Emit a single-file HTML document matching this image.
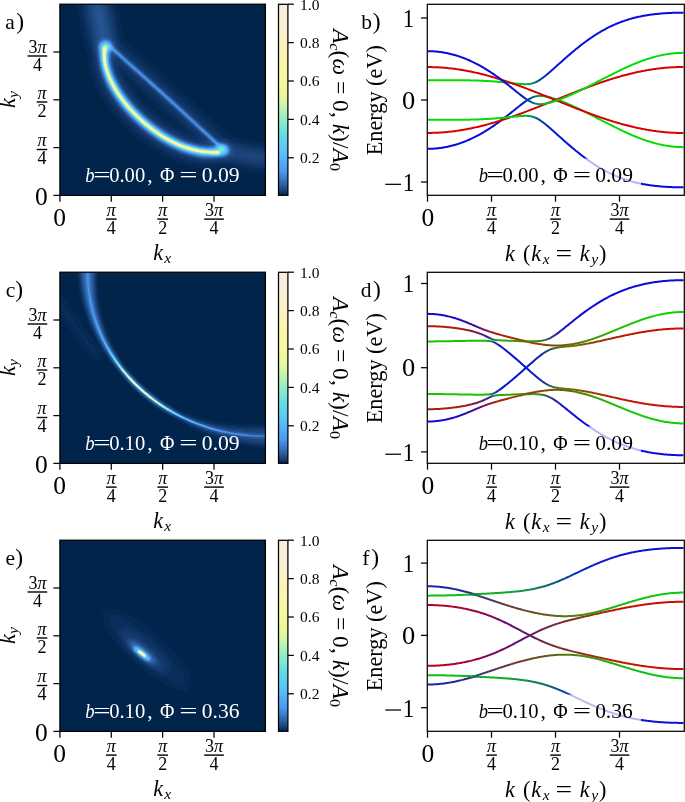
<!DOCTYPE html>
<html><head><meta charset="utf-8"><style>html,body{margin:0;padding:0;background:#fff;overflow:hidden}svg{display:block}</style></head>
<body><svg width="685" height="802" viewBox="0 0 685 802" font-family="Liberation Serif"><defs><linearGradient id="cbg" x1="0" y1="0" x2="0" y2="1"><stop offset="0.000" stop-color="#fcece0"/><stop offset="0.025" stop-color="#fcedde"/><stop offset="0.050" stop-color="#fceedc"/><stop offset="0.075" stop-color="#fcefda"/><stop offset="0.100" stop-color="#fcf0d8"/><stop offset="0.125" stop-color="#fcf0d3"/><stop offset="0.150" stop-color="#fcf0ce"/><stop offset="0.175" stop-color="#fcf0c9"/><stop offset="0.200" stop-color="#fcf0c4"/><stop offset="0.225" stop-color="#fcf1be"/><stop offset="0.250" stop-color="#fcf2b8"/><stop offset="0.275" stop-color="#fcf4b1"/><stop offset="0.300" stop-color="#fbf5ac"/><stop offset="0.325" stop-color="#faf6a7"/><stop offset="0.350" stop-color="#f8f8a2"/><stop offset="0.375" stop-color="#f7f89f"/><stop offset="0.400" stop-color="#f6f89e"/><stop offset="0.425" stop-color="#f2f89a"/><stop offset="0.450" stop-color="#eef89a"/><stop offset="0.475" stop-color="#e9f89f"/><stop offset="0.500" stop-color="#ddf6a4"/><stop offset="0.525" stop-color="#cef4a9"/><stop offset="0.550" stop-color="#baf1b3"/><stop offset="0.575" stop-color="#a7efbd"/><stop offset="0.600" stop-color="#93ecc6"/><stop offset="0.625" stop-color="#85e9cd"/><stop offset="0.650" stop-color="#79e4d6"/><stop offset="0.675" stop-color="#6cdce0"/><stop offset="0.700" stop-color="#65d7e7"/><stop offset="0.725" stop-color="#5fd2ee"/><stop offset="0.750" stop-color="#5dcaf6"/><stop offset="0.775" stop-color="#5ac2f9"/><stop offset="0.800" stop-color="#58b8fa"/><stop offset="0.825" stop-color="#54acf8"/><stop offset="0.850" stop-color="#4fa3f4"/><stop offset="0.875" stop-color="#4b9af1"/><stop offset="0.900" stop-color="#4186d9"/><stop offset="0.925" stop-color="#3670bb"/><stop offset="0.950" stop-color="#2b5c9b"/><stop offset="0.975" stop-color="#194277"/><stop offset="1.000" stop-color="#00244a"/></linearGradient><filter id="cm" x="0" y="0" width="1" height="1" color-interpolation-filters="sRGB"><feComponentTransfer><feFuncR type="table" tableValues="0.0000 0.0549 0.0838 0.1127 0.1416 0.1681 0.1851 0.2020 0.2190 0.2364 0.2543 0.2723 0.2902 0.2973 0.3045 0.3116 0.3187 0.3258 0.3325 0.3388 0.3451 0.3488 0.3526 0.3563 0.3600 0.3638 0.3677 0.3715 0.3753 0.3845 0.3960 0.4075 0.4189 0.4350 0.4541 0.4733 0.4924 0.5121 0.5323 0.5526 0.5769 0.6076 0.6382 0.6688 0.6996 0.7310 0.7624 0.7937 0.8226 0.8455 0.8685 0.8914 0.9113 0.9188 0.9262 0.9337 0.9412 0.9471 0.9529 0.9588 0.9647 0.9666 0.9684 0.9703 0.9722 0.9742 0.9762 0.9782 0.9802 0.9822 0.9842 0.9862 0.9882 0.9882 0.9882 0.9882 0.9882 0.9882 0.9882 0.9882 0.9882 0.9882 0.9882 0.9882 0.9882 0.9882 0.9882 0.9882 0.9882 0.9882 0.9882 0.9882 0.9882 0.9882 0.9882 0.9882 0.9882 0.9882 0.9882 0.9882 0.9882"/><feFuncG type="table" tableValues="0.1412 0.1961 0.2374 0.2786 0.3199 0.3593 0.3911 0.4229 0.4547 0.4885 0.5244 0.5602 0.5961 0.6103 0.6246 0.6389 0.6531 0.6674 0.6839 0.7027 0.7216 0.7365 0.7514 0.7664 0.7813 0.7935 0.8050 0.8165 0.8279 0.8367 0.8444 0.8520 0.8597 0.8696 0.8811 0.8926 0.9041 0.9123 0.9174 0.9225 0.9270 0.9308 0.9347 0.9385 0.9424 0.9463 0.9502 0.9541 0.9580 0.9618 0.9657 0.9695 0.9725 0.9725 0.9725 0.9725 0.9725 0.9725 0.9725 0.9725 0.9725 0.9725 0.9725 0.9725 0.9725 0.9709 0.9689 0.9669 0.9649 0.9629 0.9609 0.9589 0.9569 0.9549 0.9529 0.9510 0.9490 0.9471 0.9451 0.9431 0.9412 0.9412 0.9412 0.9412 0.9412 0.9412 0.9412 0.9412 0.9412 0.9412 0.9412 0.9396 0.9380 0.9365 0.9349 0.9333 0.9318 0.9302 0.9286 0.9271 0.9255"/><feFuncB type="table" tableValues="0.2902 0.3843 0.4400 0.4958 0.5515 0.6063 0.6571 0.7080 0.7589 0.8067 0.8515 0.8964 0.9412 0.9469 0.9526 0.9583 0.9640 0.9697 0.9741 0.9773 0.9804 0.9785 0.9767 0.9748 0.9729 0.9634 0.9519 0.9404 0.9289 0.9175 0.9060 0.8945 0.8830 0.8692 0.8539 0.8386 0.8233 0.8106 0.8005 0.7904 0.7782 0.7629 0.7476 0.7323 0.7169 0.7012 0.6855 0.6698 0.6565 0.6489 0.6412 0.6336 0.6260 0.6185 0.6110 0.6035 0.5961 0.6020 0.6078 0.6137 0.6196 0.6215 0.6233 0.6252 0.6271 0.6339 0.6419 0.6500 0.6580 0.6661 0.6741 0.6822 0.6902 0.7000 0.7098 0.7196 0.7294 0.7392 0.7490 0.7588 0.7686 0.7765 0.7843 0.7922 0.8000 0.8078 0.8157 0.8235 0.8314 0.8392 0.8471 0.8502 0.8533 0.8565 0.8596 0.8627 0.8659 0.8690 0.8722 0.8753 0.8784"/></feComponentTransfer></filter><clipPath id="clipL0"><rect x="59.9" y="4.2" width="205.5" height="191.2"/></clipPath><linearGradient id="gc0" gradientUnits="userSpaceOnUse" x1="87.6" y1="4.3" x2="265.3" y2="168.2"><stop offset="0" stop-color="#fff" stop-opacity="0.02"/><stop offset="0.15" stop-color="#fff" stop-opacity="0.04"/><stop offset="0.28" stop-color="#fff" stop-opacity="0.12"/><stop offset="0.36" stop-color="#fff" stop-opacity="0.35"/><stop offset="0.44" stop-color="#fff" stop-opacity="0.7"/><stop offset="0.5" stop-color="#fff" stop-opacity="0.78"/><stop offset="0.56" stop-color="#fff" stop-opacity="0.6"/><stop offset="0.64" stop-color="#fff" stop-opacity="0.3"/><stop offset="0.75" stop-color="#fff" stop-opacity="0.12"/><stop offset="0.88" stop-color="#fff" stop-opacity="0.06"/><stop offset="1" stop-color="#fff" stop-opacity="0.04"/></linearGradient><linearGradient id="gcg0" gradientUnits="userSpaceOnUse" x1="87.6" y1="4.3" x2="265.3" y2="168.2"><stop offset="0" stop-color="#fff" stop-opacity="0.03"/><stop offset="0.25" stop-color="#fff" stop-opacity="0.05"/><stop offset="0.45" stop-color="#fff" stop-opacity="0.12"/><stop offset="0.55" stop-color="#fff" stop-opacity="0.12"/><stop offset="0.7" stop-color="#fff" stop-opacity="0.05"/><stop offset="1" stop-color="#fff" stop-opacity="0.02"/></linearGradient><clipPath id="clipR0"><rect x="427.3" y="4.3" width="257" height="191"/></clipPath><clipPath id="clipL1"><rect x="59.9" y="272.2" width="205.5" height="191.2"/></clipPath><linearGradient id="gc268" gradientUnits="userSpaceOnUse" x1="87.6" y1="272.3" x2="265.3" y2="436.2"><stop offset="0" stop-color="#fff" stop-opacity="0.02"/><stop offset="0.15" stop-color="#fff" stop-opacity="0.04"/><stop offset="0.28" stop-color="#fff" stop-opacity="0.12"/><stop offset="0.36" stop-color="#fff" stop-opacity="0.35"/><stop offset="0.44" stop-color="#fff" stop-opacity="0.7"/><stop offset="0.5" stop-color="#fff" stop-opacity="0.78"/><stop offset="0.56" stop-color="#fff" stop-opacity="0.6"/><stop offset="0.64" stop-color="#fff" stop-opacity="0.3"/><stop offset="0.75" stop-color="#fff" stop-opacity="0.12"/><stop offset="0.88" stop-color="#fff" stop-opacity="0.06"/><stop offset="1" stop-color="#fff" stop-opacity="0.04"/></linearGradient><linearGradient id="gcg268" gradientUnits="userSpaceOnUse" x1="87.6" y1="272.3" x2="265.3" y2="436.2"><stop offset="0" stop-color="#fff" stop-opacity="0.03"/><stop offset="0.25" stop-color="#fff" stop-opacity="0.05"/><stop offset="0.45" stop-color="#fff" stop-opacity="0.12"/><stop offset="0.55" stop-color="#fff" stop-opacity="0.12"/><stop offset="0.7" stop-color="#fff" stop-opacity="0.05"/><stop offset="1" stop-color="#fff" stop-opacity="0.02"/></linearGradient><clipPath id="clipR1"><rect x="427.3" y="272.3" width="257" height="191"/></clipPath><clipPath id="clipL2"><rect x="59.9" y="540.2" width="205.5" height="191.2"/></clipPath><linearGradient id="gc536" gradientUnits="userSpaceOnUse" x1="87.6" y1="540.3" x2="265.3" y2="704.2"><stop offset="0" stop-color="#fff" stop-opacity="0.02"/><stop offset="0.15" stop-color="#fff" stop-opacity="0.04"/><stop offset="0.28" stop-color="#fff" stop-opacity="0.12"/><stop offset="0.36" stop-color="#fff" stop-opacity="0.35"/><stop offset="0.44" stop-color="#fff" stop-opacity="0.7"/><stop offset="0.5" stop-color="#fff" stop-opacity="0.78"/><stop offset="0.56" stop-color="#fff" stop-opacity="0.6"/><stop offset="0.64" stop-color="#fff" stop-opacity="0.3"/><stop offset="0.75" stop-color="#fff" stop-opacity="0.12"/><stop offset="0.88" stop-color="#fff" stop-opacity="0.06"/><stop offset="1" stop-color="#fff" stop-opacity="0.04"/></linearGradient><linearGradient id="gcg536" gradientUnits="userSpaceOnUse" x1="87.6" y1="540.3" x2="265.3" y2="704.2"><stop offset="0" stop-color="#fff" stop-opacity="0.03"/><stop offset="0.25" stop-color="#fff" stop-opacity="0.05"/><stop offset="0.45" stop-color="#fff" stop-opacity="0.12"/><stop offset="0.55" stop-color="#fff" stop-opacity="0.12"/><stop offset="0.7" stop-color="#fff" stop-opacity="0.05"/><stop offset="1" stop-color="#fff" stop-opacity="0.02"/></linearGradient><clipPath id="clipR2"><rect x="427.3" y="540.3" width="257" height="191"/></clipPath><linearGradient id="lg0_0" gradientUnits="userSpaceOnUse" x1="427.5" y1="0" x2="683.5" y2="0"><stop offset="0.0000" stop-color="#0809e0"/><stop offset="0.0156" stop-color="#0809e0"/><stop offset="0.0312" stop-color="#0809e0"/><stop offset="0.0469" stop-color="#0809e0"/><stop offset="0.0625" stop-color="#0809e0"/><stop offset="0.0781" stop-color="#0809e0"/><stop offset="0.0938" stop-color="#0809e0"/><stop offset="0.1094" stop-color="#0809e0"/><stop offset="0.1250" stop-color="#0809e0"/><stop offset="0.1406" stop-color="#0809e0"/><stop offset="0.1562" stop-color="#0809e0"/><stop offset="0.1719" stop-color="#0809e0"/><stop offset="0.1875" stop-color="#0809e0"/><stop offset="0.2031" stop-color="#0809e0"/><stop offset="0.2188" stop-color="#080adf"/><stop offset="0.2344" stop-color="#080adf"/><stop offset="0.2500" stop-color="#080adf"/><stop offset="0.2656" stop-color="#080bde"/><stop offset="0.2812" stop-color="#080cdd"/><stop offset="0.2969" stop-color="#080ddc"/><stop offset="0.3125" stop-color="#080eda"/><stop offset="0.3281" stop-color="#0811d8"/><stop offset="0.3437" stop-color="#0814d4"/><stop offset="0.3594" stop-color="#071ace"/><stop offset="0.3750" stop-color="#0725c3"/><stop offset="0.3906" stop-color="#0637b0"/><stop offset="0.4063" stop-color="#055591"/><stop offset="0.4219" stop-color="#047b69"/><stop offset="0.4375" stop-color="#029e45"/><stop offset="0.4531" stop-color="#02b52d"/><stop offset="0.4687" stop-color="#01c31e"/><stop offset="0.4844" stop-color="#01cb15"/><stop offset="0.5000" stop-color="#01d110"/><stop offset="0.5156" stop-color="#00d40c"/><stop offset="0.5312" stop-color="#00d60a"/><stop offset="0.5469" stop-color="#00d808"/><stop offset="0.5625" stop-color="#00d907"/><stop offset="0.5781" stop-color="#00da06"/><stop offset="0.5938" stop-color="#00db05"/><stop offset="0.6094" stop-color="#00db05"/><stop offset="0.6250" stop-color="#00dc04"/><stop offset="0.6406" stop-color="#00dc04"/><stop offset="0.6562" stop-color="#00dc04"/><stop offset="0.6719" stop-color="#00dd03"/><stop offset="0.6875" stop-color="#00dd03"/><stop offset="0.7031" stop-color="#00dd03"/><stop offset="0.7188" stop-color="#00dd03"/><stop offset="0.7344" stop-color="#00dd03"/><stop offset="0.7500" stop-color="#00dd03"/><stop offset="0.7656" stop-color="#00dd03"/><stop offset="0.7812" stop-color="#00de03"/><stop offset="0.7969" stop-color="#00de02"/><stop offset="0.8125" stop-color="#00de02"/><stop offset="0.8281" stop-color="#00de02"/><stop offset="0.8438" stop-color="#00de02"/><stop offset="0.8594" stop-color="#00de02"/><stop offset="0.8750" stop-color="#00de02"/><stop offset="0.8906" stop-color="#00de02"/><stop offset="0.9062" stop-color="#00de02"/><stop offset="0.9219" stop-color="#00de02"/><stop offset="0.9375" stop-color="#00de02"/><stop offset="0.9531" stop-color="#00de02"/><stop offset="0.9688" stop-color="#00de02"/><stop offset="0.9844" stop-color="#00de02"/><stop offset="1.0000" stop-color="#00de02"/></linearGradient><linearGradient id="lg0_1" gradientUnits="userSpaceOnUse" x1="427.5" y1="0" x2="683.5" y2="0"><stop offset="0.0000" stop-color="#d80000"/><stop offset="0.0156" stop-color="#d80000"/><stop offset="0.0312" stop-color="#d80000"/><stop offset="0.0469" stop-color="#d80000"/><stop offset="0.0625" stop-color="#d80000"/><stop offset="0.0781" stop-color="#d80000"/><stop offset="0.0938" stop-color="#d80000"/><stop offset="0.1094" stop-color="#d80000"/><stop offset="0.1250" stop-color="#d80000"/><stop offset="0.1406" stop-color="#d80000"/><stop offset="0.1562" stop-color="#d80000"/><stop offset="0.1719" stop-color="#d80000"/><stop offset="0.1875" stop-color="#d80000"/><stop offset="0.2031" stop-color="#d80000"/><stop offset="0.2188" stop-color="#d80000"/><stop offset="0.2344" stop-color="#d80000"/><stop offset="0.2500" stop-color="#d80000"/><stop offset="0.2656" stop-color="#d80000"/><stop offset="0.2812" stop-color="#d80000"/><stop offset="0.2969" stop-color="#d80000"/><stop offset="0.3125" stop-color="#d80000"/><stop offset="0.3281" stop-color="#d80000"/><stop offset="0.3437" stop-color="#d80000"/><stop offset="0.3594" stop-color="#d80000"/><stop offset="0.3750" stop-color="#d80000"/><stop offset="0.3906" stop-color="#d80000"/><stop offset="0.4063" stop-color="#d80000"/><stop offset="0.4219" stop-color="#d80000"/><stop offset="0.4375" stop-color="#d80000"/><stop offset="0.4531" stop-color="#d80000"/><stop offset="0.4687" stop-color="#d80000"/><stop offset="0.4844" stop-color="#d80000"/><stop offset="0.5000" stop-color="#d80000"/><stop offset="0.5156" stop-color="#d80000"/><stop offset="0.5312" stop-color="#d80000"/><stop offset="0.5469" stop-color="#d80000"/><stop offset="0.5625" stop-color="#d80000"/><stop offset="0.5781" stop-color="#d80000"/><stop offset="0.5938" stop-color="#d80000"/><stop offset="0.6094" stop-color="#d80000"/><stop offset="0.6250" stop-color="#d80000"/><stop offset="0.6406" stop-color="#d80000"/><stop offset="0.6562" stop-color="#d80000"/><stop offset="0.6719" stop-color="#d80000"/><stop offset="0.6875" stop-color="#d80000"/><stop offset="0.7031" stop-color="#d80000"/><stop offset="0.7188" stop-color="#d80000"/><stop offset="0.7344" stop-color="#d80000"/><stop offset="0.7500" stop-color="#d80000"/><stop offset="0.7656" stop-color="#d80000"/><stop offset="0.7812" stop-color="#d80000"/><stop offset="0.7969" stop-color="#d80000"/><stop offset="0.8125" stop-color="#d80000"/><stop offset="0.8281" stop-color="#d80000"/><stop offset="0.8438" stop-color="#d80000"/><stop offset="0.8594" stop-color="#d80000"/><stop offset="0.8750" stop-color="#d80000"/><stop offset="0.8906" stop-color="#d80000"/><stop offset="0.9062" stop-color="#d80000"/><stop offset="0.9219" stop-color="#d80000"/><stop offset="0.9375" stop-color="#d80000"/><stop offset="0.9531" stop-color="#d80000"/><stop offset="0.9688" stop-color="#d80000"/><stop offset="0.9844" stop-color="#d80000"/><stop offset="1.0000" stop-color="#d80000"/></linearGradient><linearGradient id="lg0_2" gradientUnits="userSpaceOnUse" x1="427.5" y1="0" x2="683.5" y2="0"><stop offset="0.0000" stop-color="#00df01"/><stop offset="0.0156" stop-color="#00df01"/><stop offset="0.0312" stop-color="#00df01"/><stop offset="0.0469" stop-color="#00df01"/><stop offset="0.0625" stop-color="#00df01"/><stop offset="0.0781" stop-color="#00df01"/><stop offset="0.0938" stop-color="#00df01"/><stop offset="0.1094" stop-color="#00df01"/><stop offset="0.1250" stop-color="#00df01"/><stop offset="0.1406" stop-color="#00df01"/><stop offset="0.1562" stop-color="#00df01"/><stop offset="0.1719" stop-color="#00df01"/><stop offset="0.1875" stop-color="#00df01"/><stop offset="0.2031" stop-color="#00df01"/><stop offset="0.2188" stop-color="#00de02"/><stop offset="0.2344" stop-color="#00de02"/><stop offset="0.2500" stop-color="#00de02"/><stop offset="0.2656" stop-color="#00dd03"/><stop offset="0.2812" stop-color="#00dc04"/><stop offset="0.2969" stop-color="#00db05"/><stop offset="0.3125" stop-color="#00da07"/><stop offset="0.3281" stop-color="#00d709"/><stop offset="0.3437" stop-color="#00d40d"/><stop offset="0.3594" stop-color="#01ce13"/><stop offset="0.3750" stop-color="#01c31e"/><stop offset="0.3906" stop-color="#02b131"/><stop offset="0.4063" stop-color="#039350"/><stop offset="0.4219" stop-color="#046d78"/><stop offset="0.4375" stop-color="#064a9c"/><stop offset="0.4531" stop-color="#0633b4"/><stop offset="0.4687" stop-color="#0725c3"/><stop offset="0.4844" stop-color="#071dcc"/><stop offset="0.5000" stop-color="#0717d1"/><stop offset="0.5156" stop-color="#0814d5"/><stop offset="0.5312" stop-color="#0812d7"/><stop offset="0.5469" stop-color="#0810d9"/><stop offset="0.5625" stop-color="#080fda"/><stop offset="0.5781" stop-color="#080edb"/><stop offset="0.5938" stop-color="#080ddc"/><stop offset="0.6094" stop-color="#080ddc"/><stop offset="0.6250" stop-color="#080cdd"/><stop offset="0.6406" stop-color="#080cdd"/><stop offset="0.6562" stop-color="#080cdd"/><stop offset="0.6719" stop-color="#080bde"/><stop offset="0.6875" stop-color="#080bde"/><stop offset="0.7031" stop-color="#080bde"/><stop offset="0.7188" stop-color="#080bde"/><stop offset="0.7344" stop-color="#080bde"/><stop offset="0.7500" stop-color="#080bde"/><stop offset="0.7656" stop-color="#080bde"/><stop offset="0.7812" stop-color="#080ade"/><stop offset="0.7969" stop-color="#080adf"/><stop offset="0.8125" stop-color="#080adf"/><stop offset="0.8281" stop-color="#080adf"/><stop offset="0.8438" stop-color="#080adf"/><stop offset="0.8594" stop-color="#080adf"/><stop offset="0.8750" stop-color="#080adf"/><stop offset="0.8906" stop-color="#080adf"/><stop offset="0.9062" stop-color="#080adf"/><stop offset="0.9219" stop-color="#080adf"/><stop offset="0.9375" stop-color="#080adf"/><stop offset="0.9531" stop-color="#080adf"/><stop offset="0.9688" stop-color="#080adf"/><stop offset="0.9844" stop-color="#080adf"/><stop offset="1.0000" stop-color="#080adf"/></linearGradient><linearGradient id="lg0_3" gradientUnits="userSpaceOnUse" x1="427.5" y1="0" x2="683.5" y2="0"><stop offset="0.0000" stop-color="#00df01"/><stop offset="0.0156" stop-color="#00df01"/><stop offset="0.0312" stop-color="#00df01"/><stop offset="0.0469" stop-color="#00df01"/><stop offset="0.0625" stop-color="#00df01"/><stop offset="0.0781" stop-color="#00df01"/><stop offset="0.0938" stop-color="#00df01"/><stop offset="0.1094" stop-color="#00df01"/><stop offset="0.1250" stop-color="#00df01"/><stop offset="0.1406" stop-color="#00df01"/><stop offset="0.1562" stop-color="#00df01"/><stop offset="0.1719" stop-color="#00df01"/><stop offset="0.1875" stop-color="#00df01"/><stop offset="0.2031" stop-color="#00df01"/><stop offset="0.2188" stop-color="#00de02"/><stop offset="0.2344" stop-color="#00de02"/><stop offset="0.2500" stop-color="#00de02"/><stop offset="0.2656" stop-color="#00dd03"/><stop offset="0.2812" stop-color="#00dc04"/><stop offset="0.2969" stop-color="#00db05"/><stop offset="0.3125" stop-color="#00da07"/><stop offset="0.3281" stop-color="#00d709"/><stop offset="0.3437" stop-color="#00d40d"/><stop offset="0.3594" stop-color="#01ce13"/><stop offset="0.3750" stop-color="#01c31e"/><stop offset="0.3906" stop-color="#02b131"/><stop offset="0.4063" stop-color="#039350"/><stop offset="0.4219" stop-color="#046d78"/><stop offset="0.4375" stop-color="#064a9c"/><stop offset="0.4531" stop-color="#0633b4"/><stop offset="0.4687" stop-color="#0725c3"/><stop offset="0.4844" stop-color="#071dcc"/><stop offset="0.5000" stop-color="#0717d1"/><stop offset="0.5156" stop-color="#0814d5"/><stop offset="0.5312" stop-color="#0812d7"/><stop offset="0.5469" stop-color="#0810d9"/><stop offset="0.5625" stop-color="#080fda"/><stop offset="0.5781" stop-color="#080edb"/><stop offset="0.5938" stop-color="#080ddc"/><stop offset="0.6094" stop-color="#080ddc"/><stop offset="0.6250" stop-color="#080cdd"/><stop offset="0.6406" stop-color="#080cdd"/><stop offset="0.6562" stop-color="#080cdd"/><stop offset="0.6719" stop-color="#080bde"/><stop offset="0.6875" stop-color="#080bde"/><stop offset="0.7031" stop-color="#080bde"/><stop offset="0.7188" stop-color="#080bde"/><stop offset="0.7344" stop-color="#080bde"/><stop offset="0.7500" stop-color="#080bde"/><stop offset="0.7656" stop-color="#080bde"/><stop offset="0.7812" stop-color="#080ade"/><stop offset="0.7969" stop-color="#080adf"/><stop offset="0.8125" stop-color="#080adf"/><stop offset="0.8281" stop-color="#080adf"/><stop offset="0.8438" stop-color="#080adf"/><stop offset="0.8594" stop-color="#080adf"/><stop offset="0.8750" stop-color="#080adf"/><stop offset="0.8906" stop-color="#080adf"/><stop offset="0.9062" stop-color="#080adf"/><stop offset="0.9219" stop-color="#080adf"/><stop offset="0.9375" stop-color="#080adf"/><stop offset="0.9531" stop-color="#080adf"/><stop offset="0.9688" stop-color="#080adf"/><stop offset="0.9844" stop-color="#080adf"/><stop offset="1.0000" stop-color="#080adf"/></linearGradient><linearGradient id="lg0_4" gradientUnits="userSpaceOnUse" x1="427.5" y1="0" x2="683.5" y2="0"><stop offset="0.0000" stop-color="#d80000"/><stop offset="0.0156" stop-color="#d80000"/><stop offset="0.0312" stop-color="#d80000"/><stop offset="0.0469" stop-color="#d80000"/><stop offset="0.0625" stop-color="#d80000"/><stop offset="0.0781" stop-color="#d80000"/><stop offset="0.0938" stop-color="#d80000"/><stop offset="0.1094" stop-color="#d80000"/><stop offset="0.1250" stop-color="#d80000"/><stop offset="0.1406" stop-color="#d80000"/><stop offset="0.1562" stop-color="#d80000"/><stop offset="0.1719" stop-color="#d80000"/><stop offset="0.1875" stop-color="#d80000"/><stop offset="0.2031" stop-color="#d80000"/><stop offset="0.2188" stop-color="#d80000"/><stop offset="0.2344" stop-color="#d80000"/><stop offset="0.2500" stop-color="#d80000"/><stop offset="0.2656" stop-color="#d80000"/><stop offset="0.2812" stop-color="#d80000"/><stop offset="0.2969" stop-color="#d80000"/><stop offset="0.3125" stop-color="#d80000"/><stop offset="0.3281" stop-color="#d80000"/><stop offset="0.3437" stop-color="#d80000"/><stop offset="0.3594" stop-color="#d80000"/><stop offset="0.3750" stop-color="#d80000"/><stop offset="0.3906" stop-color="#d80000"/><stop offset="0.4063" stop-color="#d80000"/><stop offset="0.4219" stop-color="#d80000"/><stop offset="0.4375" stop-color="#d80000"/><stop offset="0.4531" stop-color="#d80000"/><stop offset="0.4687" stop-color="#d80000"/><stop offset="0.4844" stop-color="#d80000"/><stop offset="0.5000" stop-color="#d80000"/><stop offset="0.5156" stop-color="#d80000"/><stop offset="0.5312" stop-color="#d80000"/><stop offset="0.5469" stop-color="#d80000"/><stop offset="0.5625" stop-color="#d80000"/><stop offset="0.5781" stop-color="#d80000"/><stop offset="0.5938" stop-color="#d80000"/><stop offset="0.6094" stop-color="#d80000"/><stop offset="0.6250" stop-color="#d80000"/><stop offset="0.6406" stop-color="#d80000"/><stop offset="0.6562" stop-color="#d80000"/><stop offset="0.6719" stop-color="#d80000"/><stop offset="0.6875" stop-color="#d80000"/><stop offset="0.7031" stop-color="#d80000"/><stop offset="0.7188" stop-color="#d80000"/><stop offset="0.7344" stop-color="#d80000"/><stop offset="0.7500" stop-color="#d80000"/><stop offset="0.7656" stop-color="#d80000"/><stop offset="0.7812" stop-color="#d80000"/><stop offset="0.7969" stop-color="#d80000"/><stop offset="0.8125" stop-color="#d80000"/><stop offset="0.8281" stop-color="#d80000"/><stop offset="0.8438" stop-color="#d80000"/><stop offset="0.8594" stop-color="#d80000"/><stop offset="0.8750" stop-color="#d80000"/><stop offset="0.8906" stop-color="#d80000"/><stop offset="0.9062" stop-color="#d80000"/><stop offset="0.9219" stop-color="#d80000"/><stop offset="0.9375" stop-color="#d80000"/><stop offset="0.9531" stop-color="#d80000"/><stop offset="0.9688" stop-color="#d80000"/><stop offset="0.9844" stop-color="#d80000"/><stop offset="1.0000" stop-color="#d80000"/></linearGradient><linearGradient id="lg0_5" gradientUnits="userSpaceOnUse" x1="427.5" y1="0" x2="683.5" y2="0"><stop offset="0.0000" stop-color="#0809e0"/><stop offset="0.0156" stop-color="#0809e0"/><stop offset="0.0312" stop-color="#0809e0"/><stop offset="0.0469" stop-color="#0809e0"/><stop offset="0.0625" stop-color="#0809e0"/><stop offset="0.0781" stop-color="#0809e0"/><stop offset="0.0938" stop-color="#0809e0"/><stop offset="0.1094" stop-color="#0809e0"/><stop offset="0.1250" stop-color="#0809e0"/><stop offset="0.1406" stop-color="#0809e0"/><stop offset="0.1562" stop-color="#0809e0"/><stop offset="0.1719" stop-color="#0809e0"/><stop offset="0.1875" stop-color="#0809e0"/><stop offset="0.2031" stop-color="#0809e0"/><stop offset="0.2188" stop-color="#080adf"/><stop offset="0.2344" stop-color="#080adf"/><stop offset="0.2500" stop-color="#080adf"/><stop offset="0.2656" stop-color="#080bde"/><stop offset="0.2812" stop-color="#080cdd"/><stop offset="0.2969" stop-color="#080ddc"/><stop offset="0.3125" stop-color="#080eda"/><stop offset="0.3281" stop-color="#0811d8"/><stop offset="0.3437" stop-color="#0814d4"/><stop offset="0.3594" stop-color="#071ace"/><stop offset="0.3750" stop-color="#0725c3"/><stop offset="0.3906" stop-color="#0637b0"/><stop offset="0.4063" stop-color="#055591"/><stop offset="0.4219" stop-color="#047b69"/><stop offset="0.4375" stop-color="#029e45"/><stop offset="0.4531" stop-color="#02b52d"/><stop offset="0.4687" stop-color="#01c31e"/><stop offset="0.4844" stop-color="#01cb15"/><stop offset="0.5000" stop-color="#01d110"/><stop offset="0.5156" stop-color="#00d40c"/><stop offset="0.5312" stop-color="#00d60a"/><stop offset="0.5469" stop-color="#00d808"/><stop offset="0.5625" stop-color="#00d907"/><stop offset="0.5781" stop-color="#00da06"/><stop offset="0.5938" stop-color="#00db05"/><stop offset="0.6094" stop-color="#00db05"/><stop offset="0.6250" stop-color="#00dc04"/><stop offset="0.6406" stop-color="#00dc04"/><stop offset="0.6562" stop-color="#00dc04"/><stop offset="0.6719" stop-color="#00dd03"/><stop offset="0.6875" stop-color="#00dd03"/><stop offset="0.7031" stop-color="#00dd03"/><stop offset="0.7188" stop-color="#00dd03"/><stop offset="0.7344" stop-color="#00dd03"/><stop offset="0.7500" stop-color="#00dd03"/><stop offset="0.7656" stop-color="#00dd03"/><stop offset="0.7812" stop-color="#00de03"/><stop offset="0.7969" stop-color="#00de02"/><stop offset="0.8125" stop-color="#00de02"/><stop offset="0.8281" stop-color="#00de02"/><stop offset="0.8438" stop-color="#00de02"/><stop offset="0.8594" stop-color="#00de02"/><stop offset="0.8750" stop-color="#00de02"/><stop offset="0.8906" stop-color="#00de02"/><stop offset="0.9062" stop-color="#00de02"/><stop offset="0.9219" stop-color="#00de02"/><stop offset="0.9375" stop-color="#00de02"/><stop offset="0.9531" stop-color="#00de02"/><stop offset="0.9688" stop-color="#00de02"/><stop offset="0.9844" stop-color="#00de02"/><stop offset="1.0000" stop-color="#00de02"/></linearGradient><linearGradient id="lg1_0" gradientUnits="userSpaceOnUse" x1="427.5" y1="0" x2="683.5" y2="0"><stop offset="0.0000" stop-color="#1508d2"/><stop offset="0.0156" stop-color="#1508d2"/><stop offset="0.0312" stop-color="#1608d2"/><stop offset="0.0469" stop-color="#1608d1"/><stop offset="0.0625" stop-color="#1708d0"/><stop offset="0.0781" stop-color="#1808cf"/><stop offset="0.0938" stop-color="#1a08cc"/><stop offset="0.1094" stop-color="#1d08ca"/><stop offset="0.1250" stop-color="#2008c5"/><stop offset="0.1406" stop-color="#2509bf"/><stop offset="0.1562" stop-color="#2d09b6"/><stop offset="0.1719" stop-color="#380aa9"/><stop offset="0.1875" stop-color="#480c95"/><stop offset="0.2031" stop-color="#5e0f79"/><stop offset="0.2188" stop-color="#771359"/><stop offset="0.2344" stop-color="#8d173c"/><stop offset="0.2500" stop-color="#9c1b27"/><stop offset="0.2656" stop-color="#a41e19"/><stop offset="0.2812" stop-color="#a82211"/><stop offset="0.2969" stop-color="#aa250c"/><stop offset="0.3125" stop-color="#a92809"/><stop offset="0.3281" stop-color="#a72c07"/><stop offset="0.3437" stop-color="#a33205"/><stop offset="0.3594" stop-color="#9b3c04"/><stop offset="0.3750" stop-color="#815703"/><stop offset="0.3906" stop-color="#4a8d07"/><stop offset="0.4063" stop-color="#3c960d"/><stop offset="0.4219" stop-color="#3c8e15"/><stop offset="0.4375" stop-color="#3c8123"/><stop offset="0.4531" stop-color="#3b6d3a"/><stop offset="0.4687" stop-color="#34545d"/><stop offset="0.4844" stop-color="#2a3a84"/><stop offset="0.5000" stop-color="#2027a5"/><stop offset="0.5156" stop-color="#191bb9"/><stop offset="0.5312" stop-color="#1514c6"/><stop offset="0.5469" stop-color="#1210cd"/><stop offset="0.5625" stop-color="#100ed2"/><stop offset="0.5781" stop-color="#0e0cd5"/><stop offset="0.5938" stop-color="#0d0bd7"/><stop offset="0.6094" stop-color="#0d0bd9"/><stop offset="0.6250" stop-color="#0c0ada"/><stop offset="0.6406" stop-color="#0c0adb"/><stop offset="0.6562" stop-color="#0b0adc"/><stop offset="0.6719" stop-color="#0b09dc"/><stop offset="0.6875" stop-color="#0b09dc"/><stop offset="0.7031" stop-color="#0b09dd"/><stop offset="0.7188" stop-color="#0a09dd"/><stop offset="0.7344" stop-color="#0a09dd"/><stop offset="0.7500" stop-color="#0a09dd"/><stop offset="0.7656" stop-color="#0a09de"/><stop offset="0.7812" stop-color="#0a09de"/><stop offset="0.7969" stop-color="#0a09de"/><stop offset="0.8125" stop-color="#0a09de"/><stop offset="0.8281" stop-color="#0a09de"/><stop offset="0.8438" stop-color="#0a09de"/><stop offset="0.8594" stop-color="#0a09de"/><stop offset="0.8750" stop-color="#0a09de"/><stop offset="0.8906" stop-color="#0a09de"/><stop offset="0.9062" stop-color="#0a09de"/><stop offset="0.9219" stop-color="#0a09de"/><stop offset="0.9375" stop-color="#0a09de"/><stop offset="0.9531" stop-color="#0a09de"/><stop offset="0.9688" stop-color="#0a09de"/><stop offset="0.9844" stop-color="#0a09de"/><stop offset="1.0000" stop-color="#0a09de"/></linearGradient><linearGradient id="lg1_1" gradientUnits="userSpaceOnUse" x1="427.5" y1="0" x2="683.5" y2="0"><stop offset="0.0000" stop-color="#b21b0d"/><stop offset="0.0156" stop-color="#b21b0e"/><stop offset="0.0312" stop-color="#b11b0e"/><stop offset="0.0469" stop-color="#b11b0f"/><stop offset="0.0625" stop-color="#b01c10"/><stop offset="0.0781" stop-color="#ae1c11"/><stop offset="0.0938" stop-color="#ac1c13"/><stop offset="0.1094" stop-color="#a91c16"/><stop offset="0.1250" stop-color="#a51d1a"/><stop offset="0.1406" stop-color="#a01d20"/><stop offset="0.1562" stop-color="#981d28"/><stop offset="0.1719" stop-color="#8c1d35"/><stop offset="0.1875" stop-color="#7c1d49"/><stop offset="0.2031" stop-color="#651c63"/><stop offset="0.2188" stop-color="#4c1c7f"/><stop offset="0.2344" stop-color="#372191"/><stop offset="0.2500" stop-color="#2c4676"/><stop offset="0.2656" stop-color="#299127"/><stop offset="0.2812" stop-color="#29a90d"/><stop offset="0.2969" stop-color="#2aad08"/><stop offset="0.3125" stop-color="#2dac06"/><stop offset="0.3281" stop-color="#30a906"/><stop offset="0.3437" stop-color="#35a406"/><stop offset="0.3594" stop-color="#3d9a07"/><stop offset="0.3750" stop-color="#577d09"/><stop offset="0.3906" stop-color="#8e4608"/><stop offset="0.4063" stop-color="#9b3906"/><stop offset="0.4219" stop-color="#993c06"/><stop offset="0.4375" stop-color="#944006"/><stop offset="0.4531" stop-color="#8f4507"/><stop offset="0.4687" stop-color="#894a09"/><stop offset="0.4844" stop-color="#834d0c"/><stop offset="0.5000" stop-color="#7c510f"/><stop offset="0.5156" stop-color="#765413"/><stop offset="0.5312" stop-color="#705914"/><stop offset="0.5469" stop-color="#6b6012"/><stop offset="0.5625" stop-color="#67680f"/><stop offset="0.5781" stop-color="#61710c"/><stop offset="0.5938" stop-color="#5a7a09"/><stop offset="0.6094" stop-color="#528407"/><stop offset="0.6250" stop-color="#4a8e06"/><stop offset="0.6406" stop-color="#429705"/><stop offset="0.6562" stop-color="#3ba004"/><stop offset="0.6719" stop-color="#34a703"/><stop offset="0.6875" stop-color="#2eae03"/><stop offset="0.7031" stop-color="#29b302"/><stop offset="0.7188" stop-color="#25b802"/><stop offset="0.7344" stop-color="#21bc02"/><stop offset="0.7500" stop-color="#1ebf02"/><stop offset="0.7656" stop-color="#1bc202"/><stop offset="0.7812" stop-color="#19c501"/><stop offset="0.7969" stop-color="#17c701"/><stop offset="0.8125" stop-color="#15c901"/><stop offset="0.8281" stop-color="#14ca01"/><stop offset="0.8438" stop-color="#13cb01"/><stop offset="0.8594" stop-color="#12cc01"/><stop offset="0.8750" stop-color="#11cd01"/><stop offset="0.8906" stop-color="#10ce01"/><stop offset="0.9062" stop-color="#10cf01"/><stop offset="0.9219" stop-color="#0fcf01"/><stop offset="0.9375" stop-color="#0fd001"/><stop offset="0.9531" stop-color="#0fd001"/><stop offset="0.9688" stop-color="#0ed001"/><stop offset="0.9844" stop-color="#0ed001"/><stop offset="1.0000" stop-color="#0ed001"/></linearGradient><linearGradient id="lg1_2" gradientUnits="userSpaceOnUse" x1="427.5" y1="0" x2="683.5" y2="0"><stop offset="0.0000" stop-color="#19c501"/><stop offset="0.0156" stop-color="#19c501"/><stop offset="0.0312" stop-color="#19c501"/><stop offset="0.0469" stop-color="#19c501"/><stop offset="0.0625" stop-color="#19c401"/><stop offset="0.0781" stop-color="#1ac401"/><stop offset="0.0938" stop-color="#1ac402"/><stop offset="0.1094" stop-color="#1ac302"/><stop offset="0.1250" stop-color="#1ac302"/><stop offset="0.1406" stop-color="#1bc202"/><stop offset="0.1562" stop-color="#1bc202"/><stop offset="0.1719" stop-color="#1cc103"/><stop offset="0.1875" stop-color="#1cbf04"/><stop offset="0.2031" stop-color="#1dbd05"/><stop offset="0.2188" stop-color="#1dba09"/><stop offset="0.2344" stop-color="#1cb014"/><stop offset="0.2500" stop-color="#188744"/><stop offset="0.2656" stop-color="#1239a1"/><stop offset="0.2812" stop-color="#0e1ec2"/><stop offset="0.2969" stop-color="#0c16ce"/><stop offset="0.3125" stop-color="#0a13d2"/><stop offset="0.3281" stop-color="#0912d5"/><stop offset="0.3437" stop-color="#0812d6"/><stop offset="0.3594" stop-color="#0812d6"/><stop offset="0.3750" stop-color="#0814d5"/><stop offset="0.3906" stop-color="#0815d2"/><stop offset="0.4063" stop-color="#0919cd"/><stop offset="0.4219" stop-color="#0b1ec5"/><stop offset="0.4375" stop-color="#0f27b7"/><stop offset="0.4531" stop-color="#17369f"/><stop offset="0.4687" stop-color="#234a7b"/><stop offset="0.4844" stop-color="#336051"/><stop offset="0.5000" stop-color="#43702d"/><stop offset="0.5156" stop-color="#517915"/><stop offset="0.5312" stop-color="#5c7a07"/><stop offset="0.5469" stop-color="#637702"/><stop offset="0.5625" stop-color="#6a7200"/><stop offset="0.5781" stop-color="#716b00"/><stop offset="0.5938" stop-color="#796200"/><stop offset="0.6094" stop-color="#815901"/><stop offset="0.6250" stop-color="#8a5001"/><stop offset="0.6406" stop-color="#924701"/><stop offset="0.6562" stop-color="#9a3f02"/><stop offset="0.6719" stop-color="#a13702"/><stop offset="0.6875" stop-color="#a73102"/><stop offset="0.7031" stop-color="#ac2c02"/><stop offset="0.7188" stop-color="#b12702"/><stop offset="0.7344" stop-color="#b42302"/><stop offset="0.7500" stop-color="#b82002"/><stop offset="0.7656" stop-color="#ba1d02"/><stop offset="0.7812" stop-color="#bd1a02"/><stop offset="0.7969" stop-color="#bf1802"/><stop offset="0.8125" stop-color="#c01702"/><stop offset="0.8281" stop-color="#c21502"/><stop offset="0.8438" stop-color="#c31402"/><stop offset="0.8594" stop-color="#c41302"/><stop offset="0.8750" stop-color="#c51202"/><stop offset="0.8906" stop-color="#c61102"/><stop offset="0.9062" stop-color="#c61102"/><stop offset="0.9219" stop-color="#c71002"/><stop offset="0.9375" stop-color="#c71002"/><stop offset="0.9531" stop-color="#c80f02"/><stop offset="0.9688" stop-color="#c80f02"/><stop offset="0.9844" stop-color="#c80f02"/><stop offset="1.0000" stop-color="#c80f02"/></linearGradient><linearGradient id="lg1_3" gradientUnits="userSpaceOnUse" x1="427.5" y1="0" x2="683.5" y2="0"><stop offset="0.0000" stop-color="#19c501"/><stop offset="0.0156" stop-color="#19c501"/><stop offset="0.0312" stop-color="#19c501"/><stop offset="0.0469" stop-color="#19c501"/><stop offset="0.0625" stop-color="#19c401"/><stop offset="0.0781" stop-color="#1ac401"/><stop offset="0.0938" stop-color="#1ac402"/><stop offset="0.1094" stop-color="#1ac302"/><stop offset="0.1250" stop-color="#1ac302"/><stop offset="0.1406" stop-color="#1bc202"/><stop offset="0.1562" stop-color="#1bc202"/><stop offset="0.1719" stop-color="#1cc103"/><stop offset="0.1875" stop-color="#1cbf04"/><stop offset="0.2031" stop-color="#1dbd05"/><stop offset="0.2188" stop-color="#1dba09"/><stop offset="0.2344" stop-color="#1cb014"/><stop offset="0.2500" stop-color="#188744"/><stop offset="0.2656" stop-color="#1239a1"/><stop offset="0.2812" stop-color="#0e1ec2"/><stop offset="0.2969" stop-color="#0c16ce"/><stop offset="0.3125" stop-color="#0a13d2"/><stop offset="0.3281" stop-color="#0912d5"/><stop offset="0.3437" stop-color="#0812d6"/><stop offset="0.3594" stop-color="#0812d6"/><stop offset="0.3750" stop-color="#0814d5"/><stop offset="0.3906" stop-color="#0815d2"/><stop offset="0.4063" stop-color="#0919cd"/><stop offset="0.4219" stop-color="#0b1ec5"/><stop offset="0.4375" stop-color="#0f27b7"/><stop offset="0.4531" stop-color="#17369f"/><stop offset="0.4687" stop-color="#234a7b"/><stop offset="0.4844" stop-color="#336051"/><stop offset="0.5000" stop-color="#43702d"/><stop offset="0.5156" stop-color="#517915"/><stop offset="0.5312" stop-color="#5c7a07"/><stop offset="0.5469" stop-color="#637702"/><stop offset="0.5625" stop-color="#6a7200"/><stop offset="0.5781" stop-color="#716b00"/><stop offset="0.5938" stop-color="#796200"/><stop offset="0.6094" stop-color="#815901"/><stop offset="0.6250" stop-color="#8a5001"/><stop offset="0.6406" stop-color="#924701"/><stop offset="0.6562" stop-color="#9a3f02"/><stop offset="0.6719" stop-color="#a13702"/><stop offset="0.6875" stop-color="#a73102"/><stop offset="0.7031" stop-color="#ac2c02"/><stop offset="0.7188" stop-color="#b12702"/><stop offset="0.7344" stop-color="#b42302"/><stop offset="0.7500" stop-color="#b82002"/><stop offset="0.7656" stop-color="#ba1d02"/><stop offset="0.7812" stop-color="#bd1a02"/><stop offset="0.7969" stop-color="#bf1802"/><stop offset="0.8125" stop-color="#c01702"/><stop offset="0.8281" stop-color="#c21502"/><stop offset="0.8438" stop-color="#c31402"/><stop offset="0.8594" stop-color="#c41302"/><stop offset="0.8750" stop-color="#c51202"/><stop offset="0.8906" stop-color="#c61102"/><stop offset="0.9062" stop-color="#c61102"/><stop offset="0.9219" stop-color="#c71002"/><stop offset="0.9375" stop-color="#c71002"/><stop offset="0.9531" stop-color="#c80f02"/><stop offset="0.9688" stop-color="#c80f02"/><stop offset="0.9844" stop-color="#c80f02"/><stop offset="1.0000" stop-color="#c80f02"/></linearGradient><linearGradient id="lg1_4" gradientUnits="userSpaceOnUse" x1="427.5" y1="0" x2="683.5" y2="0"><stop offset="0.0000" stop-color="#b21b0d"/><stop offset="0.0156" stop-color="#b21b0e"/><stop offset="0.0312" stop-color="#b11b0e"/><stop offset="0.0469" stop-color="#b11b0f"/><stop offset="0.0625" stop-color="#b01c10"/><stop offset="0.0781" stop-color="#ae1c11"/><stop offset="0.0938" stop-color="#ac1c13"/><stop offset="0.1094" stop-color="#a91c16"/><stop offset="0.1250" stop-color="#a51d1a"/><stop offset="0.1406" stop-color="#a01d20"/><stop offset="0.1562" stop-color="#981d28"/><stop offset="0.1719" stop-color="#8c1d35"/><stop offset="0.1875" stop-color="#7c1d49"/><stop offset="0.2031" stop-color="#651c63"/><stop offset="0.2188" stop-color="#4c1c7f"/><stop offset="0.2344" stop-color="#372191"/><stop offset="0.2500" stop-color="#2c4676"/><stop offset="0.2656" stop-color="#299127"/><stop offset="0.2812" stop-color="#29a90d"/><stop offset="0.2969" stop-color="#2aad08"/><stop offset="0.3125" stop-color="#2dac06"/><stop offset="0.3281" stop-color="#30a906"/><stop offset="0.3437" stop-color="#35a406"/><stop offset="0.3594" stop-color="#3d9a07"/><stop offset="0.3750" stop-color="#577d09"/><stop offset="0.3906" stop-color="#8e4608"/><stop offset="0.4063" stop-color="#9b3906"/><stop offset="0.4219" stop-color="#993c06"/><stop offset="0.4375" stop-color="#944006"/><stop offset="0.4531" stop-color="#8f4507"/><stop offset="0.4687" stop-color="#894a09"/><stop offset="0.4844" stop-color="#834d0c"/><stop offset="0.5000" stop-color="#7c510f"/><stop offset="0.5156" stop-color="#765413"/><stop offset="0.5312" stop-color="#705914"/><stop offset="0.5469" stop-color="#6b6012"/><stop offset="0.5625" stop-color="#67680f"/><stop offset="0.5781" stop-color="#61710c"/><stop offset="0.5938" stop-color="#5a7a09"/><stop offset="0.6094" stop-color="#528407"/><stop offset="0.6250" stop-color="#4a8e06"/><stop offset="0.6406" stop-color="#429705"/><stop offset="0.6562" stop-color="#3ba004"/><stop offset="0.6719" stop-color="#34a703"/><stop offset="0.6875" stop-color="#2eae03"/><stop offset="0.7031" stop-color="#29b302"/><stop offset="0.7188" stop-color="#25b802"/><stop offset="0.7344" stop-color="#21bc02"/><stop offset="0.7500" stop-color="#1ebf02"/><stop offset="0.7656" stop-color="#1bc202"/><stop offset="0.7812" stop-color="#19c501"/><stop offset="0.7969" stop-color="#17c701"/><stop offset="0.8125" stop-color="#15c901"/><stop offset="0.8281" stop-color="#14ca01"/><stop offset="0.8438" stop-color="#13cb01"/><stop offset="0.8594" stop-color="#12cc01"/><stop offset="0.8750" stop-color="#11cd01"/><stop offset="0.8906" stop-color="#10ce01"/><stop offset="0.9062" stop-color="#10cf01"/><stop offset="0.9219" stop-color="#0fcf01"/><stop offset="0.9375" stop-color="#0fd001"/><stop offset="0.9531" stop-color="#0fd001"/><stop offset="0.9688" stop-color="#0ed001"/><stop offset="0.9844" stop-color="#0ed001"/><stop offset="1.0000" stop-color="#0ed001"/></linearGradient><linearGradient id="lg1_5" gradientUnits="userSpaceOnUse" x1="427.5" y1="0" x2="683.5" y2="0"><stop offset="0.0000" stop-color="#1508d2"/><stop offset="0.0156" stop-color="#1508d2"/><stop offset="0.0312" stop-color="#1608d2"/><stop offset="0.0469" stop-color="#1608d1"/><stop offset="0.0625" stop-color="#1708d0"/><stop offset="0.0781" stop-color="#1808cf"/><stop offset="0.0938" stop-color="#1a08cc"/><stop offset="0.1094" stop-color="#1d08ca"/><stop offset="0.1250" stop-color="#2008c5"/><stop offset="0.1406" stop-color="#2509bf"/><stop offset="0.1562" stop-color="#2d09b6"/><stop offset="0.1719" stop-color="#380aa9"/><stop offset="0.1875" stop-color="#480c95"/><stop offset="0.2031" stop-color="#5e0f79"/><stop offset="0.2188" stop-color="#771359"/><stop offset="0.2344" stop-color="#8d173c"/><stop offset="0.2500" stop-color="#9c1b27"/><stop offset="0.2656" stop-color="#a41e19"/><stop offset="0.2812" stop-color="#a82211"/><stop offset="0.2969" stop-color="#aa250c"/><stop offset="0.3125" stop-color="#a92809"/><stop offset="0.3281" stop-color="#a72c07"/><stop offset="0.3437" stop-color="#a33205"/><stop offset="0.3594" stop-color="#9b3c04"/><stop offset="0.3750" stop-color="#815703"/><stop offset="0.3906" stop-color="#4a8d07"/><stop offset="0.4063" stop-color="#3c960d"/><stop offset="0.4219" stop-color="#3c8e15"/><stop offset="0.4375" stop-color="#3c8123"/><stop offset="0.4531" stop-color="#3b6d3a"/><stop offset="0.4687" stop-color="#34545d"/><stop offset="0.4844" stop-color="#2a3a84"/><stop offset="0.5000" stop-color="#2027a5"/><stop offset="0.5156" stop-color="#191bb9"/><stop offset="0.5312" stop-color="#1514c6"/><stop offset="0.5469" stop-color="#1210cd"/><stop offset="0.5625" stop-color="#100ed2"/><stop offset="0.5781" stop-color="#0e0cd5"/><stop offset="0.5938" stop-color="#0d0bd7"/><stop offset="0.6094" stop-color="#0d0bd9"/><stop offset="0.6250" stop-color="#0c0ada"/><stop offset="0.6406" stop-color="#0c0adb"/><stop offset="0.6562" stop-color="#0b0adc"/><stop offset="0.6719" stop-color="#0b09dc"/><stop offset="0.6875" stop-color="#0b09dc"/><stop offset="0.7031" stop-color="#0b09dd"/><stop offset="0.7188" stop-color="#0a09dd"/><stop offset="0.7344" stop-color="#0a09dd"/><stop offset="0.7500" stop-color="#0a09dd"/><stop offset="0.7656" stop-color="#0a09de"/><stop offset="0.7812" stop-color="#0a09de"/><stop offset="0.7969" stop-color="#0a09de"/><stop offset="0.8125" stop-color="#0a09de"/><stop offset="0.8281" stop-color="#0a09de"/><stop offset="0.8438" stop-color="#0a09de"/><stop offset="0.8594" stop-color="#0a09de"/><stop offset="0.8750" stop-color="#0a09de"/><stop offset="0.8906" stop-color="#0a09de"/><stop offset="0.9062" stop-color="#0a09de"/><stop offset="0.9219" stop-color="#0a09de"/><stop offset="0.9375" stop-color="#0a09de"/><stop offset="0.9531" stop-color="#0a09de"/><stop offset="0.9688" stop-color="#0a09de"/><stop offset="0.9844" stop-color="#0a09de"/><stop offset="1.0000" stop-color="#0a09de"/></linearGradient><linearGradient id="lg2_0" gradientUnits="userSpaceOnUse" x1="427.5" y1="0" x2="683.5" y2="0"><stop offset="0.0000" stop-color="#2124a6"/><stop offset="0.0156" stop-color="#2124a6"/><stop offset="0.0312" stop-color="#2224a6"/><stop offset="0.0469" stop-color="#2224a5"/><stop offset="0.0625" stop-color="#2325a3"/><stop offset="0.0781" stop-color="#2425a1"/><stop offset="0.0938" stop-color="#26269f"/><stop offset="0.1094" stop-color="#28269c"/><stop offset="0.1250" stop-color="#2a2799"/><stop offset="0.1406" stop-color="#2d2894"/><stop offset="0.1562" stop-color="#312b8e"/><stop offset="0.1719" stop-color="#32387e"/><stop offset="0.1875" stop-color="#1f863f"/><stop offset="0.2031" stop-color="#13a925"/><stop offset="0.2188" stop-color="#11af22"/><stop offset="0.2344" stop-color="#10b022"/><stop offset="0.2500" stop-color="#10af24"/><stop offset="0.2656" stop-color="#10ad26"/><stop offset="0.2812" stop-color="#10ab28"/><stop offset="0.2969" stop-color="#10a82b"/><stop offset="0.3125" stop-color="#10a42f"/><stop offset="0.3281" stop-color="#10a133"/><stop offset="0.3437" stop-color="#109c37"/><stop offset="0.3594" stop-color="#10973d"/><stop offset="0.3750" stop-color="#109143"/><stop offset="0.3906" stop-color="#108b4a"/><stop offset="0.4063" stop-color="#108452"/><stop offset="0.4219" stop-color="#107c5a"/><stop offset="0.4375" stop-color="#107463"/><stop offset="0.4531" stop-color="#0f6c6d"/><stop offset="0.4687" stop-color="#0f6377"/><stop offset="0.4844" stop-color="#0e5b80"/><stop offset="0.5000" stop-color="#0e538a"/><stop offset="0.5156" stop-color="#0d4b93"/><stop offset="0.5312" stop-color="#0c449b"/><stop offset="0.5469" stop-color="#0c3da3"/><stop offset="0.5625" stop-color="#0b38aa"/><stop offset="0.5781" stop-color="#0b33b0"/><stop offset="0.5938" stop-color="#0b2eb5"/><stop offset="0.6094" stop-color="#0a2ab9"/><stop offset="0.6250" stop-color="#0a27bd"/><stop offset="0.6406" stop-color="#0a24c0"/><stop offset="0.6562" stop-color="#0a22c3"/><stop offset="0.6719" stop-color="#0920c6"/><stop offset="0.6875" stop-color="#091ec8"/><stop offset="0.7031" stop-color="#091cca"/><stop offset="0.7188" stop-color="#091bcb"/><stop offset="0.7344" stop-color="#091acd"/><stop offset="0.7500" stop-color="#0919ce"/><stop offset="0.7656" stop-color="#0918cf"/><stop offset="0.7812" stop-color="#0917d0"/><stop offset="0.7969" stop-color="#0916d1"/><stop offset="0.8125" stop-color="#0916d1"/><stop offset="0.8281" stop-color="#0915d2"/><stop offset="0.8438" stop-color="#0915d2"/><stop offset="0.8594" stop-color="#0914d3"/><stop offset="0.8750" stop-color="#0914d3"/><stop offset="0.8906" stop-color="#0914d3"/><stop offset="0.9062" stop-color="#0914d4"/><stop offset="0.9219" stop-color="#0913d4"/><stop offset="0.9375" stop-color="#0913d4"/><stop offset="0.9531" stop-color="#0913d4"/><stop offset="0.9688" stop-color="#0913d4"/><stop offset="0.9844" stop-color="#0913d4"/><stop offset="1.0000" stop-color="#0913d4"/></linearGradient><linearGradient id="lg2_1" gradientUnits="userSpaceOnUse" x1="427.5" y1="0" x2="683.5" y2="0"><stop offset="0.0000" stop-color="#0cc115"/><stop offset="0.0156" stop-color="#0cc115"/><stop offset="0.0312" stop-color="#0cc115"/><stop offset="0.0469" stop-color="#0cc015"/><stop offset="0.0625" stop-color="#0cc015"/><stop offset="0.0781" stop-color="#0cc016"/><stop offset="0.0938" stop-color="#0cbf16"/><stop offset="0.1094" stop-color="#0cbf17"/><stop offset="0.1250" stop-color="#0cbe18"/><stop offset="0.1406" stop-color="#0cbd19"/><stop offset="0.1562" stop-color="#0cbb1b"/><stop offset="0.1719" stop-color="#0eae27"/><stop offset="0.1875" stop-color="#266061"/><stop offset="0.2031" stop-color="#363c75"/><stop offset="0.2188" stop-color="#3f3672"/><stop offset="0.2344" stop-color="#46356b"/><stop offset="0.2500" stop-color="#4c3564"/><stop offset="0.2656" stop-color="#53365b"/><stop offset="0.2812" stop-color="#593753"/><stop offset="0.2969" stop-color="#5f384b"/><stop offset="0.3125" stop-color="#643944"/><stop offset="0.3281" stop-color="#693b3d"/><stop offset="0.3437" stop-color="#6c3d37"/><stop offset="0.3594" stop-color="#6f3f32"/><stop offset="0.3750" stop-color="#70412e"/><stop offset="0.3906" stop-color="#71442a"/><stop offset="0.4063" stop-color="#714826"/><stop offset="0.4219" stop-color="#6f4c24"/><stop offset="0.4375" stop-color="#6d5021"/><stop offset="0.4531" stop-color="#6a551f"/><stop offset="0.4687" stop-color="#665b1d"/><stop offset="0.4844" stop-color="#62611c"/><stop offset="0.5000" stop-color="#5d671a"/><stop offset="0.5156" stop-color="#586e19"/><stop offset="0.5312" stop-color="#537418"/><stop offset="0.5469" stop-color="#4d7b17"/><stop offset="0.5625" stop-color="#488116"/><stop offset="0.5781" stop-color="#448715"/><stop offset="0.5938" stop-color="#408c13"/><stop offset="0.6094" stop-color="#3d9012"/><stop offset="0.6250" stop-color="#3a9311"/><stop offset="0.6406" stop-color="#389710"/><stop offset="0.6562" stop-color="#359b10"/><stop offset="0.6719" stop-color="#319f0f"/><stop offset="0.6875" stop-color="#2da40e"/><stop offset="0.7031" stop-color="#29a90e"/><stop offset="0.7188" stop-color="#24ae0d"/><stop offset="0.7344" stop-color="#21b20d"/><stop offset="0.7500" stop-color="#1eb60c"/><stop offset="0.7656" stop-color="#1bb90c"/><stop offset="0.7812" stop-color="#18bc0c"/><stop offset="0.7969" stop-color="#17be0b"/><stop offset="0.8125" stop-color="#15c00b"/><stop offset="0.8281" stop-color="#13c20b"/><stop offset="0.8438" stop-color="#12c30b"/><stop offset="0.8594" stop-color="#11c50a"/><stop offset="0.8750" stop-color="#10c60a"/><stop offset="0.8906" stop-color="#10c70a"/><stop offset="0.9062" stop-color="#0fc70a"/><stop offset="0.9219" stop-color="#0fc80a"/><stop offset="0.9375" stop-color="#0ec80a"/><stop offset="0.9531" stop-color="#0ec90a"/><stop offset="0.9688" stop-color="#0ec909"/><stop offset="0.9844" stop-color="#0ec909"/><stop offset="1.0000" stop-color="#0ec909"/></linearGradient><linearGradient id="lg2_2" gradientUnits="userSpaceOnUse" x1="427.5" y1="0" x2="683.5" y2="0"><stop offset="0.0000" stop-color="#b30326"/><stop offset="0.0156" stop-color="#b30326"/><stop offset="0.0312" stop-color="#b30326"/><stop offset="0.0469" stop-color="#b20327"/><stop offset="0.0625" stop-color="#b10328"/><stop offset="0.0781" stop-color="#b0032a"/><stop offset="0.0938" stop-color="#ae032c"/><stop offset="0.1094" stop-color="#ac032e"/><stop offset="0.1250" stop-color="#aa0331"/><stop offset="0.1406" stop-color="#a70334"/><stop offset="0.1562" stop-color="#a40338"/><stop offset="0.1719" stop-color="#a0023c"/><stop offset="0.1875" stop-color="#9b0341"/><stop offset="0.2031" stop-color="#960347"/><stop offset="0.2188" stop-color="#90034d"/><stop offset="0.2344" stop-color="#8a0453"/><stop offset="0.2500" stop-color="#84045a"/><stop offset="0.2656" stop-color="#7d0560"/><stop offset="0.2812" stop-color="#770766"/><stop offset="0.2969" stop-color="#71086b"/><stop offset="0.3125" stop-color="#6c0a6e"/><stop offset="0.3281" stop-color="#670d71"/><stop offset="0.3437" stop-color="#630f72"/><stop offset="0.3594" stop-color="#611272"/><stop offset="0.3750" stop-color="#5f1571"/><stop offset="0.3906" stop-color="#5f196d"/><stop offset="0.4063" stop-color="#5f1d69"/><stop offset="0.4219" stop-color="#612063"/><stop offset="0.4375" stop-color="#63245d"/><stop offset="0.4531" stop-color="#672755"/><stop offset="0.4687" stop-color="#6b2a4d"/><stop offset="0.4844" stop-color="#702d45"/><stop offset="0.5000" stop-color="#752e3d"/><stop offset="0.5156" stop-color="#7b3035"/><stop offset="0.5312" stop-color="#81302e"/><stop offset="0.5469" stop-color="#873027"/><stop offset="0.5625" stop-color="#8c2f22"/><stop offset="0.5781" stop-color="#912f1d"/><stop offset="0.5938" stop-color="#952e19"/><stop offset="0.6094" stop-color="#992e15"/><stop offset="0.6250" stop-color="#9c2e12"/><stop offset="0.6406" stop-color="#9e2d10"/><stop offset="0.6562" stop-color="#a22c0e"/><stop offset="0.6719" stop-color="#a5290c"/><stop offset="0.6875" stop-color="#aa260b"/><stop offset="0.7031" stop-color="#ae2309"/><stop offset="0.7188" stop-color="#b21f08"/><stop offset="0.7344" stop-color="#b61c07"/><stop offset="0.7500" stop-color="#b91a07"/><stop offset="0.7656" stop-color="#bc1706"/><stop offset="0.7812" stop-color="#bf1505"/><stop offset="0.7969" stop-color="#c11405"/><stop offset="0.8125" stop-color="#c21205"/><stop offset="0.8281" stop-color="#c41104"/><stop offset="0.8438" stop-color="#c51004"/><stop offset="0.8594" stop-color="#c60f04"/><stop offset="0.8750" stop-color="#c70e04"/><stop offset="0.8906" stop-color="#c80e04"/><stop offset="0.9062" stop-color="#c80d04"/><stop offset="0.9219" stop-color="#c90d03"/><stop offset="0.9375" stop-color="#c90c03"/><stop offset="0.9531" stop-color="#c90c03"/><stop offset="0.9688" stop-color="#ca0c03"/><stop offset="0.9844" stop-color="#ca0c03"/><stop offset="1.0000" stop-color="#ca0c03"/></linearGradient><linearGradient id="lg2_3" gradientUnits="userSpaceOnUse" x1="427.5" y1="0" x2="683.5" y2="0"><stop offset="0.0000" stop-color="#b30326"/><stop offset="0.0156" stop-color="#b30326"/><stop offset="0.0312" stop-color="#b30326"/><stop offset="0.0469" stop-color="#b20327"/><stop offset="0.0625" stop-color="#b10328"/><stop offset="0.0781" stop-color="#b0032a"/><stop offset="0.0938" stop-color="#ae032c"/><stop offset="0.1094" stop-color="#ac032e"/><stop offset="0.1250" stop-color="#aa0331"/><stop offset="0.1406" stop-color="#a70334"/><stop offset="0.1562" stop-color="#a40338"/><stop offset="0.1719" stop-color="#a0023c"/><stop offset="0.1875" stop-color="#9b0341"/><stop offset="0.2031" stop-color="#960347"/><stop offset="0.2188" stop-color="#90034d"/><stop offset="0.2344" stop-color="#8a0453"/><stop offset="0.2500" stop-color="#84045a"/><stop offset="0.2656" stop-color="#7d0560"/><stop offset="0.2812" stop-color="#770766"/><stop offset="0.2969" stop-color="#71086b"/><stop offset="0.3125" stop-color="#6c0a6e"/><stop offset="0.3281" stop-color="#670d71"/><stop offset="0.3437" stop-color="#630f72"/><stop offset="0.3594" stop-color="#611272"/><stop offset="0.3750" stop-color="#5f1571"/><stop offset="0.3906" stop-color="#5f196d"/><stop offset="0.4063" stop-color="#5f1d69"/><stop offset="0.4219" stop-color="#612063"/><stop offset="0.4375" stop-color="#63245d"/><stop offset="0.4531" stop-color="#672755"/><stop offset="0.4687" stop-color="#6b2a4d"/><stop offset="0.4844" stop-color="#702d45"/><stop offset="0.5000" stop-color="#752e3d"/><stop offset="0.5156" stop-color="#7b3035"/><stop offset="0.5312" stop-color="#81302e"/><stop offset="0.5469" stop-color="#873027"/><stop offset="0.5625" stop-color="#8c2f22"/><stop offset="0.5781" stop-color="#912f1d"/><stop offset="0.5938" stop-color="#952e19"/><stop offset="0.6094" stop-color="#992e15"/><stop offset="0.6250" stop-color="#9c2e12"/><stop offset="0.6406" stop-color="#9e2d10"/><stop offset="0.6562" stop-color="#a22c0e"/><stop offset="0.6719" stop-color="#a5290c"/><stop offset="0.6875" stop-color="#aa260b"/><stop offset="0.7031" stop-color="#ae2309"/><stop offset="0.7188" stop-color="#b21f08"/><stop offset="0.7344" stop-color="#b61c07"/><stop offset="0.7500" stop-color="#b91a07"/><stop offset="0.7656" stop-color="#bc1706"/><stop offset="0.7812" stop-color="#bf1505"/><stop offset="0.7969" stop-color="#c11405"/><stop offset="0.8125" stop-color="#c21205"/><stop offset="0.8281" stop-color="#c41104"/><stop offset="0.8438" stop-color="#c51004"/><stop offset="0.8594" stop-color="#c60f04"/><stop offset="0.8750" stop-color="#c70e04"/><stop offset="0.8906" stop-color="#c80e04"/><stop offset="0.9062" stop-color="#c80d04"/><stop offset="0.9219" stop-color="#c90d03"/><stop offset="0.9375" stop-color="#c90c03"/><stop offset="0.9531" stop-color="#c90c03"/><stop offset="0.9688" stop-color="#ca0c03"/><stop offset="0.9844" stop-color="#ca0c03"/><stop offset="1.0000" stop-color="#ca0c03"/></linearGradient><linearGradient id="lg2_4" gradientUnits="userSpaceOnUse" x1="427.5" y1="0" x2="683.5" y2="0"><stop offset="0.0000" stop-color="#0cc115"/><stop offset="0.0156" stop-color="#0cc115"/><stop offset="0.0312" stop-color="#0cc115"/><stop offset="0.0469" stop-color="#0cc015"/><stop offset="0.0625" stop-color="#0cc015"/><stop offset="0.0781" stop-color="#0cc016"/><stop offset="0.0938" stop-color="#0cbf16"/><stop offset="0.1094" stop-color="#0cbf17"/><stop offset="0.1250" stop-color="#0cbe18"/><stop offset="0.1406" stop-color="#0cbd19"/><stop offset="0.1562" stop-color="#0cbb1b"/><stop offset="0.1719" stop-color="#0eae27"/><stop offset="0.1875" stop-color="#266061"/><stop offset="0.2031" stop-color="#363c75"/><stop offset="0.2188" stop-color="#3f3672"/><stop offset="0.2344" stop-color="#46356b"/><stop offset="0.2500" stop-color="#4c3564"/><stop offset="0.2656" stop-color="#53365b"/><stop offset="0.2812" stop-color="#593753"/><stop offset="0.2969" stop-color="#5f384b"/><stop offset="0.3125" stop-color="#643944"/><stop offset="0.3281" stop-color="#693b3d"/><stop offset="0.3437" stop-color="#6c3d37"/><stop offset="0.3594" stop-color="#6f3f32"/><stop offset="0.3750" stop-color="#70412e"/><stop offset="0.3906" stop-color="#71442a"/><stop offset="0.4063" stop-color="#714826"/><stop offset="0.4219" stop-color="#6f4c24"/><stop offset="0.4375" stop-color="#6d5021"/><stop offset="0.4531" stop-color="#6a551f"/><stop offset="0.4687" stop-color="#665b1d"/><stop offset="0.4844" stop-color="#62611c"/><stop offset="0.5000" stop-color="#5d671a"/><stop offset="0.5156" stop-color="#586e19"/><stop offset="0.5312" stop-color="#537418"/><stop offset="0.5469" stop-color="#4d7b17"/><stop offset="0.5625" stop-color="#488116"/><stop offset="0.5781" stop-color="#448715"/><stop offset="0.5938" stop-color="#408c13"/><stop offset="0.6094" stop-color="#3d9012"/><stop offset="0.6250" stop-color="#3a9311"/><stop offset="0.6406" stop-color="#389710"/><stop offset="0.6562" stop-color="#359b10"/><stop offset="0.6719" stop-color="#319f0f"/><stop offset="0.6875" stop-color="#2da40e"/><stop offset="0.7031" stop-color="#29a90e"/><stop offset="0.7188" stop-color="#24ae0d"/><stop offset="0.7344" stop-color="#21b20d"/><stop offset="0.7500" stop-color="#1eb60c"/><stop offset="0.7656" stop-color="#1bb90c"/><stop offset="0.7812" stop-color="#18bc0c"/><stop offset="0.7969" stop-color="#17be0b"/><stop offset="0.8125" stop-color="#15c00b"/><stop offset="0.8281" stop-color="#13c20b"/><stop offset="0.8438" stop-color="#12c30b"/><stop offset="0.8594" stop-color="#11c50a"/><stop offset="0.8750" stop-color="#10c60a"/><stop offset="0.8906" stop-color="#10c70a"/><stop offset="0.9062" stop-color="#0fc70a"/><stop offset="0.9219" stop-color="#0fc80a"/><stop offset="0.9375" stop-color="#0ec80a"/><stop offset="0.9531" stop-color="#0ec90a"/><stop offset="0.9688" stop-color="#0ec909"/><stop offset="0.9844" stop-color="#0ec909"/><stop offset="1.0000" stop-color="#0ec909"/></linearGradient><linearGradient id="lg2_5" gradientUnits="userSpaceOnUse" x1="427.5" y1="0" x2="683.5" y2="0"><stop offset="0.0000" stop-color="#2124a6"/><stop offset="0.0156" stop-color="#2124a6"/><stop offset="0.0312" stop-color="#2224a6"/><stop offset="0.0469" stop-color="#2224a5"/><stop offset="0.0625" stop-color="#2325a3"/><stop offset="0.0781" stop-color="#2425a1"/><stop offset="0.0938" stop-color="#26269f"/><stop offset="0.1094" stop-color="#28269c"/><stop offset="0.1250" stop-color="#2a2799"/><stop offset="0.1406" stop-color="#2d2894"/><stop offset="0.1562" stop-color="#312b8e"/><stop offset="0.1719" stop-color="#32387e"/><stop offset="0.1875" stop-color="#1f863f"/><stop offset="0.2031" stop-color="#13a925"/><stop offset="0.2188" stop-color="#11af22"/><stop offset="0.2344" stop-color="#10b022"/><stop offset="0.2500" stop-color="#10af24"/><stop offset="0.2656" stop-color="#10ad26"/><stop offset="0.2812" stop-color="#10ab28"/><stop offset="0.2969" stop-color="#10a82b"/><stop offset="0.3125" stop-color="#10a42f"/><stop offset="0.3281" stop-color="#10a133"/><stop offset="0.3437" stop-color="#109c37"/><stop offset="0.3594" stop-color="#10973d"/><stop offset="0.3750" stop-color="#109143"/><stop offset="0.3906" stop-color="#108b4a"/><stop offset="0.4063" stop-color="#108452"/><stop offset="0.4219" stop-color="#107c5a"/><stop offset="0.4375" stop-color="#107463"/><stop offset="0.4531" stop-color="#0f6c6d"/><stop offset="0.4687" stop-color="#0f6377"/><stop offset="0.4844" stop-color="#0e5b80"/><stop offset="0.5000" stop-color="#0e538a"/><stop offset="0.5156" stop-color="#0d4b93"/><stop offset="0.5312" stop-color="#0c449b"/><stop offset="0.5469" stop-color="#0c3da3"/><stop offset="0.5625" stop-color="#0b38aa"/><stop offset="0.5781" stop-color="#0b33b0"/><stop offset="0.5938" stop-color="#0b2eb5"/><stop offset="0.6094" stop-color="#0a2ab9"/><stop offset="0.6250" stop-color="#0a27bd"/><stop offset="0.6406" stop-color="#0a24c0"/><stop offset="0.6562" stop-color="#0a22c3"/><stop offset="0.6719" stop-color="#0920c6"/><stop offset="0.6875" stop-color="#091ec8"/><stop offset="0.7031" stop-color="#091cca"/><stop offset="0.7188" stop-color="#091bcb"/><stop offset="0.7344" stop-color="#091acd"/><stop offset="0.7500" stop-color="#0919ce"/><stop offset="0.7656" stop-color="#0918cf"/><stop offset="0.7812" stop-color="#0917d0"/><stop offset="0.7969" stop-color="#0916d1"/><stop offset="0.8125" stop-color="#0916d1"/><stop offset="0.8281" stop-color="#0915d2"/><stop offset="0.8438" stop-color="#0915d2"/><stop offset="0.8594" stop-color="#0914d3"/><stop offset="0.8750" stop-color="#0914d3"/><stop offset="0.8906" stop-color="#0914d3"/><stop offset="0.9062" stop-color="#0914d4"/><stop offset="0.9219" stop-color="#0913d4"/><stop offset="0.9375" stop-color="#0913d4"/><stop offset="0.9531" stop-color="#0913d4"/><stop offset="0.9688" stop-color="#0913d4"/><stop offset="0.9844" stop-color="#0913d4"/><stop offset="1.0000" stop-color="#0913d4"/></linearGradient><filter id="b0.6" filterUnits="userSpaceOnUse" x="0" y="0" width="685" height="802" color-interpolation-filters="sRGB"><feGaussianBlur stdDeviation="0.6"/></filter><filter id="b0.7" filterUnits="userSpaceOnUse" x="0" y="0" width="685" height="802" color-interpolation-filters="sRGB"><feGaussianBlur stdDeviation="0.7"/></filter><filter id="b0.8" filterUnits="userSpaceOnUse" x="0" y="0" width="685" height="802" color-interpolation-filters="sRGB"><feGaussianBlur stdDeviation="0.8"/></filter><filter id="b1" filterUnits="userSpaceOnUse" x="0" y="0" width="685" height="802" color-interpolation-filters="sRGB"><feGaussianBlur stdDeviation="1"/></filter><filter id="b1.4" filterUnits="userSpaceOnUse" x="0" y="0" width="685" height="802" color-interpolation-filters="sRGB"><feGaussianBlur stdDeviation="1.4"/></filter><filter id="b1.5" filterUnits="userSpaceOnUse" x="0" y="0" width="685" height="802" color-interpolation-filters="sRGB"><feGaussianBlur stdDeviation="1.5"/></filter><filter id="b2" filterUnits="userSpaceOnUse" x="0" y="0" width="685" height="802" color-interpolation-filters="sRGB"><feGaussianBlur stdDeviation="2"/></filter><filter id="b2.5" filterUnits="userSpaceOnUse" x="0" y="0" width="685" height="802" color-interpolation-filters="sRGB"><feGaussianBlur stdDeviation="2.5"/></filter><filter id="b3" filterUnits="userSpaceOnUse" x="0" y="0" width="685" height="802" color-interpolation-filters="sRGB"><feGaussianBlur stdDeviation="3"/></filter><filter id="b4" filterUnits="userSpaceOnUse" x="0" y="0" width="685" height="802" color-interpolation-filters="sRGB"><feGaussianBlur stdDeviation="4"/></filter><filter id="b5" filterUnits="userSpaceOnUse" x="0" y="0" width="685" height="802" color-interpolation-filters="sRGB"><feGaussianBlur stdDeviation="5"/></filter><filter id="b6" filterUnits="userSpaceOnUse" x="0" y="0" width="685" height="802" color-interpolation-filters="sRGB"><feGaussianBlur stdDeviation="6"/></filter><filter id="b7" filterUnits="userSpaceOnUse" x="0" y="0" width="685" height="802" color-interpolation-filters="sRGB"><feGaussianBlur stdDeviation="7"/></filter></defs><rect width="685" height="802" fill="#fff"/><g opacity="0.999"><g filter="url(#cm)"><rect x="59.9" y="4.2" width="205.49999999999997" height="191.20000000000002" fill="#000"/>
<g clip-path="url(#clipL0)">
<path d="M97.00,4.00 C97.33,5.83 98.25,11.00 99.00,15.00 C99.75,19.00 100.58,23.00 101.50,28.00 C102.42,33.00 104.00,42.17 104.50,45.00" fill="none" stroke="#fff" stroke-width="18" stroke-opacity="0.05" stroke-linecap="round" filter="url(#b7)" />
<path d="M223.00,150.50 C225.00,150.95 230.50,152.28 235.00,153.20 C239.50,154.12 244.83,155.12 250.00,156.00 C255.17,156.88 263.33,158.08 266.00,158.50" fill="none" stroke="#fff" stroke-width="14" stroke-opacity="0.035" stroke-linecap="round" filter="url(#b6)" />
<path d="M104.44,48.05 C104.72,47.71 105.48,46.37 106.13,46.03 C106.78,45.69 107.57,45.80 108.34,46.01 C109.12,46.21 109.95,46.72 110.78,47.27 C111.62,47.83 112.49,48.60 113.36,49.34 C114.22,50.08 115.10,50.93 115.97,51.72 C116.84,52.51 117.70,53.31 118.56,54.09 C119.42,54.88 120.28,55.66 121.14,56.43 C121.99,57.20 122.84,57.97 123.68,58.74 C124.53,59.50 125.37,60.26 126.21,61.02 C127.05,61.77 127.89,62.52 128.73,63.27 C129.56,64.02 130.39,64.76 131.22,65.50 C132.05,66.24 132.88,66.98 133.70,67.72 C134.52,68.45 135.35,69.18 136.17,69.91 C136.99,70.64 137.80,71.37 138.62,72.09 C139.44,72.82 140.25,73.54 141.07,74.26 C141.88,74.99 142.69,75.71 143.50,76.43 C144.31,77.15 145.12,77.86 145.93,78.58 C146.74,79.30 147.55,80.02 148.35,80.74 C149.16,81.46 149.97,82.17 150.77,82.89 C151.58,83.61 152.39,84.33 153.19,85.05 C154.00,85.77 154.80,86.49 155.61,87.22 C156.41,87.94 157.22,88.66 158.03,89.39 C158.83,90.12 159.64,90.84 160.45,91.57 C161.25,92.30 162.06,93.04 162.87,93.77 C163.68,94.50 164.49,95.24 165.30,95.98 C166.11,96.71 166.91,97.45 167.72,98.19 C168.53,98.93 169.34,99.67 170.15,100.41 C170.96,101.15 171.77,101.90 172.58,102.64 C173.39,103.39 174.21,104.13 175.02,104.88 C175.83,105.62 176.64,106.37 177.45,107.12 C178.26,107.87 179.07,108.61 179.88,109.36 C180.69,110.11 181.51,110.86 182.32,111.61 C183.13,112.36 183.94,113.11 184.75,113.86 C185.56,114.61 186.37,115.36 187.18,116.12 C188.00,116.87 188.81,117.62 189.62,118.37 C190.43,119.12 191.24,119.87 192.05,120.62 C192.86,121.37 193.67,122.12 194.48,122.87 C195.29,123.62 196.10,124.38 196.91,125.12 C197.72,125.87 198.53,126.62 199.34,127.37 C200.15,128.12 200.96,128.87 201.77,129.61 C202.58,130.36 203.39,131.11 204.19,131.85 C205.00,132.60 205.81,133.34 206.62,134.09 C207.43,134.83 208.23,135.57 209.04,136.31 C209.84,137.05 210.65,137.79 211.46,138.53 C212.26,139.27 213.07,140.00 213.87,140.74 C214.68,141.47 215.48,142.21 216.28,142.94 C217.09,143.67 217.89,144.40 218.69,145.13 C219.49,145.86 220.29,146.58 221.09,147.31 C221.89,148.03 223.09,149.11 223.49,149.47" fill="none" stroke="#fff" stroke-width="16" stroke-opacity="0.02" stroke-linecap="round" filter="url(#b6)" />
<path d="M104.67,48.42 C104.63,48.85 104.48,50.15 104.41,51.01 C104.35,51.87 104.32,52.73 104.30,53.59 C104.29,54.44 104.29,55.30 104.32,56.15 C104.35,56.99 104.41,57.84 104.48,58.68 C104.55,59.53 104.64,60.37 104.76,61.20 C104.87,62.04 105.00,62.87 105.15,63.70 C105.30,64.53 105.47,65.35 105.66,66.17 C105.84,66.99 106.05,67.81 106.27,68.62 C106.49,69.43 106.73,70.24 106.98,71.05 C107.23,71.85 107.50,72.65 107.78,73.45 C108.07,74.24 108.37,75.03 108.68,75.82 C108.99,76.61 109.31,77.39 109.65,78.17 C109.98,78.94 110.33,79.72 110.69,80.48 C111.05,81.25 111.42,82.01 111.80,82.77 C112.18,83.53 112.58,84.28 112.98,85.03 C113.38,85.77 113.79,86.51 114.21,87.25 C114.62,87.99 115.05,88.72 115.49,89.44 C115.92,90.17 116.36,90.88 116.81,91.60 C117.26,92.31 117.72,93.02 118.18,93.72 C118.65,94.43 119.12,95.12 119.60,95.82 C120.07,96.51 120.56,97.20 121.05,97.88 C121.55,98.56 122.05,99.24 122.55,99.91 C123.06,100.58 123.57,101.25 124.09,101.91 C124.61,102.57 125.14,103.23 125.67,103.88 C126.21,104.53 126.75,105.18 127.29,105.82 C127.84,106.46 128.39,107.10 128.95,107.73 C129.51,108.36 130.07,108.99 130.64,109.61 C131.21,110.23 131.79,110.85 132.37,111.46 C132.95,112.08 133.54,112.69 134.13,113.29 C134.72,113.89 135.32,114.49 135.93,115.09 C136.53,115.68 137.14,116.27 137.75,116.86 C138.36,117.45 138.98,118.03 139.61,118.60 C140.23,119.18 140.86,119.75 141.49,120.32 C142.13,120.89 142.76,121.46 143.41,122.02 C144.05,122.58 144.70,123.13 145.35,123.68 C146.00,124.23 146.66,124.78 147.32,125.32 C147.98,125.86 148.64,126.40 149.31,126.93 C149.98,127.46 150.66,127.98 151.33,128.50 C152.01,129.02 152.70,129.53 153.38,130.04 C154.07,130.55 154.76,131.05 155.46,131.55 C156.15,132.04 156.85,132.54 157.56,133.02 C158.26,133.50 158.97,133.98 159.68,134.45 C160.39,134.92 161.11,135.38 161.83,135.84 C162.55,136.30 163.27,136.75 164.00,137.19 C164.73,137.63 165.46,138.07 166.19,138.50 C166.93,138.92 167.67,139.34 168.41,139.76 C169.15,140.17 169.90,140.58 170.65,140.97 C171.40,141.37 172.16,141.76 172.92,142.14 C173.67,142.52 174.43,142.89 175.20,143.25 C175.97,143.62 176.73,143.97 177.51,144.32 C178.28,144.67 179.05,145.00 179.83,145.33 C180.61,145.66 181.40,145.98 182.18,146.29 C182.97,146.60 183.76,146.90 184.55,147.19 C185.34,147.48 186.14,147.76 186.94,148.03 C187.74,148.30 188.54,148.56 189.34,148.81 C190.15,149.06 190.96,149.30 191.77,149.53 C192.58,149.76 193.40,149.98 194.21,150.19 C195.03,150.39 195.85,150.59 196.67,150.77 C197.49,150.95 198.32,151.11 199.14,151.27 C199.97,151.42 200.80,151.55 201.62,151.67 C202.45,151.79 203.28,151.89 204.12,151.98 C204.95,152.06 205.78,152.13 206.61,152.18 C207.45,152.22 208.28,152.25 209.11,152.26 C209.95,152.26 210.78,152.25 211.62,152.21 C212.45,152.18 213.29,152.12 214.12,152.04 C214.95,151.95 215.79,151.85 216.62,151.72 C217.45,151.59 218.28,151.43 219.11,151.25 C219.94,151.06 220.77,150.86 221.60,150.62 C222.43,150.38 223.66,149.95 224.08,149.82" fill="none" stroke="#fff" stroke-width="16" stroke-opacity="0.035" stroke-linecap="round" filter="url(#b6)" />
<path d="M104.44,48.05 C104.72,47.71 105.48,46.37 106.13,46.03 C106.78,45.69 107.57,45.80 108.34,46.01 C109.12,46.21 109.95,46.72 110.78,47.27 C111.62,47.83 112.49,48.60 113.36,49.34 C114.22,50.08 115.10,50.93 115.97,51.72 C116.84,52.51 117.70,53.31 118.56,54.09 C119.42,54.88 120.28,55.66 121.14,56.43 C121.99,57.20 122.84,57.97 123.68,58.74 C124.53,59.50 125.37,60.26 126.21,61.02 C127.05,61.77 127.89,62.52 128.73,63.27 C129.56,64.02 130.39,64.76 131.22,65.50 C132.05,66.24 132.88,66.98 133.70,67.72 C134.52,68.45 135.35,69.18 136.17,69.91 C136.99,70.64 137.80,71.37 138.62,72.09 C139.44,72.82 140.25,73.54 141.07,74.26 C141.88,74.99 142.69,75.71 143.50,76.43 C144.31,77.15 145.12,77.86 145.93,78.58 C146.74,79.30 147.55,80.02 148.35,80.74 C149.16,81.46 149.97,82.17 150.77,82.89 C151.58,83.61 152.39,84.33 153.19,85.05 C154.00,85.77 154.80,86.49 155.61,87.22 C156.41,87.94 157.22,88.66 158.03,89.39 C158.83,90.12 159.64,90.84 160.45,91.57 C161.25,92.30 162.06,93.04 162.87,93.77 C163.68,94.50 164.49,95.24 165.30,95.98 C166.11,96.71 166.91,97.45 167.72,98.19 C168.53,98.93 169.34,99.67 170.15,100.41 C170.96,101.15 171.77,101.90 172.58,102.64 C173.39,103.39 174.21,104.13 175.02,104.88 C175.83,105.62 176.64,106.37 177.45,107.12 C178.26,107.87 179.07,108.61 179.88,109.36 C180.69,110.11 181.51,110.86 182.32,111.61 C183.13,112.36 183.94,113.11 184.75,113.86 C185.56,114.61 186.37,115.36 187.18,116.12 C188.00,116.87 188.81,117.62 189.62,118.37 C190.43,119.12 191.24,119.87 192.05,120.62 C192.86,121.37 193.67,122.12 194.48,122.87 C195.29,123.62 196.10,124.38 196.91,125.12 C197.72,125.87 198.53,126.62 199.34,127.37 C200.15,128.12 200.96,128.87 201.77,129.61 C202.58,130.36 203.39,131.11 204.19,131.85 C205.00,132.60 205.81,133.34 206.62,134.09 C207.43,134.83 208.23,135.57 209.04,136.31 C209.84,137.05 210.65,137.79 211.46,138.53 C212.26,139.27 213.07,140.00 213.87,140.74 C214.68,141.47 215.48,142.21 216.28,142.94 C217.09,143.67 217.89,144.40 218.69,145.13 C219.49,145.86 220.29,146.58 221.09,147.31 C221.89,148.03 223.09,149.11 223.49,149.47" fill="none" stroke="#fff" stroke-width="5" stroke-opacity="0.035" stroke-linecap="round" filter="url(#b2)" />
<path d="M104.44,48.05 C104.72,47.71 105.48,46.37 106.13,46.03 C106.78,45.69 107.57,45.80 108.34,46.01 C109.12,46.21 109.95,46.72 110.78,47.27 C111.62,47.83 112.49,48.60 113.36,49.34 C114.22,50.08 115.10,50.93 115.97,51.72 C116.84,52.51 117.70,53.31 118.56,54.09 C119.42,54.88 120.28,55.66 121.14,56.43 C121.99,57.20 122.84,57.97 123.68,58.74 C124.53,59.50 125.37,60.26 126.21,61.02 C127.05,61.77 127.89,62.52 128.73,63.27 C129.56,64.02 130.39,64.76 131.22,65.50 C132.05,66.24 132.88,66.98 133.70,67.72 C134.52,68.45 135.35,69.18 136.17,69.91 C136.99,70.64 137.80,71.37 138.62,72.09 C139.44,72.82 140.25,73.54 141.07,74.26 C141.88,74.99 142.69,75.71 143.50,76.43 C144.31,77.15 145.12,77.86 145.93,78.58 C146.74,79.30 147.55,80.02 148.35,80.74 C149.16,81.46 149.97,82.17 150.77,82.89 C151.58,83.61 152.39,84.33 153.19,85.05 C154.00,85.77 154.80,86.49 155.61,87.22 C156.41,87.94 157.22,88.66 158.03,89.39 C158.83,90.12 159.64,90.84 160.45,91.57 C161.25,92.30 162.06,93.04 162.87,93.77 C163.68,94.50 164.49,95.24 165.30,95.98 C166.11,96.71 166.91,97.45 167.72,98.19 C168.53,98.93 169.34,99.67 170.15,100.41 C170.96,101.15 171.77,101.90 172.58,102.64 C173.39,103.39 174.21,104.13 175.02,104.88 C175.83,105.62 176.64,106.37 177.45,107.12 C178.26,107.87 179.07,108.61 179.88,109.36 C180.69,110.11 181.51,110.86 182.32,111.61 C183.13,112.36 183.94,113.11 184.75,113.86 C185.56,114.61 186.37,115.36 187.18,116.12 C188.00,116.87 188.81,117.62 189.62,118.37 C190.43,119.12 191.24,119.87 192.05,120.62 C192.86,121.37 193.67,122.12 194.48,122.87 C195.29,123.62 196.10,124.38 196.91,125.12 C197.72,125.87 198.53,126.62 199.34,127.37 C200.15,128.12 200.96,128.87 201.77,129.61 C202.58,130.36 203.39,131.11 204.19,131.85 C205.00,132.60 205.81,133.34 206.62,134.09 C207.43,134.83 208.23,135.57 209.04,136.31 C209.84,137.05 210.65,137.79 211.46,138.53 C212.26,139.27 213.07,140.00 213.87,140.74 C214.68,141.47 215.48,142.21 216.28,142.94 C217.09,143.67 217.89,144.40 218.69,145.13 C219.49,145.86 220.29,146.58 221.09,147.31 C221.89,148.03 223.09,149.11 223.49,149.47" fill="none" stroke="#fff" stroke-width="2.0" stroke-opacity="0.13" stroke-linecap="round" filter="url(#b0.8)" />
<path d="M104.67,48.42 C104.63,48.85 104.48,50.15 104.41,51.01 C104.35,51.87 104.32,52.73 104.30,53.59 C104.29,54.44 104.29,55.30 104.32,56.15 C104.35,56.99 104.41,57.84 104.48,58.68 C104.55,59.53 104.64,60.37 104.76,61.20 C104.87,62.04 105.00,62.87 105.15,63.70 C105.30,64.53 105.47,65.35 105.66,66.17 C105.84,66.99 106.05,67.81 106.27,68.62 C106.49,69.43 106.73,70.24 106.98,71.05 C107.23,71.85 107.50,72.65 107.78,73.45 C108.07,74.24 108.37,75.03 108.68,75.82 C108.99,76.61 109.31,77.39 109.65,78.17 C109.98,78.94 110.33,79.72 110.69,80.48 C111.05,81.25 111.42,82.01 111.80,82.77 C112.18,83.53 112.58,84.28 112.98,85.03 C113.38,85.77 113.79,86.51 114.21,87.25 C114.62,87.99 115.05,88.72 115.49,89.44 C115.92,90.17 116.36,90.88 116.81,91.60 C117.26,92.31 117.72,93.02 118.18,93.72 C118.65,94.43 119.12,95.12 119.60,95.82 C120.07,96.51 120.56,97.20 121.05,97.88 C121.55,98.56 122.05,99.24 122.55,99.91 C123.06,100.58 123.57,101.25 124.09,101.91 C124.61,102.57 125.14,103.23 125.67,103.88 C126.21,104.53 126.75,105.18 127.29,105.82 C127.84,106.46 128.39,107.10 128.95,107.73 C129.51,108.36 130.07,108.99 130.64,109.61 C131.21,110.23 131.79,110.85 132.37,111.46 C132.95,112.08 133.54,112.69 134.13,113.29 C134.72,113.89 135.32,114.49 135.93,115.09 C136.53,115.68 137.14,116.27 137.75,116.86 C138.36,117.45 138.98,118.03 139.61,118.60 C140.23,119.18 140.86,119.75 141.49,120.32 C142.13,120.89 142.76,121.46 143.41,122.02 C144.05,122.58 144.70,123.13 145.35,123.68 C146.00,124.23 146.66,124.78 147.32,125.32 C147.98,125.86 148.64,126.40 149.31,126.93 C149.98,127.46 150.66,127.98 151.33,128.50 C152.01,129.02 152.70,129.53 153.38,130.04 C154.07,130.55 154.76,131.05 155.46,131.55 C156.15,132.04 156.85,132.54 157.56,133.02 C158.26,133.50 158.97,133.98 159.68,134.45 C160.39,134.92 161.11,135.38 161.83,135.84 C162.55,136.30 163.27,136.75 164.00,137.19 C164.73,137.63 165.46,138.07 166.19,138.50 C166.93,138.92 167.67,139.34 168.41,139.76 C169.15,140.17 169.90,140.58 170.65,140.97 C171.40,141.37 172.16,141.76 172.92,142.14 C173.67,142.52 174.43,142.89 175.20,143.25 C175.97,143.62 176.73,143.97 177.51,144.32 C178.28,144.67 179.05,145.00 179.83,145.33 C180.61,145.66 181.40,145.98 182.18,146.29 C182.97,146.60 183.76,146.90 184.55,147.19 C185.34,147.48 186.14,147.76 186.94,148.03 C187.74,148.30 188.54,148.56 189.34,148.81 C190.15,149.06 190.96,149.30 191.77,149.53 C192.58,149.76 193.40,149.98 194.21,150.19 C195.03,150.39 195.85,150.59 196.67,150.77 C197.49,150.95 198.32,151.11 199.14,151.27 C199.97,151.42 200.80,151.55 201.62,151.67 C202.45,151.79 203.28,151.89 204.12,151.98 C204.95,152.06 205.78,152.13 206.61,152.18 C207.45,152.22 208.28,152.25 209.11,152.26 C209.95,152.26 210.78,152.25 211.62,152.21 C212.45,152.18 213.29,152.12 214.12,152.04 C214.95,151.95 215.79,151.85 216.62,151.72 C217.45,151.59 218.28,151.43 219.11,151.25 C219.94,151.06 220.77,150.86 221.60,150.62 C222.43,150.38 223.66,149.95 224.08,149.82" fill="none" stroke="#fff" stroke-width="8" stroke-opacity="0.17" stroke-linecap="round" filter="url(#b2)" />
<path d="M104.71,48.41 C104.66,48.85 104.49,50.18 104.42,51.06 C104.35,51.95 104.30,52.83 104.28,53.71 C104.26,54.58 104.27,55.46 104.30,56.33 C104.33,57.20 104.39,58.06 104.47,58.93 C104.54,59.79 104.64,60.65 104.76,61.51 C104.88,62.36 105.03,63.21 105.19,64.06 C105.35,64.91 105.53,65.75 105.73,66.59 C105.93,67.43 106.15,68.26 106.39,69.09 C106.63,69.92 106.88,70.75 107.15,71.57 C107.42,72.39 107.70,73.21 108.00,74.02 C108.30,74.83 108.62,75.63 108.94,76.44 C109.27,77.24 109.61,78.03 109.96,78.82 C110.31,79.61 110.67,80.40 111.04,81.17 C111.42,81.95 111.80,82.73 112.19,83.49 C112.58,84.26 112.99,85.02 113.40,85.78 C113.81,86.53 114.23,87.28 114.66,88.03 C115.09,88.77 115.53,89.51 115.97,90.25 C116.42,90.98 116.88,91.71 117.34,92.43 C117.81,93.15 118.28,93.87 118.76,94.58 C119.24,95.30 119.73,96.00 120.23,96.71 C120.73,97.41 121.23,98.11 121.74,98.80 C122.26,99.49 122.78,100.18 123.30,100.86 C123.83,101.54 124.36,102.22 124.91,102.89 C125.45,103.56 126.00,104.23 126.55,104.89 C127.11,105.55 127.67,106.21 128.24,106.87 C128.80,107.52 129.38,108.17 129.96,108.81 C130.54,109.45 131.13,110.09 131.72,110.73 C132.31,111.36 132.91,111.99 133.51,112.62 C134.12,113.24 134.73,113.87 135.34,114.48 C135.96,115.10 136.58,115.71 137.20,116.32 C137.83,116.93 138.46,117.53 139.09,118.13 C139.73,118.73 140.37,119.33 141.01,119.92 C141.65,120.51 142.30,121.09 142.96,121.67 C143.61,122.25 144.27,122.82 144.94,123.39 C145.60,123.96 146.27,124.53 146.94,125.08 C147.61,125.64 148.29,126.19 148.97,126.74 C149.66,127.28 150.34,127.82 151.04,128.36 C151.73,128.89 152.42,129.42 153.12,129.94 C153.82,130.46 154.53,130.97 155.24,131.48 C155.95,131.99 156.66,132.49 157.38,132.98 C158.10,133.47 158.82,133.96 159.55,134.44 C160.27,134.92 161.00,135.39 161.74,135.85 C162.47,136.31 163.21,136.77 163.95,137.22 C164.70,137.67 165.44,138.11 166.20,138.54 C166.95,138.97 167.70,139.39 168.46,139.81 C169.22,140.22 169.98,140.63 170.75,141.03 C171.52,141.42 172.29,141.81 173.06,142.19 C173.83,142.57 174.61,142.95 175.39,143.31 C176.18,143.67 176.96,144.02 177.75,144.36 C178.54,144.71 179.33,145.04 180.13,145.36 C180.92,145.69 181.72,146.00 182.53,146.31 C183.33,146.61 184.14,146.90 184.95,147.19 C185.76,147.47 186.57,147.74 187.39,148.00 C188.20,148.27 189.02,148.52 189.85,148.76 C190.67,149.00 191.50,149.23 192.33,149.45 C193.16,149.67 193.99,149.87 194.83,150.07 C195.66,150.27 196.50,150.45 197.34,150.62 C198.18,150.80 199.03,150.96 199.88,151.11 C200.73,151.26 201.58,151.39 202.43,151.52 C203.28,151.64 204.14,151.76 205.00,151.86 C205.86,151.96 206.72,152.04 207.59,152.12 C208.45,152.19 209.32,152.26 210.19,152.30 C211.06,152.35 211.93,152.39 212.81,152.41 C213.68,152.43 214.56,152.44 215.44,152.44 C216.32,152.43 217.65,152.39 218.09,152.38" fill="none" stroke="#fff" stroke-width="4.0" stroke-opacity="0.42" stroke-linecap="round" filter="url(#b1)" />
<path d="M104.71,48.41 C104.66,48.85 104.49,50.18 104.42,51.06 C104.35,51.95 104.30,52.83 104.28,53.71 C104.26,54.58 104.27,55.46 104.30,56.33 C104.33,57.20 104.39,58.06 104.47,58.93 C104.54,59.79 104.64,60.65 104.76,61.51 C104.88,62.36 105.03,63.21 105.19,64.06 C105.35,64.91 105.53,65.75 105.73,66.59 C105.93,67.43 106.15,68.26 106.39,69.09 C106.63,69.92 106.88,70.75 107.15,71.57 C107.42,72.39 107.70,73.21 108.00,74.02 C108.30,74.83 108.62,75.63 108.94,76.44 C109.27,77.24 109.61,78.03 109.96,78.82 C110.31,79.61 110.67,80.40 111.04,81.17 C111.42,81.95 111.80,82.73 112.19,83.49 C112.58,84.26 112.99,85.02 113.40,85.78 C113.81,86.53 114.23,87.28 114.66,88.03 C115.09,88.77 115.53,89.51 115.97,90.25 C116.42,90.98 116.88,91.71 117.34,92.43 C117.81,93.15 118.28,93.87 118.76,94.58 C119.24,95.30 119.73,96.00 120.23,96.71 C120.73,97.41 121.23,98.11 121.74,98.80 C122.26,99.49 122.78,100.18 123.30,100.86 C123.83,101.54 124.36,102.22 124.91,102.89 C125.45,103.56 126.00,104.23 126.55,104.89 C127.11,105.55 127.67,106.21 128.24,106.87 C128.80,107.52 129.38,108.17 129.96,108.81 C130.54,109.45 131.13,110.09 131.72,110.73 C132.31,111.36 132.91,111.99 133.51,112.62 C134.12,113.24 134.73,113.87 135.34,114.48 C135.96,115.10 136.58,115.71 137.20,116.32 C137.83,116.93 138.46,117.53 139.09,118.13 C139.73,118.73 140.37,119.33 141.01,119.92 C141.65,120.51 142.30,121.09 142.96,121.67 C143.61,122.25 144.27,122.82 144.94,123.39 C145.60,123.96 146.27,124.53 146.94,125.08 C147.61,125.64 148.29,126.19 148.97,126.74 C149.66,127.28 150.34,127.82 151.04,128.36 C151.73,128.89 152.42,129.42 153.12,129.94 C153.82,130.46 154.53,130.97 155.24,131.48 C155.95,131.99 156.66,132.49 157.38,132.98 C158.10,133.47 158.82,133.96 159.55,134.44 C160.27,134.92 161.00,135.39 161.74,135.85 C162.47,136.31 163.21,136.77 163.95,137.22 C164.70,137.67 165.44,138.11 166.20,138.54 C166.95,138.97 167.70,139.39 168.46,139.81 C169.22,140.22 169.98,140.63 170.75,141.03 C171.52,141.42 172.29,141.81 173.06,142.19 C173.83,142.57 174.61,142.95 175.39,143.31 C176.18,143.67 176.96,144.02 177.75,144.36 C178.54,144.71 179.33,145.04 180.13,145.36 C180.92,145.69 181.72,146.00 182.53,146.31 C183.33,146.61 184.14,146.90 184.95,147.19 C185.76,147.47 186.57,147.74 187.39,148.00 C188.20,148.27 189.02,148.52 189.85,148.76 C190.67,149.00 191.50,149.23 192.33,149.45 C193.16,149.67 193.99,149.87 194.83,150.07 C195.66,150.27 196.50,150.45 197.34,150.62 C198.18,150.80 199.03,150.96 199.88,151.11 C200.73,151.26 201.58,151.39 202.43,151.52 C203.28,151.64 204.14,151.76 205.00,151.86 C205.86,151.96 206.72,152.04 207.59,152.12 C208.45,152.19 209.32,152.26 210.19,152.30 C211.06,152.35 211.93,152.39 212.81,152.41 C213.68,152.43 214.56,152.44 215.44,152.44 C216.32,152.43 217.65,152.39 218.09,152.38" fill="none" stroke="#fff" stroke-width="2.0" stroke-opacity="0.45" stroke-linecap="round" filter="url(#b0.6)" />
<ellipse cx="105.6" cy="46.5" rx="4.5" ry="4.5" fill="#fff" fill-opacity="0.25" transform="rotate(0 105.6 46.5)" filter="url(#b2.5)"/>
<ellipse cx="221" cy="150" rx="4.5" ry="4" fill="#fff" fill-opacity="0.22" transform="rotate(0 221 150)" filter="url(#b2.5)"/>
</g>
</g>
<rect x="59.9" y="4.2" width="205.49999999999997" height="191.20000000000002" fill="none" stroke="#000" stroke-width="1.25"/>
<line x1="59.90" y1="195.4" x2="59.90" y2="201.8" stroke="#000" stroke-width="1.25"/>
<line x1="53.4" y1="195.40" x2="59.9" y2="195.40" stroke="#000" stroke-width="1.25"/>
<line x1="111.27" y1="195.4" x2="111.27" y2="201.8" stroke="#000" stroke-width="1.25"/>
<line x1="53.4" y1="147.60" x2="59.9" y2="147.60" stroke="#000" stroke-width="1.25"/>
<line x1="162.65" y1="195.4" x2="162.65" y2="201.8" stroke="#000" stroke-width="1.25"/>
<line x1="53.4" y1="99.80" x2="59.9" y2="99.80" stroke="#000" stroke-width="1.25"/>
<line x1="214.02" y1="195.4" x2="214.02" y2="201.8" stroke="#000" stroke-width="1.25"/>
<line x1="53.4" y1="52.00" x2="59.9" y2="52.00" stroke="#000" stroke-width="1.25"/>
<text x="34.88" y="204.50" font-size="25.6" fill="#000" textLength="12.74" lengthAdjust="spacingAndGlyphs" >0</text>
<text x="42.00" y="146.40" font-size="18" text-anchor="middle"><tspan font-style="italic">π</tspan></text>
<text x="42.00" y="164.10" font-size="18" text-anchor="middle">4</text>
<rect x="36.66" y="148.80" width="10.69" height="1.4" fill="#000"/>
<text x="42.00" y="98.90" font-size="18" text-anchor="middle"><tspan font-style="italic">π</tspan></text>
<text x="42.00" y="116.60" font-size="18" text-anchor="middle">2</text>
<rect x="36.66" y="101.30" width="10.69" height="1.4" fill="#000"/>
<text x="37.40" y="52.90" font-size="18" text-anchor="middle">3<tspan font-style="italic">π</tspan></text>
<text x="37.40" y="70.60" font-size="18" text-anchor="middle">4</text>
<rect x="27.56" y="55.30" width="19.69" height="1.4" fill="#000"/>
<text x="53.28" y="225.60" font-size="25.6" fill="#000" textLength="12.74" lengthAdjust="spacingAndGlyphs" >0</text>
<text x="111.27" y="216.00" font-size="18" text-anchor="middle"><tspan font-style="italic">π</tspan></text>
<text x="111.27" y="233.70" font-size="18" text-anchor="middle">4</text>
<rect x="105.93" y="218.40" width="10.69" height="1.4" fill="#000"/>
<text x="162.65" y="216.00" font-size="18" text-anchor="middle"><tspan font-style="italic">π</tspan></text>
<text x="162.65" y="233.70" font-size="18" text-anchor="middle">2</text>
<rect x="157.31" y="218.40" width="10.69" height="1.4" fill="#000"/>
<text x="214.02" y="216.00" font-size="18" text-anchor="middle">3<tspan font-style="italic">π</tspan></text>
<text x="214.02" y="233.70" font-size="18" text-anchor="middle">4</text>
<rect x="204.18" y="218.40" width="19.69" height="1.4" fill="#000"/>
<text x="153.23" y="259.90" font-size="22.2" font-style="italic" fill="#000" >k</text>
<text x="164.33" y="262.80" font-size="15.5" font-style="italic" fill="#000" >x</text>
<text transform="translate(14.5,99.5) rotate(-90)" x="0" y="0" font-size="22.2" text-anchor="middle"><tspan font-style="italic">k</tspan><tspan font-style="italic" font-size="15.5" dy="3.3">y</tspan></text>
<text x="5.15" y="28.80" font-size="21.5" fill="#000" >a</text>
<text x="16.19" y="28.80" font-size="23.6" fill="#000" >)</text>
<text x="85.35" y="182.30" font-size="21.6" font-style="italic" fill="#fff" textLength="9.31" lengthAdjust="spacingAndGlyphs" >b</text>
<text x="93.16" y="182.30" font-size="21.6" fill="#fff" textLength="17.34" lengthAdjust="spacingAndGlyphs" >=</text>
<text x="109.18" y="182.30" font-size="21.6" fill="#fff" textLength="36.05" lengthAdjust="spacingAndGlyphs" >0.00</text>
<text x="147.24" y="182.30" font-size="21.6" fill="#fff" >,</text>
<text x="160.01" y="182.30" font-size="21.6" fill="#fff" textLength="14.40" lengthAdjust="spacingAndGlyphs" >Φ</text>
<text x="179.38" y="182.30" font-size="21.6" fill="#fff" textLength="18.31" lengthAdjust="spacingAndGlyphs" >=</text>
<text x="201.84" y="182.30" font-size="21.6" fill="#fff" textLength="37.83" lengthAdjust="spacingAndGlyphs" >0.09</text>
<rect x="278.5" y="4.3" width="9.399999999999977" height="191.0" fill="url(#cbg)"/>
<rect x="278.5" y="4.3" width="9.399999999999977" height="191.0" fill="none" stroke="#000" stroke-width="1.25"/>
<line x1="287.9" y1="4.20" x2="293.9" y2="4.20" stroke="#000" stroke-width="1.25"/>
<text x="300.00" y="9.50" font-size="15.5" text-anchor="start" fill="#000" >1.0</text>
<line x1="287.9" y1="42.60" x2="293.9" y2="42.60" stroke="#000" stroke-width="1.25"/>
<text x="300.00" y="47.90" font-size="15.5" text-anchor="start" fill="#000" >0.8</text>
<line x1="287.9" y1="81.00" x2="293.9" y2="81.00" stroke="#000" stroke-width="1.25"/>
<text x="300.00" y="86.30" font-size="15.5" text-anchor="start" fill="#000" >0.6</text>
<line x1="287.9" y1="119.40" x2="293.9" y2="119.40" stroke="#000" stroke-width="1.25"/>
<text x="300.00" y="124.70" font-size="15.5" text-anchor="start" fill="#000" >0.4</text>
<line x1="287.9" y1="157.80" x2="293.9" y2="157.80" stroke="#000" stroke-width="1.25"/>
<text x="300.00" y="163.10" font-size="15.5" text-anchor="start" fill="#000" >0.2</text>
<text transform="translate(333.2,29) rotate(90)" x="0" y="0" font-size="22.5" textLength="142" lengthAdjust="spacingAndGlyphs"><tspan font-style="italic">A</tspan><tspan font-style="italic" font-size="15.5" dy="3.3">c</tspan><tspan dy="-3.3">(</tspan><tspan font-style="italic">ω</tspan> = 0, <tspan font-style="italic">k</tspan>)/<tspan font-style="italic">A</tspan><tspan font-size="15.5" dy="3.3">0</tspan></text>
<g clip-path="url(#clipR0)">
<path d="M427.50,148.82 L428.50,148.82 L429.50,148.80 L430.50,148.78 L431.50,148.74 L432.50,148.69 L433.50,148.64 L434.50,148.57 L435.50,148.49 L436.50,148.40 L437.50,148.30 L438.50,148.19 L439.50,148.07 L440.50,147.94 L441.50,147.80 L442.50,147.65 L443.50,147.49 L444.50,147.32 L445.50,147.13 L446.50,146.94 L447.50,146.73 L448.50,146.52 L449.50,146.29 L450.50,146.06 L451.50,145.81 L452.50,145.55 L453.50,145.29 L454.50,145.01 L455.50,144.72 L456.50,144.42 L457.50,144.11 L458.50,143.79 L459.50,143.45 L460.50,143.11 L461.50,142.76 L462.50,142.39 L463.50,142.02 L464.50,141.63 L465.50,141.24 L466.50,140.83 L467.50,140.41 L468.50,139.98 L469.50,139.54 L470.50,139.09 L471.50,138.63 L472.50,138.16 L473.50,137.68 L474.50,137.19 L475.50,136.68 L476.50,136.17 L477.50,135.65 L478.50,135.11 L479.50,134.57 L480.50,134.01 L481.50,133.45 L482.50,132.87 L483.50,132.29 L484.50,131.69 L485.50,131.08 L486.50,130.47 L487.50,129.84 L488.50,129.21 L489.50,128.56 L490.50,127.91 L491.50,127.25 L492.50,126.57 L493.50,125.89 L494.50,125.20 L495.50,124.50 L496.50,123.80 L497.50,123.08 L498.50,122.36 L499.50,121.63 L500.50,120.89 L501.50,120.14 L502.50,119.39 L503.50,118.63 L504.50,117.86 L505.50,117.09 L506.50,116.31 L507.50,115.52 L508.50,114.74 L509.50,113.94 L510.50,113.15 L511.50,112.35 L512.50,111.54 L513.50,110.74 L514.50,109.93 L515.50,109.13 L516.50,108.33 L517.50,107.52 L518.50,106.73 L519.50,105.93 L520.50,105.15 L521.50,104.37 L522.50,103.61 L523.50,102.86 L524.50,102.12 L525.50,101.41 L526.50,100.72 L527.50,100.06 L528.50,99.44 L529.50,98.85 L530.50,98.30 L531.50,97.81 L532.50,97.37 L533.50,96.98 L534.50,96.65 L535.50,96.38 L536.50,96.17 L537.50,96.02 L538.50,95.92 L539.50,95.87 L540.50,95.86 L541.50,95.90 L542.50,95.97 L543.50,96.08 L544.50,96.22 L545.50,96.39 L546.50,96.58 L547.50,96.79 L548.50,97.02 L549.50,97.27 L550.50,97.53 L551.50,97.82 L552.50,98.11 L553.50,98.42 L554.50,98.74 L555.50,99.07 L556.50,99.41 L557.50,99.76 L558.50,100.12 L559.50,100.49 L560.50,100.86 L561.50,101.25 L562.50,101.64 L563.50,102.04 L564.50,102.45 L565.50,102.86 L566.50,103.28 L567.50,103.70 L568.50,104.13 L569.50,104.57 L570.50,105.01 L571.50,105.46 L572.50,105.91 L573.50,106.36 L574.50,106.83 L575.50,107.29 L576.50,107.76 L577.50,108.23 L578.50,108.71 L579.50,109.19 L580.50,109.67 L581.50,110.16 L582.50,110.65 L583.50,111.14 L584.50,111.64 L585.50,112.14 L586.50,112.64 L587.50,113.14 L588.50,113.64 L589.50,114.15 L590.50,114.66 L591.50,115.17 L592.50,115.68 L593.50,116.19 L594.50,116.71 L595.50,117.22 L596.50,117.74 L597.50,118.25 L598.50,118.77 L599.50,119.28 L600.50,119.80 L601.50,120.32 L602.50,120.83 L603.50,121.35 L604.50,121.86 L605.50,122.38 L606.50,122.89 L607.50,123.40 L608.50,123.91 L609.50,124.42 L610.50,124.93 L611.50,125.43 L612.50,125.94 L613.50,126.44 L614.50,126.94 L615.50,127.43 L616.50,127.93 L617.50,128.42 L618.50,128.91 L619.50,129.39 L620.50,129.87 L621.50,130.35 L622.50,130.82 L623.50,131.29 L624.50,131.76 L625.50,132.22 L626.50,132.68 L627.50,133.13 L628.50,133.58 L629.50,134.02 L630.50,134.46 L631.50,134.90 L632.50,135.32 L633.50,135.75 L634.50,136.16 L635.50,136.57 L636.50,136.98 L637.50,137.38 L638.50,137.77 L639.50,138.16 L640.50,138.54 L641.50,138.91 L642.50,139.28 L643.50,139.64 L644.50,139.99 L645.50,140.33 L646.50,140.67 L647.50,141.00 L648.50,141.32 L649.50,141.64 L650.50,141.95 L651.50,142.25 L652.50,142.54 L653.50,142.82 L654.50,143.10 L655.50,143.36 L656.50,143.62 L657.50,143.87 L658.50,144.11 L659.50,144.35 L660.50,144.57 L661.50,144.78 L662.50,144.99 L663.50,145.19 L664.50,145.37 L665.50,145.55 L666.50,145.72 L667.50,145.88 L668.50,146.03 L669.50,146.17 L670.50,146.31 L671.50,146.43 L672.50,146.54 L673.50,146.64 L674.50,146.74 L675.50,146.82 L676.50,146.89 L677.50,146.96 L678.50,147.01 L679.50,147.06 L680.50,147.09 L681.50,147.11 L682.50,147.13 L683.50,147.13" fill="none" stroke="url(#lg0_0)" stroke-width="2.0" stroke-linejoin="round"/>
<path d="M427.50,132.93 L428.50,132.93 L429.50,132.92 L430.50,132.91 L431.50,132.89 L432.50,132.87 L433.50,132.85 L434.50,132.81 L435.50,132.78 L436.50,132.73 L437.50,132.69 L438.50,132.63 L439.50,132.58 L440.50,132.52 L441.50,132.45 L442.50,132.38 L443.50,132.30 L444.50,132.22 L445.50,132.13 L446.50,132.04 L447.50,131.95 L448.50,131.85 L449.50,131.74 L450.50,131.63 L451.50,131.51 L452.50,131.39 L453.50,131.27 L454.50,131.14 L455.50,131.01 L456.50,130.87 L457.50,130.72 L458.50,130.58 L459.50,130.42 L460.50,130.27 L461.50,130.10 L462.50,129.94 L463.50,129.77 L464.50,129.59 L465.50,129.41 L466.50,129.23 L467.50,129.04 L468.50,128.85 L469.50,128.65 L470.50,128.45 L471.50,128.24 L472.50,128.03 L473.50,127.82 L474.50,127.60 L475.50,127.38 L476.50,127.15 L477.50,126.92 L478.50,126.68 L479.50,126.44 L480.50,126.20 L481.50,125.95 L482.50,125.70 L483.50,125.45 L484.50,125.19 L485.50,124.93 L486.50,124.66 L487.50,124.39 L488.50,124.12 L489.50,123.84 L490.50,123.56 L491.50,123.27 L492.50,122.99 L493.50,122.69 L494.50,122.40 L495.50,122.10 L496.50,121.80 L497.50,121.49 L498.50,121.19 L499.50,120.88 L500.50,120.56 L501.50,120.24 L502.50,119.92 L503.50,119.60 L504.50,119.27 L505.50,118.94 L506.50,118.61 L507.50,118.28 L508.50,117.94 L509.50,117.60 L510.50,117.25 L511.50,116.91 L512.50,116.56 L513.50,116.21 L514.50,115.85 L515.50,115.50 L516.50,115.14 L517.50,114.78 L518.50,114.42 L519.50,114.05 L520.50,113.69 L521.50,113.32 L522.50,112.95 L523.50,112.57 L524.50,112.20 L525.50,111.82 L526.50,111.44 L527.50,111.06 L528.50,110.68 L529.50,110.30 L530.50,109.91 L531.50,109.53 L532.50,109.14 L533.50,108.75 L534.50,108.36 L535.50,107.97 L536.50,107.57 L537.50,107.18 L538.50,106.78 L539.50,106.39 L540.50,105.99 L541.50,105.59 L542.50,105.19 L543.50,104.79 L544.50,104.39 L545.50,103.99 L546.50,103.59 L547.50,103.18 L548.50,102.78 L549.50,102.38 L550.50,101.97 L551.50,101.57 L552.50,101.16 L553.50,100.76 L554.50,100.36 L555.50,99.95 L556.50,99.55 L557.50,99.14 L558.50,98.74 L559.50,98.33 L560.50,97.93 L561.50,97.52 L562.50,97.12 L563.50,96.72 L564.50,96.32 L565.50,95.91 L566.50,95.51 L567.50,95.11 L568.50,94.71 L569.50,94.31 L570.50,93.91 L571.50,93.52 L572.50,93.12 L573.50,92.72 L574.50,92.33 L575.50,91.94 L576.50,91.54 L577.50,91.15 L578.50,90.76 L579.50,90.38 L580.50,89.99 L581.50,89.60 L582.50,89.22 L583.50,88.84 L584.50,88.46 L585.50,88.08 L586.50,87.70 L587.50,87.33 L588.50,86.96 L589.50,86.58 L590.50,86.22 L591.50,85.85 L592.50,85.48 L593.50,85.12 L594.50,84.76 L595.50,84.40 L596.50,84.05 L597.50,83.69 L598.50,83.34 L599.50,82.99 L600.50,82.65 L601.50,82.30 L602.50,81.96 L603.50,81.63 L604.50,81.29 L605.50,80.96 L606.50,80.63 L607.50,80.30 L608.50,79.98 L609.50,79.66 L610.50,79.34 L611.50,79.03 L612.50,78.71 L613.50,78.41 L614.50,78.10 L615.50,77.80 L616.50,77.50 L617.50,77.21 L618.50,76.92 L619.50,76.63 L620.50,76.34 L621.50,76.06 L622.50,75.79 L623.50,75.51 L624.50,75.24 L625.50,74.98 L626.50,74.71 L627.50,74.45 L628.50,74.20 L629.50,73.95 L630.50,73.70 L631.50,73.46 L632.50,73.22 L633.50,72.98 L634.50,72.75 L635.50,72.53 L636.50,72.30 L637.50,72.08 L638.50,71.87 L639.50,71.66 L640.50,71.45 L641.50,71.25 L642.50,71.05 L643.50,70.86 L644.50,70.67 L645.50,70.49 L646.50,70.31 L647.50,70.13 L648.50,69.96 L649.50,69.80 L650.50,69.64 L651.50,69.48 L652.50,69.33 L653.50,69.18 L654.50,69.03 L655.50,68.90 L656.50,68.76 L657.50,68.63 L658.50,68.51 L659.50,68.39 L660.50,68.27 L661.50,68.16 L662.50,68.06 L663.50,67.96 L664.50,67.86 L665.50,67.77 L666.50,67.68 L667.50,67.60 L668.50,67.52 L669.50,67.45 L670.50,67.39 L671.50,67.32 L672.50,67.27 L673.50,67.22 L674.50,67.17 L675.50,67.13 L676.50,67.09 L677.50,67.06 L678.50,67.03 L679.50,67.01 L680.50,66.99 L681.50,66.98 L682.50,66.97 L683.50,66.97" fill="none" stroke="url(#lg0_1)" stroke-width="2.0" stroke-linejoin="round"/>
<path d="M427.50,119.81 L428.50,119.81 L429.50,119.81 L430.50,119.81 L431.50,119.81 L432.50,119.81 L433.50,119.81 L434.50,119.81 L435.50,119.81 L436.50,119.81 L437.50,119.82 L438.50,119.82 L439.50,119.82 L440.50,119.82 L441.50,119.82 L442.50,119.82 L443.50,119.82 L444.50,119.82 L445.50,119.82 L446.50,119.81 L447.50,119.81 L448.50,119.81 L449.50,119.81 L450.50,119.81 L451.50,119.81 L452.50,119.80 L453.50,119.80 L454.50,119.80 L455.50,119.79 L456.50,119.79 L457.50,119.78 L458.50,119.77 L459.50,119.76 L460.50,119.76 L461.50,119.75 L462.50,119.73 L463.50,119.72 L464.50,119.71 L465.50,119.70 L466.50,119.68 L467.50,119.66 L468.50,119.65 L469.50,119.63 L470.50,119.61 L471.50,119.58 L472.50,119.56 L473.50,119.53 L474.50,119.50 L475.50,119.48 L476.50,119.44 L477.50,119.41 L478.50,119.38 L479.50,119.34 L480.50,119.30 L481.50,119.26 L482.50,119.21 L483.50,119.17 L484.50,119.12 L485.50,119.07 L486.50,119.02 L487.50,118.96 L488.50,118.90 L489.50,118.84 L490.50,118.78 L491.50,118.71 L492.50,118.65 L493.50,118.58 L494.50,118.50 L495.50,118.43 L496.50,118.35 L497.50,118.27 L498.50,118.18 L499.50,118.10 L500.50,118.01 L501.50,117.92 L502.50,117.82 L503.50,117.73 L504.50,117.63 L505.50,117.53 L506.50,117.43 L507.50,117.33 L508.50,117.22 L509.50,117.12 L510.50,117.01 L511.50,116.90 L512.50,116.80 L513.50,116.69 L514.50,116.59 L515.50,116.48 L516.50,116.38 L517.50,116.28 L518.50,116.19 L519.50,116.11 L520.50,116.03 L521.50,115.96 L522.50,115.90 L523.50,115.86 L524.50,115.83 L525.50,115.82 L526.50,115.84 L527.50,115.88 L528.50,115.96 L529.50,116.07 L530.50,116.23 L531.50,116.43 L532.50,116.68 L533.50,116.98 L534.50,117.34 L535.50,117.75 L536.50,118.22 L537.50,118.74 L538.50,119.31 L539.50,119.93 L540.50,120.59 L541.50,121.28 L542.50,122.01 L543.50,122.76 L544.50,123.54 L545.50,124.34 L546.50,125.16 L547.50,125.99 L548.50,126.84 L549.50,127.70 L550.50,128.57 L551.50,129.44 L552.50,130.32 L553.50,131.21 L554.50,132.10 L555.50,132.99 L556.50,133.88 L557.50,134.78 L558.50,135.67 L559.50,136.57 L560.50,137.46 L561.50,138.35 L562.50,139.24 L563.50,140.13 L564.50,141.01 L565.50,141.89 L566.50,142.77 L567.50,143.64 L568.50,144.51 L569.50,145.37 L570.50,146.23 L571.50,147.08 L572.50,147.92 L573.50,148.76 L574.50,149.59 L575.50,150.42 L576.50,151.23 L577.50,152.04 L578.50,152.84 L579.50,153.64 L580.50,154.42 L581.50,155.20 L582.50,155.97 L583.50,156.73 L584.50,157.48 L585.50,158.22 L586.50,158.96 L587.50,159.68 L588.50,160.40 L589.50,161.10 L590.50,161.79 L591.50,162.48 L592.50,163.15 L593.50,163.82 L594.50,164.47 L595.50,165.12 L596.50,165.75 L597.50,166.38 L598.50,166.99 L599.50,167.59 L600.50,168.19 L601.50,168.77 L602.50,169.34 L603.50,169.90 L604.50,170.45 L605.50,170.99 L606.50,171.52 L607.50,172.04 L608.50,172.54 L609.50,173.04 L610.50,173.53 L611.50,174.00 L612.50,174.47 L613.50,174.92 L614.50,175.37 L615.50,175.80 L616.50,176.23 L617.50,176.64 L618.50,177.04 L619.50,177.44 L620.50,177.82 L621.50,178.20 L622.50,178.56 L623.50,178.91 L624.50,179.26 L625.50,179.59 L626.50,179.92 L627.50,180.24 L628.50,180.55 L629.50,180.84 L630.50,181.13 L631.50,181.42 L632.50,181.69 L633.50,181.95 L634.50,182.21 L635.50,182.46 L636.50,182.70 L637.50,182.93 L638.50,183.15 L639.50,183.37 L640.50,183.58 L641.50,183.78 L642.50,183.97 L643.50,184.16 L644.50,184.34 L645.50,184.51 L646.50,184.68 L647.50,184.84 L648.50,185.00 L649.50,185.14 L650.50,185.29 L651.50,185.42 L652.50,185.55 L653.50,185.68 L654.50,185.80 L655.50,185.91 L656.50,186.02 L657.50,186.12 L658.50,186.22 L659.50,186.31 L660.50,186.40 L661.50,186.49 L662.50,186.57 L663.50,186.64 L664.50,186.71 L665.50,186.78 L666.50,186.84 L667.50,186.90 L668.50,186.95 L669.50,187.00 L670.50,187.05 L671.50,187.09 L672.50,187.13 L673.50,187.17 L674.50,187.20 L675.50,187.23 L676.50,187.25 L677.50,187.27 L678.50,187.29 L679.50,187.31 L680.50,187.32 L681.50,187.33 L682.50,187.33 L683.50,187.33" fill="none" stroke="url(#lg0_2)" stroke-width="2.0" stroke-linejoin="round"/>
<path d="M427.50,80.19 L428.50,80.19 L429.50,80.19 L430.50,80.19 L431.50,80.19 L432.50,80.19 L433.50,80.19 L434.50,80.19 L435.50,80.19 L436.50,80.19 L437.50,80.18 L438.50,80.18 L439.50,80.18 L440.50,80.18 L441.50,80.18 L442.50,80.18 L443.50,80.18 L444.50,80.18 L445.50,80.18 L446.50,80.19 L447.50,80.19 L448.50,80.19 L449.50,80.19 L450.50,80.19 L451.50,80.19 L452.50,80.20 L453.50,80.20 L454.50,80.20 L455.50,80.21 L456.50,80.21 L457.50,80.22 L458.50,80.23 L459.50,80.24 L460.50,80.24 L461.50,80.25 L462.50,80.27 L463.50,80.28 L464.50,80.29 L465.50,80.30 L466.50,80.32 L467.50,80.34 L468.50,80.35 L469.50,80.37 L470.50,80.39 L471.50,80.42 L472.50,80.44 L473.50,80.47 L474.50,80.50 L475.50,80.52 L476.50,80.56 L477.50,80.59 L478.50,80.62 L479.50,80.66 L480.50,80.70 L481.50,80.74 L482.50,80.79 L483.50,80.83 L484.50,80.88 L485.50,80.93 L486.50,80.98 L487.50,81.04 L488.50,81.10 L489.50,81.16 L490.50,81.22 L491.50,81.29 L492.50,81.35 L493.50,81.42 L494.50,81.50 L495.50,81.57 L496.50,81.65 L497.50,81.73 L498.50,81.82 L499.50,81.90 L500.50,81.99 L501.50,82.08 L502.50,82.18 L503.50,82.27 L504.50,82.37 L505.50,82.47 L506.50,82.57 L507.50,82.67 L508.50,82.78 L509.50,82.88 L510.50,82.99 L511.50,83.10 L512.50,83.20 L513.50,83.31 L514.50,83.41 L515.50,83.52 L516.50,83.62 L517.50,83.72 L518.50,83.81 L519.50,83.89 L520.50,83.97 L521.50,84.04 L522.50,84.10 L523.50,84.14 L524.50,84.17 L525.50,84.18 L526.50,84.16 L527.50,84.12 L528.50,84.04 L529.50,83.93 L530.50,83.77 L531.50,83.57 L532.50,83.32 L533.50,83.02 L534.50,82.66 L535.50,82.25 L536.50,81.78 L537.50,81.26 L538.50,80.69 L539.50,80.07 L540.50,79.41 L541.50,78.72 L542.50,77.99 L543.50,77.24 L544.50,76.46 L545.50,75.66 L546.50,74.84 L547.50,74.01 L548.50,73.16 L549.50,72.30 L550.50,71.43 L551.50,70.56 L552.50,69.68 L553.50,68.79 L554.50,67.90 L555.50,67.01 L556.50,66.12 L557.50,65.22 L558.50,64.33 L559.50,63.43 L560.50,62.54 L561.50,61.65 L562.50,60.76 L563.50,59.87 L564.50,58.99 L565.50,58.11 L566.50,57.23 L567.50,56.36 L568.50,55.49 L569.50,54.63 L570.50,53.77 L571.50,52.92 L572.50,52.08 L573.50,51.24 L574.50,50.41 L575.50,49.58 L576.50,48.77 L577.50,47.96 L578.50,47.16 L579.50,46.36 L580.50,45.58 L581.50,44.80 L582.50,44.03 L583.50,43.27 L584.50,42.52 L585.50,41.78 L586.50,41.04 L587.50,40.32 L588.50,39.60 L589.50,38.90 L590.50,38.21 L591.50,37.52 L592.50,36.85 L593.50,36.18 L594.50,35.53 L595.50,34.88 L596.50,34.25 L597.50,33.62 L598.50,33.01 L599.50,32.41 L600.50,31.81 L601.50,31.23 L602.50,30.66 L603.50,30.10 L604.50,29.55 L605.50,29.01 L606.50,28.48 L607.50,27.96 L608.50,27.46 L609.50,26.96 L610.50,26.47 L611.50,26.00 L612.50,25.53 L613.50,25.08 L614.50,24.63 L615.50,24.20 L616.50,23.77 L617.50,23.36 L618.50,22.96 L619.50,22.56 L620.50,22.18 L621.50,21.80 L622.50,21.44 L623.50,21.09 L624.50,20.74 L625.50,20.41 L626.50,20.08 L627.50,19.76 L628.50,19.45 L629.50,19.16 L630.50,18.87 L631.50,18.58 L632.50,18.31 L633.50,18.05 L634.50,17.79 L635.50,17.54 L636.50,17.30 L637.50,17.07 L638.50,16.85 L639.50,16.63 L640.50,16.42 L641.50,16.22 L642.50,16.03 L643.50,15.84 L644.50,15.66 L645.50,15.49 L646.50,15.32 L647.50,15.16 L648.50,15.00 L649.50,14.86 L650.50,14.71 L651.50,14.58 L652.50,14.45 L653.50,14.32 L654.50,14.20 L655.50,14.09 L656.50,13.98 L657.50,13.88 L658.50,13.78 L659.50,13.69 L660.50,13.60 L661.50,13.51 L662.50,13.43 L663.50,13.36 L664.50,13.29 L665.50,13.22 L666.50,13.16 L667.50,13.10 L668.50,13.05 L669.50,13.00 L670.50,12.95 L671.50,12.91 L672.50,12.87 L673.50,12.83 L674.50,12.80 L675.50,12.77 L676.50,12.75 L677.50,12.73 L678.50,12.71 L679.50,12.69 L680.50,12.68 L681.50,12.67 L682.50,12.67 L683.50,12.67" fill="none" stroke="url(#lg0_3)" stroke-width="2.0" stroke-linejoin="round"/>
<path d="M427.50,67.07 L428.50,67.07 L429.50,67.08 L430.50,67.09 L431.50,67.11 L432.50,67.13 L433.50,67.15 L434.50,67.19 L435.50,67.22 L436.50,67.27 L437.50,67.31 L438.50,67.37 L439.50,67.42 L440.50,67.48 L441.50,67.55 L442.50,67.62 L443.50,67.70 L444.50,67.78 L445.50,67.87 L446.50,67.96 L447.50,68.05 L448.50,68.15 L449.50,68.26 L450.50,68.37 L451.50,68.49 L452.50,68.61 L453.50,68.73 L454.50,68.86 L455.50,68.99 L456.50,69.13 L457.50,69.28 L458.50,69.42 L459.50,69.58 L460.50,69.73 L461.50,69.90 L462.50,70.06 L463.50,70.23 L464.50,70.41 L465.50,70.59 L466.50,70.77 L467.50,70.96 L468.50,71.15 L469.50,71.35 L470.50,71.55 L471.50,71.76 L472.50,71.97 L473.50,72.18 L474.50,72.40 L475.50,72.62 L476.50,72.85 L477.50,73.08 L478.50,73.32 L479.50,73.56 L480.50,73.80 L481.50,74.05 L482.50,74.30 L483.50,74.55 L484.50,74.81 L485.50,75.07 L486.50,75.34 L487.50,75.61 L488.50,75.88 L489.50,76.16 L490.50,76.44 L491.50,76.73 L492.50,77.01 L493.50,77.31 L494.50,77.60 L495.50,77.90 L496.50,78.20 L497.50,78.51 L498.50,78.81 L499.50,79.12 L500.50,79.44 L501.50,79.76 L502.50,80.08 L503.50,80.40 L504.50,80.73 L505.50,81.06 L506.50,81.39 L507.50,81.72 L508.50,82.06 L509.50,82.40 L510.50,82.75 L511.50,83.09 L512.50,83.44 L513.50,83.79 L514.50,84.15 L515.50,84.50 L516.50,84.86 L517.50,85.22 L518.50,85.58 L519.50,85.95 L520.50,86.31 L521.50,86.68 L522.50,87.05 L523.50,87.43 L524.50,87.80 L525.50,88.18 L526.50,88.56 L527.50,88.94 L528.50,89.32 L529.50,89.70 L530.50,90.09 L531.50,90.47 L532.50,90.86 L533.50,91.25 L534.50,91.64 L535.50,92.03 L536.50,92.43 L537.50,92.82 L538.50,93.22 L539.50,93.61 L540.50,94.01 L541.50,94.41 L542.50,94.81 L543.50,95.21 L544.50,95.61 L545.50,96.01 L546.50,96.41 L547.50,96.82 L548.50,97.22 L549.50,97.62 L550.50,98.03 L551.50,98.43 L552.50,98.84 L553.50,99.24 L554.50,99.64 L555.50,100.05 L556.50,100.45 L557.50,100.86 L558.50,101.26 L559.50,101.67 L560.50,102.07 L561.50,102.48 L562.50,102.88 L563.50,103.28 L564.50,103.68 L565.50,104.09 L566.50,104.49 L567.50,104.89 L568.50,105.29 L569.50,105.69 L570.50,106.09 L571.50,106.48 L572.50,106.88 L573.50,107.28 L574.50,107.67 L575.50,108.06 L576.50,108.46 L577.50,108.85 L578.50,109.24 L579.50,109.62 L580.50,110.01 L581.50,110.40 L582.50,110.78 L583.50,111.16 L584.50,111.54 L585.50,111.92 L586.50,112.30 L587.50,112.67 L588.50,113.04 L589.50,113.42 L590.50,113.78 L591.50,114.15 L592.50,114.52 L593.50,114.88 L594.50,115.24 L595.50,115.60 L596.50,115.95 L597.50,116.31 L598.50,116.66 L599.50,117.01 L600.50,117.35 L601.50,117.70 L602.50,118.04 L603.50,118.37 L604.50,118.71 L605.50,119.04 L606.50,119.37 L607.50,119.70 L608.50,120.02 L609.50,120.34 L610.50,120.66 L611.50,120.97 L612.50,121.29 L613.50,121.59 L614.50,121.90 L615.50,122.20 L616.50,122.50 L617.50,122.79 L618.50,123.08 L619.50,123.37 L620.50,123.66 L621.50,123.94 L622.50,124.21 L623.50,124.49 L624.50,124.76 L625.50,125.02 L626.50,125.29 L627.50,125.55 L628.50,125.80 L629.50,126.05 L630.50,126.30 L631.50,126.54 L632.50,126.78 L633.50,127.02 L634.50,127.25 L635.50,127.47 L636.50,127.70 L637.50,127.92 L638.50,128.13 L639.50,128.34 L640.50,128.55 L641.50,128.75 L642.50,128.95 L643.50,129.14 L644.50,129.33 L645.50,129.51 L646.50,129.69 L647.50,129.87 L648.50,130.04 L649.50,130.20 L650.50,130.36 L651.50,130.52 L652.50,130.67 L653.50,130.82 L654.50,130.97 L655.50,131.10 L656.50,131.24 L657.50,131.37 L658.50,131.49 L659.50,131.61 L660.50,131.73 L661.50,131.84 L662.50,131.94 L663.50,132.04 L664.50,132.14 L665.50,132.23 L666.50,132.32 L667.50,132.40 L668.50,132.48 L669.50,132.55 L670.50,132.61 L671.50,132.68 L672.50,132.73 L673.50,132.78 L674.50,132.83 L675.50,132.87 L676.50,132.91 L677.50,132.94 L678.50,132.97 L679.50,132.99 L680.50,133.01 L681.50,133.02 L682.50,133.03 L683.50,133.03" fill="none" stroke="url(#lg0_4)" stroke-width="2.0" stroke-linejoin="round"/>
<path d="M427.50,51.18 L428.50,51.18 L429.50,51.20 L430.50,51.22 L431.50,51.26 L432.50,51.31 L433.50,51.36 L434.50,51.43 L435.50,51.51 L436.50,51.60 L437.50,51.70 L438.50,51.81 L439.50,51.93 L440.50,52.06 L441.50,52.20 L442.50,52.35 L443.50,52.51 L444.50,52.68 L445.50,52.87 L446.50,53.06 L447.50,53.27 L448.50,53.48 L449.50,53.71 L450.50,53.94 L451.50,54.19 L452.50,54.45 L453.50,54.71 L454.50,54.99 L455.50,55.28 L456.50,55.58 L457.50,55.89 L458.50,56.21 L459.50,56.55 L460.50,56.89 L461.50,57.24 L462.50,57.61 L463.50,57.98 L464.50,58.37 L465.50,58.76 L466.50,59.17 L467.50,59.59 L468.50,60.02 L469.50,60.46 L470.50,60.91 L471.50,61.37 L472.50,61.84 L473.50,62.32 L474.50,62.81 L475.50,63.32 L476.50,63.83 L477.50,64.35 L478.50,64.89 L479.50,65.43 L480.50,65.99 L481.50,66.55 L482.50,67.13 L483.50,67.71 L484.50,68.31 L485.50,68.92 L486.50,69.53 L487.50,70.16 L488.50,70.79 L489.50,71.44 L490.50,72.09 L491.50,72.75 L492.50,73.43 L493.50,74.11 L494.50,74.80 L495.50,75.50 L496.50,76.20 L497.50,76.92 L498.50,77.64 L499.50,78.37 L500.50,79.11 L501.50,79.86 L502.50,80.61 L503.50,81.37 L504.50,82.14 L505.50,82.91 L506.50,83.69 L507.50,84.48 L508.50,85.26 L509.50,86.06 L510.50,86.85 L511.50,87.65 L512.50,88.46 L513.50,89.26 L514.50,90.07 L515.50,90.87 L516.50,91.67 L517.50,92.48 L518.50,93.27 L519.50,94.07 L520.50,94.85 L521.50,95.63 L522.50,96.39 L523.50,97.14 L524.50,97.88 L525.50,98.59 L526.50,99.28 L527.50,99.94 L528.50,100.56 L529.50,101.15 L530.50,101.70 L531.50,102.19 L532.50,102.63 L533.50,103.02 L534.50,103.35 L535.50,103.62 L536.50,103.83 L537.50,103.98 L538.50,104.08 L539.50,104.13 L540.50,104.14 L541.50,104.10 L542.50,104.03 L543.50,103.92 L544.50,103.78 L545.50,103.61 L546.50,103.42 L547.50,103.21 L548.50,102.98 L549.50,102.73 L550.50,102.47 L551.50,102.18 L552.50,101.89 L553.50,101.58 L554.50,101.26 L555.50,100.93 L556.50,100.59 L557.50,100.24 L558.50,99.88 L559.50,99.51 L560.50,99.14 L561.50,98.75 L562.50,98.36 L563.50,97.96 L564.50,97.55 L565.50,97.14 L566.50,96.72 L567.50,96.30 L568.50,95.87 L569.50,95.43 L570.50,94.99 L571.50,94.54 L572.50,94.09 L573.50,93.64 L574.50,93.17 L575.50,92.71 L576.50,92.24 L577.50,91.77 L578.50,91.29 L579.50,90.81 L580.50,90.33 L581.50,89.84 L582.50,89.35 L583.50,88.86 L584.50,88.36 L585.50,87.86 L586.50,87.36 L587.50,86.86 L588.50,86.36 L589.50,85.85 L590.50,85.34 L591.50,84.83 L592.50,84.32 L593.50,83.81 L594.50,83.29 L595.50,82.78 L596.50,82.26 L597.50,81.75 L598.50,81.23 L599.50,80.72 L600.50,80.20 L601.50,79.68 L602.50,79.17 L603.50,78.65 L604.50,78.14 L605.50,77.62 L606.50,77.11 L607.50,76.60 L608.50,76.09 L609.50,75.58 L610.50,75.07 L611.50,74.57 L612.50,74.06 L613.50,73.56 L614.50,73.06 L615.50,72.57 L616.50,72.07 L617.50,71.58 L618.50,71.09 L619.50,70.61 L620.50,70.13 L621.50,69.65 L622.50,69.18 L623.50,68.71 L624.50,68.24 L625.50,67.78 L626.50,67.32 L627.50,66.87 L628.50,66.42 L629.50,65.98 L630.50,65.54 L631.50,65.10 L632.50,64.68 L633.50,64.25 L634.50,63.84 L635.50,63.43 L636.50,63.02 L637.50,62.62 L638.50,62.23 L639.50,61.84 L640.50,61.46 L641.50,61.09 L642.50,60.72 L643.50,60.36 L644.50,60.01 L645.50,59.67 L646.50,59.33 L647.50,59.00 L648.50,58.68 L649.50,58.36 L650.50,58.05 L651.50,57.75 L652.50,57.46 L653.50,57.18 L654.50,56.90 L655.50,56.64 L656.50,56.38 L657.50,56.13 L658.50,55.89 L659.50,55.65 L660.50,55.43 L661.50,55.22 L662.50,55.01 L663.50,54.81 L664.50,54.63 L665.50,54.45 L666.50,54.28 L667.50,54.12 L668.50,53.97 L669.50,53.83 L670.50,53.69 L671.50,53.57 L672.50,53.46 L673.50,53.36 L674.50,53.26 L675.50,53.18 L676.50,53.11 L677.50,53.04 L678.50,52.99 L679.50,52.94 L680.50,52.91 L681.50,52.89 L682.50,52.87 L683.50,52.87" fill="none" stroke="url(#lg0_5)" stroke-width="2.0" stroke-linejoin="round"/>
</g>
<rect x="470" y="158.5" width="171" height="34" fill="#fff" fill-opacity="0.7"/>
<text x="478.65" y="182.30" font-size="21.6" font-style="italic" fill="#000" textLength="9.31" lengthAdjust="spacingAndGlyphs" >b</text>
<text x="486.46" y="182.30" font-size="21.6" fill="#000" textLength="17.34" lengthAdjust="spacingAndGlyphs" >=</text>
<text x="502.48" y="182.30" font-size="21.6" fill="#000" textLength="36.05" lengthAdjust="spacingAndGlyphs" >0.00</text>
<text x="540.54" y="182.30" font-size="21.6" fill="#000" >,</text>
<text x="553.31" y="182.30" font-size="21.6" fill="#000" textLength="14.40" lengthAdjust="spacingAndGlyphs" >Φ</text>
<text x="572.68" y="182.30" font-size="21.6" fill="#000" textLength="18.31" lengthAdjust="spacingAndGlyphs" >=</text>
<text x="595.14" y="182.30" font-size="21.6" fill="#000" textLength="37.83" lengthAdjust="spacingAndGlyphs" >0.09</text>
<rect x="427.3" y="4.3" width="256.99999999999994" height="191.0" fill="none" stroke="#000" stroke-width="1.25"/>
<line x1="427.50" y1="195.3" x2="427.50" y2="201.70000000000002" stroke="#000" stroke-width="1.25"/>
<line x1="491.50" y1="195.3" x2="491.50" y2="201.70000000000002" stroke="#000" stroke-width="1.25"/>
<line x1="555.50" y1="195.3" x2="555.50" y2="201.70000000000002" stroke="#000" stroke-width="1.25"/>
<line x1="619.50" y1="195.3" x2="619.50" y2="201.70000000000002" stroke="#000" stroke-width="1.25"/>
<line x1="421.0" y1="18.00" x2="427.3" y2="18.00" stroke="#000" stroke-width="1.25"/>
<text x="402.86" y="26.70" font-size="25.6" fill="#000" textLength="11.41" lengthAdjust="spacingAndGlyphs" >1</text>
<line x1="421.0" y1="100.00" x2="427.3" y2="100.00" stroke="#000" stroke-width="1.25"/>
<text x="402.14" y="108.70" font-size="25.6" fill="#000" textLength="13.21" lengthAdjust="spacingAndGlyphs" >0</text>
<line x1="421.0" y1="182.00" x2="427.3" y2="182.00" stroke="#000" stroke-width="1.25"/>
<text x="402.84" y="191.00" font-size="25.6" fill="#000" textLength="11.55" lengthAdjust="spacingAndGlyphs" >1</text>
<rect x="385.3" y="183.70" width="15.7" height="1.25" fill="#000"/>
<text x="421.48" y="225.50" font-size="25.6" fill="#000" textLength="12.74" lengthAdjust="spacingAndGlyphs" >0</text>
<text x="491.50" y="216.00" font-size="18" text-anchor="middle"><tspan font-style="italic">π</tspan></text>
<text x="491.50" y="233.70" font-size="18" text-anchor="middle">4</text>
<rect x="486.16" y="218.40" width="10.69" height="1.4" fill="#000"/>
<text x="555.50" y="216.00" font-size="18" text-anchor="middle"><tspan font-style="italic">π</tspan></text>
<text x="555.50" y="233.70" font-size="18" text-anchor="middle">2</text>
<rect x="550.16" y="218.40" width="10.69" height="1.4" fill="#000"/>
<text x="619.50" y="216.00" font-size="18" text-anchor="middle">3<tspan font-style="italic">π</tspan></text>
<text x="619.50" y="233.70" font-size="18" text-anchor="middle">4</text>
<rect x="609.66" y="218.40" width="19.69" height="1.4" fill="#000"/>
<text x="504.93" y="260.90" font-size="22.2" font-style="italic" fill="#000" >k</text>
<text x="523.00" y="260.90" font-size="22.2" fill="#000" >(</text>
<text x="531.33" y="260.90" font-size="22.2" font-style="italic" fill="#000" >k</text>
<text x="542.83" y="263.80" font-size="15.5" font-style="italic" fill="#000" >x</text>
<text x="555.53" y="260.90" font-size="22.2" fill="#000" textLength="16.62" lengthAdjust="spacingAndGlyphs" >=</text>
<text x="579.63" y="260.90" font-size="22.2" font-style="italic" fill="#000" >k</text>
<text x="591.32" y="263.80" font-size="15.5" font-style="italic" fill="#000" >y</text>
<text x="598.93" y="260.90" font-size="22.2" fill="#000" >)</text>
<text transform="translate(382.4,100.2) rotate(-90)" x="0" y="0" font-size="22.5" text-anchor="middle" textLength="110" lengthAdjust="spacingAndGlyphs">Energy (eV)</text>
<text x="361.20" y="28.80" font-size="21.5" fill="#000" >b</text>
<text x="372.69" y="28.80" font-size="23.6" fill="#000" >)</text>
<g filter="url(#cm)"><rect x="59.9" y="272.2" width="205.49999999999997" height="191.2" fill="#000"/>
<g clip-path="url(#clipL1)">
<path d="M57,300 L97,356" fill="none" stroke="#fff" stroke-width="10" stroke-opacity="0.006" stroke-linecap="round" filter="url(#b4)" />
<path d="M81.19,258.71 L81.10,263.60 L81.16,268.60 L81.38,273.58 L81.76,278.55 L82.29,283.49 L82.98,288.41 L83.82,293.29 L84.82,298.15 L85.97,302.96 L87.26,307.74 L88.71,312.46 L90.30,317.14 L92.04,321.76 L93.92,326.32 L95.94,330.83 L98.10,335.26 L100.39,339.63 L102.82,343.93 L105.38,348.15 L108.06,352.30 L110.88,356.36 L113.81,360.33 L116.87,364.22 L120.03,368.01 L121.31,367.05 L118.58,362.98 L115.99,358.85 L113.53,354.66 L111.21,350.42 L109.03,346.12 L106.99,341.77 L105.10,337.38 L103.34,332.95 L101.73,328.48 L100.27,323.98 L98.95,319.45 L97.77,314.90 L96.75,310.32 L95.87,305.73 L95.14,301.13 L94.55,296.52 L94.11,291.90 L93.82,287.29 L93.68,282.68 L93.68,278.07 L93.83,273.48 L94.12,268.90 L94.56,264.34 L95.15,259.70Z" fill="#fff" fill-opacity="0.07" filter="url(#b2.5)"/>
<path d="M273.76,428.01 L269.64,428.46 L265.59,428.82 L261.53,429.10 L257.45,429.28 L253.36,429.38 L249.27,429.38 L245.18,429.30 L241.08,429.12 L236.98,428.86 L232.88,428.50 L228.79,428.05 L224.71,427.52 L220.63,426.89 L216.57,426.17 L212.52,425.36 L208.49,424.45 L204.48,423.46 L200.49,422.38 L196.52,421.21 L192.58,419.95 L188.66,418.60 L184.78,417.17 L180.93,415.64 L177.11,414.03 L176.65,414.92 L180.20,417.09 L183.82,419.20 L187.49,421.23 L191.23,423.18 L195.01,425.05 L198.85,426.84 L202.74,428.55 L206.68,430.17 L210.66,431.71 L214.69,433.17 L218.76,434.53 L222.87,435.81 L227.01,437.00 L231.19,438.10 L235.41,439.11 L239.65,440.03 L243.92,440.86 L248.22,441.59 L252.54,442.23 L256.88,442.77 L261.24,443.22 L265.61,443.57 L270.00,443.83 L274.32,444.00Z" fill="#fff" fill-opacity="0.04" filter="url(#b3)"/>
<path d="M87.82,264.11 C87.79,265.04 87.65,267.83 87.62,269.69 C87.59,271.55 87.59,273.42 87.63,275.28 C87.67,277.14 87.74,279.00 87.84,280.86 C87.95,282.72 88.09,284.58 88.26,286.43 C88.44,288.29 88.64,290.14 88.89,291.99 C89.13,293.84 89.41,295.68 89.72,297.52 C90.03,299.36 90.37,301.20 90.75,303.02 C91.13,304.85 91.54,306.68 91.99,308.49 C92.43,310.31 92.91,312.12 93.42,313.92 C93.94,315.72 94.48,317.51 95.06,319.30 C95.64,321.08 96.25,322.85 96.90,324.62 C97.54,326.38 98.22,328.14 98.93,329.88 C99.64,331.62 100.38,333.36 101.15,335.08 C101.92,336.80 102.73,338.50 103.57,340.20 C104.40,341.89 105.27,343.58 106.17,345.24 C107.07,346.91 108.00,348.56 108.96,350.20 C109.91,351.84 110.90,353.46 111.92,355.07 C112.94,356.68 113.99,358.27 115.07,359.84 C116.15,361.42 117.26,362.97 118.39,364.51 C119.53,366.05 120.69,367.57 121.88,369.08 C123.08,370.58 124.30,372.06 125.54,373.53 C126.79,374.99 128.06,376.44 129.36,377.86 C130.66,379.29 131.99,380.69 133.34,382.07 C134.69,383.46 136.07,384.82 137.48,386.16 C138.88,387.50 140.30,388.81 141.76,390.11 C143.21,391.40 144.68,392.67 146.18,393.92 C147.68,395.17 149.20,396.39 150.74,397.60 C152.29,398.80 153.85,399.97 155.44,401.12 C157.02,402.27 158.63,403.40 160.26,404.50 C161.89,405.60 163.54,406.68 165.21,407.73 C166.87,408.77 168.56,409.80 170.27,410.79 C171.97,411.79 173.70,412.76 175.44,413.70 C177.18,414.64 178.94,415.55 180.71,416.44 C182.49,417.33 184.28,418.19 186.09,419.02 C187.90,419.85 189.72,420.65 191.56,421.42 C193.39,422.19 195.24,422.94 197.11,423.65 C198.97,424.37 200.85,425.05 202.74,425.71 C204.63,426.36 206.53,426.99 208.44,427.58 C210.35,428.18 212.28,428.75 214.21,429.28 C216.14,429.82 218.09,430.32 220.04,430.79 C221.99,431.27 223.95,431.71 225.92,432.13 C227.89,432.54 229.87,432.92 231.85,433.27 C233.83,433.62 235.82,433.94 237.82,434.23 C239.81,434.52 241.81,434.77 243.81,435.00 C245.82,435.22 247.83,435.42 249.84,435.58 C251.85,435.74 253.86,435.87 255.88,435.97 C257.89,436.07 259.91,436.14 261.93,436.17 C263.95,436.21 265.97,436.21 267.99,436.18 C270.01,436.15 273.03,436.03 274.04,436.00" fill="none" stroke="url(#gcg268)" stroke-width="4.5" filter="url(#b1.5)"/>
<path d="M87.82,264.11 C87.79,265.04 87.65,267.83 87.62,269.69 C87.59,271.55 87.59,273.42 87.63,275.28 C87.67,277.14 87.74,279.00 87.84,280.86 C87.95,282.72 88.09,284.58 88.26,286.43 C88.44,288.29 88.64,290.14 88.89,291.99 C89.13,293.84 89.41,295.68 89.72,297.52 C90.03,299.36 90.37,301.20 90.75,303.02 C91.13,304.85 91.54,306.68 91.99,308.49 C92.43,310.31 92.91,312.12 93.42,313.92 C93.94,315.72 94.48,317.51 95.06,319.30 C95.64,321.08 96.25,322.85 96.90,324.62 C97.54,326.38 98.22,328.14 98.93,329.88 C99.64,331.62 100.38,333.36 101.15,335.08 C101.92,336.80 102.73,338.50 103.57,340.20 C104.40,341.89 105.27,343.58 106.17,345.24 C107.07,346.91 108.00,348.56 108.96,350.20 C109.91,351.84 110.90,353.46 111.92,355.07 C112.94,356.68 113.99,358.27 115.07,359.84 C116.15,361.42 117.26,362.97 118.39,364.51 C119.53,366.05 120.69,367.57 121.88,369.08 C123.08,370.58 124.30,372.06 125.54,373.53 C126.79,374.99 128.06,376.44 129.36,377.86 C130.66,379.29 131.99,380.69 133.34,382.07 C134.69,383.46 136.07,384.82 137.48,386.16 C138.88,387.50 140.30,388.81 141.76,390.11 C143.21,391.40 144.68,392.67 146.18,393.92 C147.68,395.17 149.20,396.39 150.74,397.60 C152.29,398.80 153.85,399.97 155.44,401.12 C157.02,402.27 158.63,403.40 160.26,404.50 C161.89,405.60 163.54,406.68 165.21,407.73 C166.87,408.77 168.56,409.80 170.27,410.79 C171.97,411.79 173.70,412.76 175.44,413.70 C177.18,414.64 178.94,415.55 180.71,416.44 C182.49,417.33 184.28,418.19 186.09,419.02 C187.90,419.85 189.72,420.65 191.56,421.42 C193.39,422.19 195.24,422.94 197.11,423.65 C198.97,424.37 200.85,425.05 202.74,425.71 C204.63,426.36 206.53,426.99 208.44,427.58 C210.35,428.18 212.28,428.75 214.21,429.28 C216.14,429.82 218.09,430.32 220.04,430.79 C221.99,431.27 223.95,431.71 225.92,432.13 C227.89,432.54 229.87,432.92 231.85,433.27 C233.83,433.62 235.82,433.94 237.82,434.23 C239.81,434.52 241.81,434.77 243.81,435.00 C245.82,435.22 247.83,435.42 249.84,435.58 C251.85,435.74 253.86,435.87 255.88,435.97 C257.89,436.07 259.91,436.14 261.93,436.17 C263.95,436.21 265.97,436.21 267.99,436.18 C270.01,436.15 273.03,436.03 274.04,436.00" fill="none" stroke="url(#gc268)" stroke-width="1.8" filter="url(#b0.6)"/>
</g>
</g>
<rect x="59.9" y="272.2" width="205.49999999999997" height="191.2" fill="none" stroke="#000" stroke-width="1.25"/>
<line x1="59.90" y1="463.4" x2="59.90" y2="469.79999999999995" stroke="#000" stroke-width="1.25"/>
<line x1="53.4" y1="463.40" x2="59.9" y2="463.40" stroke="#000" stroke-width="1.25"/>
<line x1="111.27" y1="463.4" x2="111.27" y2="469.79999999999995" stroke="#000" stroke-width="1.25"/>
<line x1="53.4" y1="415.60" x2="59.9" y2="415.60" stroke="#000" stroke-width="1.25"/>
<line x1="162.65" y1="463.4" x2="162.65" y2="469.79999999999995" stroke="#000" stroke-width="1.25"/>
<line x1="53.4" y1="367.80" x2="59.9" y2="367.80" stroke="#000" stroke-width="1.25"/>
<line x1="214.02" y1="463.4" x2="214.02" y2="469.79999999999995" stroke="#000" stroke-width="1.25"/>
<line x1="53.4" y1="320.00" x2="59.9" y2="320.00" stroke="#000" stroke-width="1.25"/>
<text x="34.88" y="472.50" font-size="25.6" fill="#000" textLength="12.74" lengthAdjust="spacingAndGlyphs" >0</text>
<text x="42.00" y="414.40" font-size="18" text-anchor="middle"><tspan font-style="italic">π</tspan></text>
<text x="42.00" y="432.10" font-size="18" text-anchor="middle">4</text>
<rect x="36.66" y="416.80" width="10.69" height="1.4" fill="#000"/>
<text x="42.00" y="366.90" font-size="18" text-anchor="middle"><tspan font-style="italic">π</tspan></text>
<text x="42.00" y="384.60" font-size="18" text-anchor="middle">2</text>
<rect x="36.66" y="369.30" width="10.69" height="1.4" fill="#000"/>
<text x="37.40" y="320.90" font-size="18" text-anchor="middle">3<tspan font-style="italic">π</tspan></text>
<text x="37.40" y="338.60" font-size="18" text-anchor="middle">4</text>
<rect x="27.56" y="323.30" width="19.69" height="1.4" fill="#000"/>
<text x="53.28" y="493.60" font-size="25.6" fill="#000" textLength="12.74" lengthAdjust="spacingAndGlyphs" >0</text>
<text x="111.27" y="484.00" font-size="18" text-anchor="middle"><tspan font-style="italic">π</tspan></text>
<text x="111.27" y="501.70" font-size="18" text-anchor="middle">4</text>
<rect x="105.93" y="486.40" width="10.69" height="1.4" fill="#000"/>
<text x="162.65" y="484.00" font-size="18" text-anchor="middle"><tspan font-style="italic">π</tspan></text>
<text x="162.65" y="501.70" font-size="18" text-anchor="middle">2</text>
<rect x="157.31" y="486.40" width="10.69" height="1.4" fill="#000"/>
<text x="214.02" y="484.00" font-size="18" text-anchor="middle">3<tspan font-style="italic">π</tspan></text>
<text x="214.02" y="501.70" font-size="18" text-anchor="middle">4</text>
<rect x="204.18" y="486.40" width="19.69" height="1.4" fill="#000"/>
<text x="153.23" y="527.90" font-size="22.2" font-style="italic" fill="#000" >k</text>
<text x="164.33" y="530.80" font-size="15.5" font-style="italic" fill="#000" >x</text>
<text transform="translate(14.5,367.5) rotate(-90)" x="0" y="0" font-size="22.2" text-anchor="middle"><tspan font-style="italic">k</tspan><tspan font-style="italic" font-size="15.5" dy="3.3">y</tspan></text>
<text x="5.74" y="296.80" font-size="21.5" fill="#000" >c</text>
<text x="15.29" y="296.80" font-size="23.6" fill="#000" >)</text>
<text x="85.35" y="450.30" font-size="21.6" font-style="italic" fill="#fff" textLength="9.31" lengthAdjust="spacingAndGlyphs" >b</text>
<text x="93.16" y="450.30" font-size="21.6" fill="#fff" textLength="17.34" lengthAdjust="spacingAndGlyphs" >=</text>
<text x="109.18" y="450.30" font-size="21.6" fill="#fff" textLength="36.05" lengthAdjust="spacingAndGlyphs" >0.10</text>
<text x="147.24" y="450.30" font-size="21.6" fill="#fff" >,</text>
<text x="160.01" y="450.30" font-size="21.6" fill="#fff" textLength="14.40" lengthAdjust="spacingAndGlyphs" >Φ</text>
<text x="179.38" y="450.30" font-size="21.6" fill="#fff" textLength="18.31" lengthAdjust="spacingAndGlyphs" >=</text>
<text x="201.84" y="450.30" font-size="21.6" fill="#fff" textLength="37.83" lengthAdjust="spacingAndGlyphs" >0.09</text>
<rect x="278.5" y="272.3" width="9.399999999999977" height="191.0" fill="url(#cbg)"/>
<rect x="278.5" y="272.3" width="9.399999999999977" height="191.0" fill="none" stroke="#000" stroke-width="1.25"/>
<line x1="287.9" y1="272.20" x2="293.9" y2="272.20" stroke="#000" stroke-width="1.25"/>
<text x="300.00" y="277.50" font-size="15.5" text-anchor="start" fill="#000" >1.0</text>
<line x1="287.9" y1="310.60" x2="293.9" y2="310.60" stroke="#000" stroke-width="1.25"/>
<text x="300.00" y="315.90" font-size="15.5" text-anchor="start" fill="#000" >0.8</text>
<line x1="287.9" y1="349.00" x2="293.9" y2="349.00" stroke="#000" stroke-width="1.25"/>
<text x="300.00" y="354.30" font-size="15.5" text-anchor="start" fill="#000" >0.6</text>
<line x1="287.9" y1="387.40" x2="293.9" y2="387.40" stroke="#000" stroke-width="1.25"/>
<text x="300.00" y="392.70" font-size="15.5" text-anchor="start" fill="#000" >0.4</text>
<line x1="287.9" y1="425.80" x2="293.9" y2="425.80" stroke="#000" stroke-width="1.25"/>
<text x="300.00" y="431.10" font-size="15.5" text-anchor="start" fill="#000" >0.2</text>
<text transform="translate(333.2,297) rotate(90)" x="0" y="0" font-size="22.5" textLength="142" lengthAdjust="spacingAndGlyphs"><tspan font-style="italic">A</tspan><tspan font-style="italic" font-size="15.5" dy="3.3">c</tspan><tspan dy="-3.3">(</tspan><tspan font-style="italic">ω</tspan> = 0, <tspan font-style="italic">k</tspan>)/<tspan font-style="italic">A</tspan><tspan font-size="15.5" dy="3.3">0</tspan></text>
<g clip-path="url(#clipR1)">
<path d="M427.50,421.53 L428.50,421.53 L429.50,421.51 L430.50,421.48 L431.50,421.44 L432.50,421.39 L433.50,421.33 L434.50,421.25 L435.50,421.17 L436.50,421.07 L437.50,420.96 L438.50,420.84 L439.50,420.71 L440.50,420.56 L441.50,420.41 L442.50,420.24 L443.50,420.07 L444.50,419.88 L445.50,419.68 L446.50,419.47 L447.50,419.25 L448.50,419.01 L449.50,418.77 L450.50,418.52 L451.50,418.25 L452.50,417.98 L453.50,417.69 L454.50,417.40 L455.50,417.09 L456.50,416.77 L457.50,416.45 L458.50,416.11 L459.50,415.76 L460.50,415.41 L461.50,415.05 L462.50,414.67 L463.50,414.29 L464.50,413.90 L465.50,413.51 L466.50,413.10 L467.50,412.69 L468.50,412.27 L469.50,411.85 L470.50,411.43 L471.50,411.00 L472.50,410.56 L473.50,410.13 L474.50,409.69 L475.50,409.26 L476.50,408.82 L477.50,408.39 L478.50,407.97 L479.50,407.55 L480.50,407.13 L481.50,406.73 L482.50,406.33 L483.50,405.94 L484.50,405.57 L485.50,405.20 L486.50,404.84 L487.50,404.49 L488.50,404.15 L489.50,403.82 L490.50,403.50 L491.50,403.18 L492.50,402.87 L493.50,402.57 L494.50,402.27 L495.50,401.97 L496.50,401.68 L497.50,401.40 L498.50,401.11 L499.50,400.83 L500.50,400.55 L501.50,400.28 L502.50,400.00 L503.50,399.73 L504.50,399.46 L505.50,399.19 L506.50,398.93 L507.50,398.66 L508.50,398.40 L509.50,398.14 L510.50,397.88 L511.50,397.62 L512.50,397.36 L513.50,397.11 L514.50,396.86 L515.50,396.61 L516.50,396.36 L517.50,396.12 L518.50,395.88 L519.50,395.65 L520.50,395.42 L521.50,395.20 L522.50,394.99 L523.50,394.80 L524.50,394.62 L525.50,394.47 L526.50,394.36 L527.50,394.27 L528.50,394.21 L529.50,394.16 L530.50,394.13 L531.50,394.11 L532.50,394.10 L533.50,394.10 L534.50,394.12 L535.50,394.15 L536.50,394.19 L537.50,394.24 L538.50,394.32 L539.50,394.41 L540.50,394.53 L541.50,394.67 L542.50,394.84 L543.50,395.04 L544.50,395.28 L545.50,395.55 L546.50,395.87 L547.50,396.23 L548.50,396.63 L549.50,397.08 L550.50,397.57 L551.50,398.11 L552.50,398.69 L553.50,399.30 L554.50,399.95 L555.50,400.63 L556.50,401.33 L557.50,402.05 L558.50,402.80 L559.50,403.56 L560.50,404.33 L561.50,405.11 L562.50,405.91 L563.50,406.71 L564.50,407.51 L565.50,408.32 L566.50,409.13 L567.50,409.94 L568.50,410.75 L569.50,411.56 L570.50,412.37 L571.50,413.17 L572.50,413.98 L573.50,414.78 L574.50,415.58 L575.50,416.37 L576.50,417.16 L577.50,417.94 L578.50,418.72 L579.50,419.49 L580.50,420.25 L581.50,421.01 L582.50,421.76 L583.50,422.51 L584.50,423.24 L585.50,423.97 L586.50,424.70 L587.50,425.41 L588.50,426.12 L589.50,426.82 L590.50,427.51 L591.50,428.19 L592.50,428.86 L593.50,429.53 L594.50,430.18 L595.50,430.83 L596.50,431.47 L597.50,432.10 L598.50,432.72 L599.50,433.33 L600.50,433.93 L601.50,434.52 L602.50,435.11 L603.50,435.68 L604.50,436.25 L605.50,436.80 L606.50,437.35 L607.50,437.88 L608.50,438.41 L609.50,438.93 L610.50,439.43 L611.50,439.93 L612.50,440.42 L613.50,440.90 L614.50,441.37 L615.50,441.83 L616.50,442.28 L617.50,442.73 L618.50,443.16 L619.50,443.58 L620.50,444.00 L621.50,444.40 L622.50,444.80 L623.50,445.19 L624.50,445.56 L625.50,445.93 L626.50,446.29 L627.50,446.65 L628.50,446.99 L629.50,447.33 L630.50,447.65 L631.50,447.97 L632.50,448.28 L633.50,448.58 L634.50,448.87 L635.50,449.16 L636.50,449.44 L637.50,449.71 L638.50,449.97 L639.50,450.22 L640.50,450.47 L641.50,450.71 L642.50,450.94 L643.50,451.17 L644.50,451.39 L645.50,451.60 L646.50,451.80 L647.50,452.00 L648.50,452.19 L649.50,452.37 L650.50,452.55 L651.50,452.72 L652.50,452.88 L653.50,453.04 L654.50,453.19 L655.50,453.34 L656.50,453.48 L657.50,453.61 L658.50,453.74 L659.50,453.86 L660.50,453.98 L661.50,454.09 L662.50,454.20 L663.50,454.30 L664.50,454.39 L665.50,454.48 L666.50,454.56 L667.50,454.64 L668.50,454.72 L669.50,454.79 L670.50,454.85 L671.50,454.91 L672.50,454.96 L673.50,455.01 L674.50,455.06 L675.50,455.10 L676.50,455.13 L677.50,455.16 L678.50,455.19 L679.50,455.21 L680.50,455.23 L681.50,455.24 L682.50,455.24 L683.50,455.25" fill="none" stroke="url(#lg1_0)" stroke-width="2.0" stroke-linejoin="round"/>
<path d="M427.50,409.22 L428.50,409.21 L429.50,409.21 L430.50,409.20 L431.50,409.18 L432.50,409.16 L433.50,409.13 L434.50,409.10 L435.50,409.07 L436.50,409.02 L437.50,408.98 L438.50,408.93 L439.50,408.88 L440.50,408.82 L441.50,408.75 L442.50,408.68 L443.50,408.61 L444.50,408.53 L445.50,408.45 L446.50,408.36 L447.50,408.27 L448.50,408.17 L449.50,408.07 L450.50,407.96 L451.50,407.84 L452.50,407.73 L453.50,407.60 L454.50,407.48 L455.50,407.34 L456.50,407.20 L457.50,407.06 L458.50,406.91 L459.50,406.75 L460.50,406.59 L461.50,406.42 L462.50,406.25 L463.50,406.07 L464.50,405.88 L465.50,405.69 L466.50,405.49 L467.50,405.28 L468.50,405.06 L469.50,404.83 L470.50,404.59 L471.50,404.35 L472.50,404.09 L473.50,403.82 L474.50,403.54 L475.50,403.25 L476.50,402.94 L477.50,402.61 L478.50,402.27 L479.50,401.91 L480.50,401.53 L481.50,401.14 L482.50,400.72 L483.50,400.29 L484.50,399.84 L485.50,399.37 L486.50,398.89 L487.50,398.40 L488.50,397.90 L489.50,397.42 L490.50,396.95 L491.50,396.52 L492.50,396.15 L493.50,395.85 L494.50,395.63 L495.50,395.46 L496.50,395.34 L497.50,395.25 L498.50,395.17 L499.50,395.11 L500.50,395.06 L501.50,395.01 L502.50,394.96 L503.50,394.92 L504.50,394.88 L505.50,394.84 L506.50,394.80 L507.50,394.76 L508.50,394.72 L509.50,394.68 L510.50,394.63 L511.50,394.59 L512.50,394.55 L513.50,394.51 L514.50,394.46 L515.50,394.42 L516.50,394.37 L517.50,394.32 L518.50,394.27 L519.50,394.22 L520.50,394.17 L521.50,394.11 L522.50,394.05 L523.50,393.97 L524.50,393.88 L525.50,393.77 L526.50,393.64 L527.50,393.48 L528.50,393.30 L529.50,393.12 L530.50,392.93 L531.50,392.74 L532.50,392.55 L533.50,392.36 L534.50,392.18 L535.50,392.00 L536.50,391.82 L537.50,391.65 L538.50,391.49 L539.50,391.33 L540.50,391.17 L541.50,391.02 L542.50,390.88 L543.50,390.75 L544.50,390.62 L545.50,390.50 L546.50,390.39 L547.50,390.29 L548.50,390.19 L549.50,390.11 L550.50,390.03 L551.50,389.97 L552.50,389.91 L553.50,389.87 L554.50,389.84 L555.50,389.81 L556.50,389.81 L557.50,389.81 L558.50,389.83 L559.50,389.86 L560.50,389.90 L561.50,389.96 L562.50,390.03 L563.50,390.11 L564.50,390.20 L565.50,390.30 L566.50,390.42 L567.50,390.54 L568.50,390.67 L569.50,390.81 L570.50,390.96 L571.50,391.11 L572.50,391.28 L573.50,391.45 L574.50,391.64 L575.50,391.83 L576.50,392.03 L577.50,392.24 L578.50,392.46 L579.50,392.69 L580.50,392.92 L581.50,393.17 L582.50,393.42 L583.50,393.68 L584.50,393.95 L585.50,394.23 L586.50,394.52 L587.50,394.81 L588.50,395.11 L589.50,395.42 L590.50,395.74 L591.50,396.06 L592.50,396.40 L593.50,396.73 L594.50,397.08 L595.50,397.43 L596.50,397.79 L597.50,398.15 L598.50,398.52 L599.50,398.89 L600.50,399.27 L601.50,399.65 L602.50,400.04 L603.50,400.43 L604.50,400.82 L605.50,401.22 L606.50,401.62 L607.50,402.03 L608.50,402.43 L609.50,402.84 L610.50,403.25 L611.50,403.67 L612.50,404.08 L613.50,404.50 L614.50,404.91 L615.50,405.33 L616.50,405.75 L617.50,406.17 L618.50,406.58 L619.50,407.00 L620.50,407.42 L621.50,407.83 L622.50,408.25 L623.50,408.66 L624.50,409.07 L625.50,409.48 L626.50,409.89 L627.50,410.29 L628.50,410.70 L629.50,411.09 L630.50,411.49 L631.50,411.88 L632.50,412.27 L633.50,412.66 L634.50,413.04 L635.50,413.42 L636.50,413.79 L637.50,414.16 L638.50,414.52 L639.50,414.88 L640.50,415.24 L641.50,415.58 L642.50,415.93 L643.50,416.26 L644.50,416.59 L645.50,416.92 L646.50,417.24 L647.50,417.55 L648.50,417.85 L649.50,418.15 L650.50,418.44 L651.50,418.73 L652.50,419.01 L653.50,419.28 L654.50,419.54 L655.50,419.79 L656.50,420.04 L657.50,420.28 L658.50,420.51 L659.50,420.73 L660.50,420.95 L661.50,421.16 L662.50,421.35 L663.50,421.54 L664.50,421.72 L665.50,421.90 L666.50,422.06 L667.50,422.21 L668.50,422.36 L669.50,422.50 L670.50,422.62 L671.50,422.74 L672.50,422.85 L673.50,422.95 L674.50,423.04 L675.50,423.12 L676.50,423.19 L677.50,423.25 L678.50,423.31 L679.50,423.35 L680.50,423.38 L681.50,423.41 L682.50,423.42 L683.50,423.43" fill="none" stroke="url(#lg1_1)" stroke-width="2.0" stroke-linejoin="round"/>
<path d="M427.50,394.00 L428.50,394.00 L429.50,394.00 L430.50,394.00 L431.50,394.00 L432.50,394.01 L433.50,394.01 L434.50,394.02 L435.50,394.03 L436.50,394.03 L437.50,394.04 L438.50,394.05 L439.50,394.06 L440.50,394.07 L441.50,394.09 L442.50,394.10 L443.50,394.11 L444.50,394.13 L445.50,394.14 L446.50,394.16 L447.50,394.17 L448.50,394.19 L449.50,394.21 L450.50,394.23 L451.50,394.24 L452.50,394.26 L453.50,394.28 L454.50,394.30 L455.50,394.32 L456.50,394.34 L457.50,394.36 L458.50,394.38 L459.50,394.40 L460.50,394.42 L461.50,394.44 L462.50,394.46 L463.50,394.48 L464.50,394.50 L465.50,394.51 L466.50,394.53 L467.50,394.55 L468.50,394.56 L469.50,394.58 L470.50,394.60 L471.50,394.61 L472.50,394.62 L473.50,394.63 L474.50,394.64 L475.50,394.65 L476.50,394.66 L477.50,394.67 L478.50,394.67 L479.50,394.67 L480.50,394.67 L481.50,394.66 L482.50,394.65 L483.50,394.64 L484.50,394.62 L485.50,394.59 L486.50,394.55 L487.50,394.50 L488.50,394.43 L489.50,394.34 L490.50,394.20 L491.50,394.01 L492.50,393.73 L493.50,393.37 L494.50,392.92 L495.50,392.38 L496.50,391.80 L497.50,391.17 L498.50,390.50 L499.50,389.81 L500.50,389.10 L501.50,388.37 L502.50,387.63 L503.50,386.87 L504.50,386.10 L505.50,385.32 L506.50,384.52 L507.50,383.72 L508.50,382.91 L509.50,382.09 L510.50,381.26 L511.50,380.43 L512.50,379.59 L513.50,378.74 L514.50,377.88 L515.50,377.02 L516.50,376.16 L517.50,375.29 L518.50,374.41 L519.50,373.54 L520.50,372.65 L521.50,371.77 L522.50,370.88 L523.50,370.00 L524.50,369.11 L525.50,368.21 L526.50,367.32 L527.50,366.43 L528.50,365.54 L529.50,364.66 L530.50,363.77 L531.50,362.89 L532.50,362.02 L533.50,361.15 L534.50,360.29 L535.50,359.44 L536.50,358.60 L537.50,357.77 L538.50,356.95 L539.50,356.16 L540.50,355.38 L541.50,354.63 L542.50,353.90 L543.50,353.21 L544.50,352.54 L545.50,351.92 L546.50,351.33 L547.50,350.78 L548.50,350.28 L549.50,349.83 L550.50,349.41 L551.50,349.04 L552.50,348.71 L553.50,348.42 L554.50,348.16 L555.50,347.93 L556.50,347.73 L557.50,347.55 L558.50,347.39 L559.50,347.25 L560.50,347.12 L561.50,347.01 L562.50,346.90 L563.50,346.80 L564.50,346.70 L565.50,346.61 L566.50,346.52 L567.50,346.42 L568.50,346.33 L569.50,346.23 L570.50,346.13 L571.50,346.02 L572.50,345.91 L573.50,345.79 L574.50,345.67 L575.50,345.55 L576.50,345.41 L577.50,345.28 L578.50,345.13 L579.50,344.99 L580.50,344.83 L581.50,344.67 L582.50,344.51 L583.50,344.34 L584.50,344.17 L585.50,344.00 L586.50,343.81 L587.50,343.63 L588.50,343.44 L589.50,343.25 L590.50,343.05 L591.50,342.85 L592.50,342.65 L593.50,342.45 L594.50,342.24 L595.50,342.03 L596.50,341.81 L597.50,341.60 L598.50,341.38 L599.50,341.16 L600.50,340.94 L601.50,340.72 L602.50,340.50 L603.50,340.27 L604.50,340.05 L605.50,339.82 L606.50,339.59 L607.50,339.37 L608.50,339.14 L609.50,338.91 L610.50,338.68 L611.50,338.45 L612.50,338.23 L613.50,338.00 L614.50,337.77 L615.50,337.55 L616.50,337.32 L617.50,337.10 L618.50,336.87 L619.50,336.65 L620.50,336.43 L621.50,336.21 L622.50,335.99 L623.50,335.77 L624.50,335.56 L625.50,335.34 L626.50,335.13 L627.50,334.92 L628.50,334.71 L629.50,334.51 L630.50,334.31 L631.50,334.11 L632.50,333.91 L633.50,333.71 L634.50,333.52 L635.50,333.33 L636.50,333.14 L637.50,332.95 L638.50,332.77 L639.50,332.59 L640.50,332.42 L641.50,332.24 L642.50,332.08 L643.50,331.91 L644.50,331.75 L645.50,331.59 L646.50,331.43 L647.50,331.28 L648.50,331.13 L649.50,330.98 L650.50,330.84 L651.50,330.70 L652.50,330.57 L653.50,330.44 L654.50,330.31 L655.50,330.19 L656.50,330.07 L657.50,329.95 L658.50,329.84 L659.50,329.74 L660.50,329.63 L661.50,329.53 L662.50,329.44 L663.50,329.35 L664.50,329.26 L665.50,329.18 L666.50,329.10 L667.50,329.03 L668.50,328.96 L669.50,328.90 L670.50,328.84 L671.50,328.78 L672.50,328.73 L673.50,328.68 L674.50,328.64 L675.50,328.60 L676.50,328.57 L677.50,328.54 L678.50,328.51 L679.50,328.49 L680.50,328.48 L681.50,328.47 L682.50,328.46 L683.50,328.46" fill="none" stroke="url(#lg1_2)" stroke-width="2.0" stroke-linejoin="round"/>
<path d="M427.50,341.40 L428.50,341.40 L429.50,341.40 L430.50,341.40 L431.50,341.40 L432.50,341.39 L433.50,341.39 L434.50,341.38 L435.50,341.37 L436.50,341.37 L437.50,341.36 L438.50,341.35 L439.50,341.34 L440.50,341.33 L441.50,341.31 L442.50,341.30 L443.50,341.29 L444.50,341.27 L445.50,341.26 L446.50,341.24 L447.50,341.23 L448.50,341.21 L449.50,341.19 L450.50,341.17 L451.50,341.16 L452.50,341.14 L453.50,341.12 L454.50,341.10 L455.50,341.08 L456.50,341.06 L457.50,341.04 L458.50,341.02 L459.50,341.00 L460.50,340.98 L461.50,340.96 L462.50,340.94 L463.50,340.92 L464.50,340.90 L465.50,340.89 L466.50,340.87 L467.50,340.85 L468.50,340.84 L469.50,340.82 L470.50,340.80 L471.50,340.79 L472.50,340.78 L473.50,340.77 L474.50,340.76 L475.50,340.75 L476.50,340.74 L477.50,340.73 L478.50,340.73 L479.50,340.73 L480.50,340.73 L481.50,340.74 L482.50,340.75 L483.50,340.76 L484.50,340.78 L485.50,340.81 L486.50,340.85 L487.50,340.90 L488.50,340.97 L489.50,341.06 L490.50,341.20 L491.50,341.39 L492.50,341.67 L493.50,342.03 L494.50,342.48 L495.50,343.02 L496.50,343.60 L497.50,344.23 L498.50,344.90 L499.50,345.59 L500.50,346.30 L501.50,347.03 L502.50,347.77 L503.50,348.53 L504.50,349.30 L505.50,350.08 L506.50,350.88 L507.50,351.68 L508.50,352.49 L509.50,353.31 L510.50,354.14 L511.50,354.97 L512.50,355.81 L513.50,356.66 L514.50,357.52 L515.50,358.38 L516.50,359.24 L517.50,360.11 L518.50,360.99 L519.50,361.86 L520.50,362.75 L521.50,363.63 L522.50,364.52 L523.50,365.40 L524.50,366.29 L525.50,367.19 L526.50,368.08 L527.50,368.97 L528.50,369.86 L529.50,370.74 L530.50,371.63 L531.50,372.51 L532.50,373.38 L533.50,374.25 L534.50,375.11 L535.50,375.96 L536.50,376.80 L537.50,377.63 L538.50,378.45 L539.50,379.24 L540.50,380.02 L541.50,380.77 L542.50,381.50 L543.50,382.19 L544.50,382.86 L545.50,383.48 L546.50,384.07 L547.50,384.62 L548.50,385.12 L549.50,385.57 L550.50,385.99 L551.50,386.36 L552.50,386.69 L553.50,386.98 L554.50,387.24 L555.50,387.47 L556.50,387.67 L557.50,387.85 L558.50,388.01 L559.50,388.15 L560.50,388.28 L561.50,388.39 L562.50,388.50 L563.50,388.60 L564.50,388.70 L565.50,388.79 L566.50,388.88 L567.50,388.98 L568.50,389.07 L569.50,389.17 L570.50,389.27 L571.50,389.38 L572.50,389.49 L573.50,389.61 L574.50,389.73 L575.50,389.85 L576.50,389.99 L577.50,390.12 L578.50,390.27 L579.50,390.41 L580.50,390.57 L581.50,390.73 L582.50,390.89 L583.50,391.06 L584.50,391.23 L585.50,391.40 L586.50,391.59 L587.50,391.77 L588.50,391.96 L589.50,392.15 L590.50,392.35 L591.50,392.55 L592.50,392.75 L593.50,392.95 L594.50,393.16 L595.50,393.37 L596.50,393.59 L597.50,393.80 L598.50,394.02 L599.50,394.24 L600.50,394.46 L601.50,394.68 L602.50,394.90 L603.50,395.13 L604.50,395.35 L605.50,395.58 L606.50,395.81 L607.50,396.03 L608.50,396.26 L609.50,396.49 L610.50,396.72 L611.50,396.95 L612.50,397.17 L613.50,397.40 L614.50,397.63 L615.50,397.85 L616.50,398.08 L617.50,398.30 L618.50,398.53 L619.50,398.75 L620.50,398.97 L621.50,399.19 L622.50,399.41 L623.50,399.63 L624.50,399.84 L625.50,400.06 L626.50,400.27 L627.50,400.48 L628.50,400.69 L629.50,400.89 L630.50,401.09 L631.50,401.29 L632.50,401.49 L633.50,401.69 L634.50,401.88 L635.50,402.07 L636.50,402.26 L637.50,402.45 L638.50,402.63 L639.50,402.81 L640.50,402.98 L641.50,403.16 L642.50,403.32 L643.50,403.49 L644.50,403.65 L645.50,403.81 L646.50,403.97 L647.50,404.12 L648.50,404.27 L649.50,404.42 L650.50,404.56 L651.50,404.70 L652.50,404.83 L653.50,404.96 L654.50,405.09 L655.50,405.21 L656.50,405.33 L657.50,405.45 L658.50,405.56 L659.50,405.66 L660.50,405.77 L661.50,405.87 L662.50,405.96 L663.50,406.05 L664.50,406.14 L665.50,406.22 L666.50,406.30 L667.50,406.37 L668.50,406.44 L669.50,406.50 L670.50,406.56 L671.50,406.62 L672.50,406.67 L673.50,406.72 L674.50,406.76 L675.50,406.80 L676.50,406.83 L677.50,406.86 L678.50,406.89 L679.50,406.91 L680.50,406.92 L681.50,406.93 L682.50,406.94 L683.50,406.94" fill="none" stroke="url(#lg1_3)" stroke-width="2.0" stroke-linejoin="round"/>
<path d="M427.50,326.18 L428.50,326.19 L429.50,326.19 L430.50,326.20 L431.50,326.22 L432.50,326.24 L433.50,326.27 L434.50,326.30 L435.50,326.33 L436.50,326.38 L437.50,326.42 L438.50,326.47 L439.50,326.52 L440.50,326.58 L441.50,326.65 L442.50,326.72 L443.50,326.79 L444.50,326.87 L445.50,326.95 L446.50,327.04 L447.50,327.13 L448.50,327.23 L449.50,327.33 L450.50,327.44 L451.50,327.56 L452.50,327.67 L453.50,327.80 L454.50,327.92 L455.50,328.06 L456.50,328.20 L457.50,328.34 L458.50,328.49 L459.50,328.65 L460.50,328.81 L461.50,328.98 L462.50,329.15 L463.50,329.33 L464.50,329.52 L465.50,329.71 L466.50,329.91 L467.50,330.12 L468.50,330.34 L469.50,330.57 L470.50,330.81 L471.50,331.05 L472.50,331.31 L473.50,331.58 L474.50,331.86 L475.50,332.15 L476.50,332.46 L477.50,332.79 L478.50,333.13 L479.50,333.49 L480.50,333.87 L481.50,334.26 L482.50,334.68 L483.50,335.11 L484.50,335.56 L485.50,336.03 L486.50,336.51 L487.50,337.00 L488.50,337.50 L489.50,337.98 L490.50,338.45 L491.50,338.88 L492.50,339.25 L493.50,339.55 L494.50,339.77 L495.50,339.94 L496.50,340.06 L497.50,340.15 L498.50,340.23 L499.50,340.29 L500.50,340.34 L501.50,340.39 L502.50,340.44 L503.50,340.48 L504.50,340.52 L505.50,340.56 L506.50,340.60 L507.50,340.64 L508.50,340.68 L509.50,340.72 L510.50,340.77 L511.50,340.81 L512.50,340.85 L513.50,340.89 L514.50,340.94 L515.50,340.98 L516.50,341.03 L517.50,341.08 L518.50,341.13 L519.50,341.18 L520.50,341.23 L521.50,341.29 L522.50,341.35 L523.50,341.43 L524.50,341.52 L525.50,341.63 L526.50,341.76 L527.50,341.92 L528.50,342.10 L529.50,342.28 L530.50,342.47 L531.50,342.66 L532.50,342.85 L533.50,343.04 L534.50,343.22 L535.50,343.40 L536.50,343.58 L537.50,343.75 L538.50,343.91 L539.50,344.07 L540.50,344.23 L541.50,344.38 L542.50,344.52 L543.50,344.65 L544.50,344.78 L545.50,344.90 L546.50,345.01 L547.50,345.11 L548.50,345.21 L549.50,345.29 L550.50,345.37 L551.50,345.43 L552.50,345.49 L553.50,345.53 L554.50,345.56 L555.50,345.59 L556.50,345.59 L557.50,345.59 L558.50,345.57 L559.50,345.54 L560.50,345.50 L561.50,345.44 L562.50,345.37 L563.50,345.29 L564.50,345.20 L565.50,345.10 L566.50,344.98 L567.50,344.86 L568.50,344.73 L569.50,344.59 L570.50,344.44 L571.50,344.29 L572.50,344.12 L573.50,343.95 L574.50,343.76 L575.50,343.57 L576.50,343.37 L577.50,343.16 L578.50,342.94 L579.50,342.71 L580.50,342.48 L581.50,342.23 L582.50,341.98 L583.50,341.72 L584.50,341.45 L585.50,341.17 L586.50,340.88 L587.50,340.59 L588.50,340.29 L589.50,339.98 L590.50,339.66 L591.50,339.34 L592.50,339.00 L593.50,338.67 L594.50,338.32 L595.50,337.97 L596.50,337.61 L597.50,337.25 L598.50,336.88 L599.50,336.51 L600.50,336.13 L601.50,335.75 L602.50,335.36 L603.50,334.97 L604.50,334.58 L605.50,334.18 L606.50,333.78 L607.50,333.37 L608.50,332.97 L609.50,332.56 L610.50,332.15 L611.50,331.73 L612.50,331.32 L613.50,330.90 L614.50,330.49 L615.50,330.07 L616.50,329.65 L617.50,329.23 L618.50,328.82 L619.50,328.40 L620.50,327.98 L621.50,327.57 L622.50,327.15 L623.50,326.74 L624.50,326.33 L625.50,325.92 L626.50,325.51 L627.50,325.11 L628.50,324.70 L629.50,324.31 L630.50,323.91 L631.50,323.52 L632.50,323.13 L633.50,322.74 L634.50,322.36 L635.50,321.98 L636.50,321.61 L637.50,321.24 L638.50,320.88 L639.50,320.52 L640.50,320.16 L641.50,319.82 L642.50,319.47 L643.50,319.14 L644.50,318.81 L645.50,318.48 L646.50,318.16 L647.50,317.85 L648.50,317.55 L649.50,317.25 L650.50,316.96 L651.50,316.67 L652.50,316.39 L653.50,316.12 L654.50,315.86 L655.50,315.61 L656.50,315.36 L657.50,315.12 L658.50,314.89 L659.50,314.67 L660.50,314.45 L661.50,314.24 L662.50,314.05 L663.50,313.86 L664.50,313.68 L665.50,313.50 L666.50,313.34 L667.50,313.19 L668.50,313.04 L669.50,312.90 L670.50,312.78 L671.50,312.66 L672.50,312.55 L673.50,312.45 L674.50,312.36 L675.50,312.28 L676.50,312.21 L677.50,312.15 L678.50,312.09 L679.50,312.05 L680.50,312.02 L681.50,311.99 L682.50,311.98 L683.50,311.97" fill="none" stroke="url(#lg1_4)" stroke-width="2.0" stroke-linejoin="round"/>
<path d="M427.50,313.87 L428.50,313.87 L429.50,313.89 L430.50,313.92 L431.50,313.96 L432.50,314.01 L433.50,314.07 L434.50,314.15 L435.50,314.23 L436.50,314.33 L437.50,314.44 L438.50,314.56 L439.50,314.69 L440.50,314.84 L441.50,314.99 L442.50,315.16 L443.50,315.33 L444.50,315.52 L445.50,315.72 L446.50,315.93 L447.50,316.15 L448.50,316.39 L449.50,316.63 L450.50,316.88 L451.50,317.15 L452.50,317.42 L453.50,317.71 L454.50,318.00 L455.50,318.31 L456.50,318.63 L457.50,318.95 L458.50,319.29 L459.50,319.64 L460.50,319.99 L461.50,320.35 L462.50,320.73 L463.50,321.11 L464.50,321.50 L465.50,321.89 L466.50,322.30 L467.50,322.71 L468.50,323.13 L469.50,323.55 L470.50,323.97 L471.50,324.40 L472.50,324.84 L473.50,325.27 L474.50,325.71 L475.50,326.14 L476.50,326.58 L477.50,327.01 L478.50,327.43 L479.50,327.85 L480.50,328.27 L481.50,328.67 L482.50,329.07 L483.50,329.46 L484.50,329.83 L485.50,330.20 L486.50,330.56 L487.50,330.91 L488.50,331.25 L489.50,331.58 L490.50,331.90 L491.50,332.22 L492.50,332.53 L493.50,332.83 L494.50,333.13 L495.50,333.43 L496.50,333.72 L497.50,334.00 L498.50,334.29 L499.50,334.57 L500.50,334.85 L501.50,335.12 L502.50,335.40 L503.50,335.67 L504.50,335.94 L505.50,336.21 L506.50,336.47 L507.50,336.74 L508.50,337.00 L509.50,337.26 L510.50,337.52 L511.50,337.78 L512.50,338.04 L513.50,338.29 L514.50,338.54 L515.50,338.79 L516.50,339.04 L517.50,339.28 L518.50,339.52 L519.50,339.75 L520.50,339.98 L521.50,340.20 L522.50,340.41 L523.50,340.60 L524.50,340.78 L525.50,340.93 L526.50,341.04 L527.50,341.13 L528.50,341.19 L529.50,341.24 L530.50,341.27 L531.50,341.29 L532.50,341.30 L533.50,341.30 L534.50,341.28 L535.50,341.25 L536.50,341.21 L537.50,341.16 L538.50,341.08 L539.50,340.99 L540.50,340.87 L541.50,340.73 L542.50,340.56 L543.50,340.36 L544.50,340.12 L545.50,339.85 L546.50,339.53 L547.50,339.17 L548.50,338.77 L549.50,338.32 L550.50,337.83 L551.50,337.29 L552.50,336.71 L553.50,336.10 L554.50,335.45 L555.50,334.77 L556.50,334.07 L557.50,333.35 L558.50,332.60 L559.50,331.84 L560.50,331.07 L561.50,330.29 L562.50,329.49 L563.50,328.69 L564.50,327.89 L565.50,327.08 L566.50,326.27 L567.50,325.46 L568.50,324.65 L569.50,323.84 L570.50,323.03 L571.50,322.23 L572.50,321.42 L573.50,320.62 L574.50,319.82 L575.50,319.03 L576.50,318.24 L577.50,317.46 L578.50,316.68 L579.50,315.91 L580.50,315.15 L581.50,314.39 L582.50,313.64 L583.50,312.89 L584.50,312.16 L585.50,311.43 L586.50,310.70 L587.50,309.99 L588.50,309.28 L589.50,308.58 L590.50,307.89 L591.50,307.21 L592.50,306.54 L593.50,305.87 L594.50,305.22 L595.50,304.57 L596.50,303.93 L597.50,303.30 L598.50,302.68 L599.50,302.07 L600.50,301.47 L601.50,300.88 L602.50,300.29 L603.50,299.72 L604.50,299.15 L605.50,298.60 L606.50,298.05 L607.50,297.52 L608.50,296.99 L609.50,296.47 L610.50,295.97 L611.50,295.47 L612.50,294.98 L613.50,294.50 L614.50,294.03 L615.50,293.57 L616.50,293.12 L617.50,292.67 L618.50,292.24 L619.50,291.82 L620.50,291.40 L621.50,291.00 L622.50,290.60 L623.50,290.21 L624.50,289.84 L625.50,289.47 L626.50,289.11 L627.50,288.75 L628.50,288.41 L629.50,288.07 L630.50,287.75 L631.50,287.43 L632.50,287.12 L633.50,286.82 L634.50,286.53 L635.50,286.24 L636.50,285.96 L637.50,285.69 L638.50,285.43 L639.50,285.18 L640.50,284.93 L641.50,284.69 L642.50,284.46 L643.50,284.23 L644.50,284.01 L645.50,283.80 L646.50,283.60 L647.50,283.40 L648.50,283.21 L649.50,283.03 L650.50,282.85 L651.50,282.68 L652.50,282.52 L653.50,282.36 L654.50,282.21 L655.50,282.06 L656.50,281.92 L657.50,281.79 L658.50,281.66 L659.50,281.54 L660.50,281.42 L661.50,281.31 L662.50,281.20 L663.50,281.10 L664.50,281.01 L665.50,280.92 L666.50,280.84 L667.50,280.76 L668.50,280.68 L669.50,280.61 L670.50,280.55 L671.50,280.49 L672.50,280.44 L673.50,280.39 L674.50,280.34 L675.50,280.30 L676.50,280.27 L677.50,280.24 L678.50,280.21 L679.50,280.19 L680.50,280.17 L681.50,280.16 L682.50,280.16 L683.50,280.15" fill="none" stroke="url(#lg1_5)" stroke-width="2.0" stroke-linejoin="round"/>
</g>
<rect x="470" y="426.5" width="171" height="34" fill="#fff" fill-opacity="0.7"/>
<text x="478.65" y="450.30" font-size="21.6" font-style="italic" fill="#000" textLength="9.31" lengthAdjust="spacingAndGlyphs" >b</text>
<text x="486.46" y="450.30" font-size="21.6" fill="#000" textLength="17.34" lengthAdjust="spacingAndGlyphs" >=</text>
<text x="502.48" y="450.30" font-size="21.6" fill="#000" textLength="36.05" lengthAdjust="spacingAndGlyphs" >0.10</text>
<text x="540.54" y="450.30" font-size="21.6" fill="#000" >,</text>
<text x="553.31" y="450.30" font-size="21.6" fill="#000" textLength="14.40" lengthAdjust="spacingAndGlyphs" >Φ</text>
<text x="572.68" y="450.30" font-size="21.6" fill="#000" textLength="18.31" lengthAdjust="spacingAndGlyphs" >=</text>
<text x="595.14" y="450.30" font-size="21.6" fill="#000" textLength="37.83" lengthAdjust="spacingAndGlyphs" >0.09</text>
<rect x="427.3" y="272.3" width="256.99999999999994" height="191.0" fill="none" stroke="#000" stroke-width="1.25"/>
<line x1="427.50" y1="463.3" x2="427.50" y2="469.7" stroke="#000" stroke-width="1.25"/>
<line x1="491.50" y1="463.3" x2="491.50" y2="469.7" stroke="#000" stroke-width="1.25"/>
<line x1="555.50" y1="463.3" x2="555.50" y2="469.7" stroke="#000" stroke-width="1.25"/>
<line x1="619.50" y1="463.3" x2="619.50" y2="469.7" stroke="#000" stroke-width="1.25"/>
<line x1="421.0" y1="283.50" x2="427.3" y2="283.50" stroke="#000" stroke-width="1.25"/>
<text x="402.86" y="292.20" font-size="25.6" fill="#000" textLength="11.41" lengthAdjust="spacingAndGlyphs" >1</text>
<line x1="421.0" y1="367.70" x2="427.3" y2="367.70" stroke="#000" stroke-width="1.25"/>
<text x="402.14" y="376.40" font-size="25.6" fill="#000" textLength="13.21" lengthAdjust="spacingAndGlyphs" >0</text>
<line x1="421.0" y1="451.90" x2="427.3" y2="451.90" stroke="#000" stroke-width="1.25"/>
<text x="402.84" y="460.90" font-size="25.6" fill="#000" textLength="11.55" lengthAdjust="spacingAndGlyphs" >1</text>
<rect x="385.3" y="453.60" width="15.7" height="1.25" fill="#000"/>
<text x="421.48" y="493.50" font-size="25.6" fill="#000" textLength="12.74" lengthAdjust="spacingAndGlyphs" >0</text>
<text x="491.50" y="484.00" font-size="18" text-anchor="middle"><tspan font-style="italic">π</tspan></text>
<text x="491.50" y="501.70" font-size="18" text-anchor="middle">4</text>
<rect x="486.16" y="486.40" width="10.69" height="1.4" fill="#000"/>
<text x="555.50" y="484.00" font-size="18" text-anchor="middle"><tspan font-style="italic">π</tspan></text>
<text x="555.50" y="501.70" font-size="18" text-anchor="middle">2</text>
<rect x="550.16" y="486.40" width="10.69" height="1.4" fill="#000"/>
<text x="619.50" y="484.00" font-size="18" text-anchor="middle">3<tspan font-style="italic">π</tspan></text>
<text x="619.50" y="501.70" font-size="18" text-anchor="middle">4</text>
<rect x="609.66" y="486.40" width="19.69" height="1.4" fill="#000"/>
<text x="504.93" y="528.90" font-size="22.2" font-style="italic" fill="#000" >k</text>
<text x="523.00" y="528.90" font-size="22.2" fill="#000" >(</text>
<text x="531.33" y="528.90" font-size="22.2" font-style="italic" fill="#000" >k</text>
<text x="542.83" y="531.80" font-size="15.5" font-style="italic" fill="#000" >x</text>
<text x="555.53" y="528.90" font-size="22.2" fill="#000" textLength="16.62" lengthAdjust="spacingAndGlyphs" >=</text>
<text x="579.63" y="528.90" font-size="22.2" font-style="italic" fill="#000" >k</text>
<text x="591.32" y="531.80" font-size="15.5" font-style="italic" fill="#000" >y</text>
<text x="598.93" y="528.90" font-size="22.2" fill="#000" >)</text>
<text transform="translate(382.4,368.2) rotate(-90)" x="0" y="0" font-size="22.5" text-anchor="middle" textLength="110" lengthAdjust="spacingAndGlyphs">Energy (eV)</text>
<text x="360.65" y="296.80" font-size="21.5" fill="#000" >d</text>
<text x="372.99" y="296.80" font-size="23.6" fill="#000" >)</text>
<g filter="url(#cm)"><rect x="59.9" y="540.2" width="205.49999999999997" height="191.19999999999993" fill="#000"/>
<g clip-path="url(#clipL2)">
<ellipse cx="147" cy="649.5" rx="56" ry="15" fill="#fff" fill-opacity="0.009" transform="rotate(42 147 649.5)" filter="url(#b5)"/>
<ellipse cx="144" cy="651.5" rx="30" ry="7" fill="#fff" fill-opacity="0.02" transform="rotate(41 144 651.5)" filter="url(#b4)"/>
<ellipse cx="142.5" cy="652.8" rx="17" ry="4" fill="#fff" fill-opacity="0.06" transform="rotate(40 142.5 652.8)" filter="url(#b2.5)"/>
<ellipse cx="141.9" cy="653.6" rx="10" ry="2.3" fill="#fff" fill-opacity="0.24" transform="rotate(39 141.9 653.6)" filter="url(#b1.4)"/>
<ellipse cx="141.9" cy="653.7" rx="4.6" ry="1.4" fill="#fff" fill-opacity="0.7" transform="rotate(38 141.9 653.7)" filter="url(#b0.7)"/>
</g>
</g>
<rect x="59.9" y="540.2" width="205.49999999999997" height="191.19999999999993" fill="none" stroke="#000" stroke-width="1.25"/>
<line x1="59.90" y1="731.4" x2="59.90" y2="737.8" stroke="#000" stroke-width="1.25"/>
<line x1="53.4" y1="731.40" x2="59.9" y2="731.40" stroke="#000" stroke-width="1.25"/>
<line x1="111.27" y1="731.4" x2="111.27" y2="737.8" stroke="#000" stroke-width="1.25"/>
<line x1="53.4" y1="683.60" x2="59.9" y2="683.60" stroke="#000" stroke-width="1.25"/>
<line x1="162.65" y1="731.4" x2="162.65" y2="737.8" stroke="#000" stroke-width="1.25"/>
<line x1="53.4" y1="635.80" x2="59.9" y2="635.80" stroke="#000" stroke-width="1.25"/>
<line x1="214.02" y1="731.4" x2="214.02" y2="737.8" stroke="#000" stroke-width="1.25"/>
<line x1="53.4" y1="588.00" x2="59.9" y2="588.00" stroke="#000" stroke-width="1.25"/>
<text x="34.88" y="740.50" font-size="25.6" fill="#000" textLength="12.74" lengthAdjust="spacingAndGlyphs" >0</text>
<text x="42.00" y="682.40" font-size="18" text-anchor="middle"><tspan font-style="italic">π</tspan></text>
<text x="42.00" y="700.10" font-size="18" text-anchor="middle">4</text>
<rect x="36.66" y="684.80" width="10.69" height="1.4" fill="#000"/>
<text x="42.00" y="634.90" font-size="18" text-anchor="middle"><tspan font-style="italic">π</tspan></text>
<text x="42.00" y="652.60" font-size="18" text-anchor="middle">2</text>
<rect x="36.66" y="637.30" width="10.69" height="1.4" fill="#000"/>
<text x="37.40" y="588.90" font-size="18" text-anchor="middle">3<tspan font-style="italic">π</tspan></text>
<text x="37.40" y="606.60" font-size="18" text-anchor="middle">4</text>
<rect x="27.56" y="591.30" width="19.69" height="1.4" fill="#000"/>
<text x="53.28" y="761.60" font-size="25.6" fill="#000" textLength="12.74" lengthAdjust="spacingAndGlyphs" >0</text>
<text x="111.27" y="752.00" font-size="18" text-anchor="middle"><tspan font-style="italic">π</tspan></text>
<text x="111.27" y="769.70" font-size="18" text-anchor="middle">4</text>
<rect x="105.93" y="754.40" width="10.69" height="1.4" fill="#000"/>
<text x="162.65" y="752.00" font-size="18" text-anchor="middle"><tspan font-style="italic">π</tspan></text>
<text x="162.65" y="769.70" font-size="18" text-anchor="middle">2</text>
<rect x="157.31" y="754.40" width="10.69" height="1.4" fill="#000"/>
<text x="214.02" y="752.00" font-size="18" text-anchor="middle">3<tspan font-style="italic">π</tspan></text>
<text x="214.02" y="769.70" font-size="18" text-anchor="middle">4</text>
<rect x="204.18" y="754.40" width="19.69" height="1.4" fill="#000"/>
<text x="153.23" y="795.90" font-size="22.2" font-style="italic" fill="#000" >k</text>
<text x="164.33" y="798.80" font-size="15.5" font-style="italic" fill="#000" >x</text>
<text transform="translate(14.5,635.5) rotate(-90)" x="0" y="0" font-size="22.2" text-anchor="middle"><tspan font-style="italic">k</tspan><tspan font-style="italic" font-size="15.5" dy="3.3">y</tspan></text>
<text x="5.54" y="564.80" font-size="21.5" fill="#000" >e</text>
<text x="15.29" y="564.80" font-size="23.6" fill="#000" >)</text>
<text x="85.35" y="718.30" font-size="21.6" font-style="italic" fill="#fff" textLength="9.31" lengthAdjust="spacingAndGlyphs" >b</text>
<text x="93.16" y="718.30" font-size="21.6" fill="#fff" textLength="17.34" lengthAdjust="spacingAndGlyphs" >=</text>
<text x="109.18" y="718.30" font-size="21.6" fill="#fff" textLength="36.05" lengthAdjust="spacingAndGlyphs" >0.10</text>
<text x="147.24" y="718.30" font-size="21.6" fill="#fff" >,</text>
<text x="160.01" y="718.30" font-size="21.6" fill="#fff" textLength="14.40" lengthAdjust="spacingAndGlyphs" >Φ</text>
<text x="179.38" y="718.30" font-size="21.6" fill="#fff" textLength="18.31" lengthAdjust="spacingAndGlyphs" >=</text>
<text x="201.84" y="718.30" font-size="21.6" fill="#fff" textLength="37.60" lengthAdjust="spacingAndGlyphs" >0.36</text>
<rect x="278.5" y="540.3" width="9.399999999999977" height="191.0" fill="url(#cbg)"/>
<rect x="278.5" y="540.3" width="9.399999999999977" height="191.0" fill="none" stroke="#000" stroke-width="1.25"/>
<line x1="287.9" y1="540.20" x2="293.9" y2="540.20" stroke="#000" stroke-width="1.25"/>
<text x="300.00" y="545.50" font-size="15.5" text-anchor="start" fill="#000" >1.0</text>
<line x1="287.9" y1="578.60" x2="293.9" y2="578.60" stroke="#000" stroke-width="1.25"/>
<text x="300.00" y="583.90" font-size="15.5" text-anchor="start" fill="#000" >0.8</text>
<line x1="287.9" y1="617.00" x2="293.9" y2="617.00" stroke="#000" stroke-width="1.25"/>
<text x="300.00" y="622.30" font-size="15.5" text-anchor="start" fill="#000" >0.6</text>
<line x1="287.9" y1="655.40" x2="293.9" y2="655.40" stroke="#000" stroke-width="1.25"/>
<text x="300.00" y="660.70" font-size="15.5" text-anchor="start" fill="#000" >0.4</text>
<line x1="287.9" y1="693.80" x2="293.9" y2="693.80" stroke="#000" stroke-width="1.25"/>
<text x="300.00" y="699.10" font-size="15.5" text-anchor="start" fill="#000" >0.2</text>
<text transform="translate(333.2,565) rotate(90)" x="0" y="0" font-size="22.5" textLength="142" lengthAdjust="spacingAndGlyphs"><tspan font-style="italic">A</tspan><tspan font-style="italic" font-size="15.5" dy="3.3">c</tspan><tspan dy="-3.3">(</tspan><tspan font-style="italic">ω</tspan> = 0, <tspan font-style="italic">k</tspan>)/<tspan font-style="italic">A</tspan><tspan font-size="15.5" dy="3.3">0</tspan></text>
<g clip-path="url(#clipR2)">
<path d="M427.50,684.54 L428.50,684.53 L429.50,684.52 L430.50,684.50 L431.50,684.47 L432.50,684.44 L433.50,684.39 L434.50,684.34 L435.50,684.28 L436.50,684.21 L437.50,684.14 L438.50,684.05 L439.50,683.96 L440.50,683.86 L441.50,683.76 L442.50,683.64 L443.50,683.52 L444.50,683.39 L445.50,683.25 L446.50,683.11 L447.50,682.96 L448.50,682.80 L449.50,682.63 L450.50,682.46 L451.50,682.28 L452.50,682.09 L453.50,681.90 L454.50,681.69 L455.50,681.49 L456.50,681.27 L457.50,681.05 L458.50,680.82 L459.50,680.59 L460.50,680.35 L461.50,680.11 L462.50,679.86 L463.50,679.60 L464.50,679.34 L465.50,679.08 L466.50,678.81 L467.50,678.54 L468.50,678.27 L469.50,678.00 L470.50,677.74 L471.50,677.49 L472.50,677.25 L473.50,677.06 L474.50,676.93 L475.50,676.85 L476.50,676.82 L477.50,676.82 L478.50,676.84 L479.50,676.87 L480.50,676.90 L481.50,676.94 L482.50,676.98 L483.50,677.03 L484.50,677.07 L485.50,677.12 L486.50,677.17 L487.50,677.22 L488.50,677.28 L489.50,677.33 L490.50,677.39 L491.50,677.44 L492.50,677.50 L493.50,677.56 L494.50,677.62 L495.50,677.68 L496.50,677.74 L497.50,677.80 L498.50,677.86 L499.50,677.93 L500.50,677.99 L501.50,678.06 L502.50,678.13 L503.50,678.20 L504.50,678.27 L505.50,678.35 L506.50,678.43 L507.50,678.50 L508.50,678.58 L509.50,678.67 L510.50,678.75 L511.50,678.84 L512.50,678.93 L513.50,679.03 L514.50,679.12 L515.50,679.22 L516.50,679.33 L517.50,679.44 L518.50,679.55 L519.50,679.66 L520.50,679.78 L521.50,679.91 L522.50,680.04 L523.50,680.17 L524.50,680.31 L525.50,680.46 L526.50,680.61 L527.50,680.77 L528.50,680.93 L529.50,681.10 L530.50,681.28 L531.50,681.46 L532.50,681.65 L533.50,681.85 L534.50,682.06 L535.50,682.27 L536.50,682.49 L537.50,682.72 L538.50,682.96 L539.50,683.21 L540.50,683.47 L541.50,683.73 L542.50,684.01 L543.50,684.29 L544.50,684.58 L545.50,684.88 L546.50,685.19 L547.50,685.51 L548.50,685.84 L549.50,686.18 L550.50,686.52 L551.50,686.88 L552.50,687.24 L553.50,687.61 L554.50,687.99 L555.50,688.38 L556.50,688.77 L557.50,689.18 L558.50,689.59 L559.50,690.00 L560.50,690.43 L561.50,690.86 L562.50,691.29 L563.50,691.73 L564.50,692.18 L565.50,692.63 L566.50,693.08 L567.50,693.54 L568.50,694.01 L569.50,694.47 L570.50,694.94 L571.50,695.41 L572.50,695.88 L573.50,696.36 L574.50,696.84 L575.50,697.31 L576.50,697.79 L577.50,698.27 L578.50,698.75 L579.50,699.22 L580.50,699.70 L581.50,700.18 L582.50,700.65 L583.50,701.12 L584.50,701.59 L585.50,702.06 L586.50,702.53 L587.50,702.99 L588.50,703.45 L589.50,703.91 L590.50,704.36 L591.50,704.81 L592.50,705.25 L593.50,705.69 L594.50,706.13 L595.50,706.56 L596.50,706.99 L597.50,707.41 L598.50,707.83 L599.50,708.24 L600.50,708.64 L601.50,709.04 L602.50,709.44 L603.50,709.83 L604.50,710.21 L605.50,710.59 L606.50,710.96 L607.50,711.33 L608.50,711.69 L609.50,712.04 L610.50,712.39 L611.50,712.73 L612.50,713.06 L613.50,713.39 L614.50,713.71 L615.50,714.02 L616.50,714.33 L617.50,714.63 L618.50,714.93 L619.50,715.22 L620.50,715.50 L621.50,715.78 L622.50,716.05 L623.50,716.31 L624.50,716.57 L625.50,716.82 L626.50,717.06 L627.50,717.30 L628.50,717.54 L629.50,717.76 L630.50,717.98 L631.50,718.20 L632.50,718.41 L633.50,718.61 L634.50,718.80 L635.50,719.00 L636.50,719.18 L637.50,719.36 L638.50,719.53 L639.50,719.70 L640.50,719.87 L641.50,720.02 L642.50,720.18 L643.50,720.32 L644.50,720.47 L645.50,720.61 L646.50,720.74 L647.50,720.87 L648.50,720.99 L649.50,721.11 L650.50,721.22 L651.50,721.33 L652.50,721.44 L653.50,721.54 L654.50,721.64 L655.50,721.73 L656.50,721.82 L657.50,721.90 L658.50,721.98 L659.50,722.06 L660.50,722.13 L661.50,722.20 L662.50,722.27 L663.50,722.33 L664.50,722.39 L665.50,722.45 L666.50,722.50 L667.50,722.55 L668.50,722.60 L669.50,722.64 L670.50,722.68 L671.50,722.71 L672.50,722.75 L673.50,722.78 L674.50,722.80 L675.50,722.83 L676.50,722.85 L677.50,722.87 L678.50,722.88 L679.50,722.90 L680.50,722.91 L681.50,722.91 L682.50,722.92 L683.50,722.92" fill="none" stroke="url(#lg2_0)" stroke-width="2.0" stroke-linejoin="round"/>
<path d="M427.50,675.17 L428.50,675.17 L429.50,675.17 L430.50,675.18 L431.50,675.18 L432.50,675.19 L433.50,675.19 L434.50,675.20 L435.50,675.21 L436.50,675.22 L437.50,675.24 L438.50,675.25 L439.50,675.27 L440.50,675.28 L441.50,675.30 L442.50,675.32 L443.50,675.34 L444.50,675.36 L445.50,675.38 L446.50,675.40 L447.50,675.43 L448.50,675.45 L449.50,675.48 L450.50,675.51 L451.50,675.54 L452.50,675.57 L453.50,675.60 L454.50,675.63 L455.50,675.66 L456.50,675.69 L457.50,675.72 L458.50,675.76 L459.50,675.79 L460.50,675.83 L461.50,675.86 L462.50,675.90 L463.50,675.93 L464.50,675.97 L465.50,676.00 L466.50,676.04 L467.50,676.07 L468.50,676.10 L469.50,676.12 L470.50,676.13 L471.50,676.13 L472.50,676.11 L473.50,676.04 L474.50,675.91 L475.50,675.72 L476.50,675.48 L477.50,675.20 L478.50,674.91 L479.50,674.61 L480.50,674.29 L481.50,673.97 L482.50,673.65 L483.50,673.32 L484.50,672.98 L485.50,672.65 L486.50,672.31 L487.50,671.98 L488.50,671.64 L489.50,671.30 L490.50,670.96 L491.50,670.62 L492.50,670.28 L493.50,669.94 L494.50,669.60 L495.50,669.26 L496.50,668.92 L497.50,668.59 L498.50,668.25 L499.50,667.92 L500.50,667.59 L501.50,667.26 L502.50,666.93 L503.50,666.60 L504.50,666.28 L505.50,665.96 L506.50,665.64 L507.50,665.32 L508.50,665.01 L509.50,664.70 L510.50,664.39 L511.50,664.09 L512.50,663.78 L513.50,663.49 L514.50,663.19 L515.50,662.90 L516.50,662.61 L517.50,662.33 L518.50,662.04 L519.50,661.77 L520.50,661.49 L521.50,661.22 L522.50,660.95 L523.50,660.69 L524.50,660.43 L525.50,660.18 L526.50,659.93 L527.50,659.68 L528.50,659.44 L529.50,659.20 L530.50,658.97 L531.50,658.74 L532.50,658.52 L533.50,658.30 L534.50,658.09 L535.50,657.88 L536.50,657.68 L537.50,657.48 L538.50,657.29 L539.50,657.10 L540.50,656.92 L541.50,656.74 L542.50,656.58 L543.50,656.41 L544.50,656.26 L545.50,656.11 L546.50,655.96 L547.50,655.83 L548.50,655.70 L549.50,655.57 L550.50,655.46 L551.50,655.35 L552.50,655.25 L553.50,655.15 L554.50,655.06 L555.50,654.98 L556.50,654.91 L557.50,654.85 L558.50,654.79 L559.50,654.75 L560.50,654.71 L561.50,654.67 L562.50,654.65 L563.50,654.64 L564.50,654.63 L565.50,654.63 L566.50,654.64 L567.50,654.66 L568.50,654.69 L569.50,654.73 L570.50,654.77 L571.50,654.83 L572.50,654.89 L573.50,654.96 L574.50,655.04 L575.50,655.13 L576.50,655.23 L577.50,655.33 L578.50,655.45 L579.50,655.57 L580.50,655.70 L581.50,655.84 L582.50,655.99 L583.50,656.15 L584.50,656.31 L585.50,656.48 L586.50,656.66 L587.50,656.85 L588.50,657.05 L589.50,657.25 L590.50,657.46 L591.50,657.67 L592.50,657.89 L593.50,658.12 L594.50,658.35 L595.50,658.59 L596.50,658.84 L597.50,659.08 L598.50,659.34 L599.50,659.60 L600.50,659.86 L601.50,660.13 L602.50,660.40 L603.50,660.68 L604.50,660.96 L605.50,661.25 L606.50,661.53 L607.50,661.82 L608.50,662.12 L609.50,662.42 L610.50,662.71 L611.50,663.02 L612.50,663.32 L613.50,663.62 L614.50,663.93 L615.50,664.24 L616.50,664.55 L617.50,664.86 L618.50,665.17 L619.50,665.48 L620.50,665.80 L621.50,666.11 L622.50,666.42 L623.50,666.73 L624.50,667.04 L625.50,667.35 L626.50,667.66 L627.50,667.97 L628.50,668.28 L629.50,668.58 L630.50,668.89 L631.50,669.19 L632.50,669.49 L633.50,669.78 L634.50,670.08 L635.50,670.37 L636.50,670.66 L637.50,670.94 L638.50,671.23 L639.50,671.50 L640.50,671.78 L641.50,672.05 L642.50,672.32 L643.50,672.58 L644.50,672.84 L645.50,673.09 L646.50,673.34 L647.50,673.58 L648.50,673.82 L649.50,674.06 L650.50,674.29 L651.50,674.51 L652.50,674.73 L653.50,674.94 L654.50,675.15 L655.50,675.35 L656.50,675.54 L657.50,675.73 L658.50,675.92 L659.50,676.09 L660.50,676.26 L661.50,676.43 L662.50,676.58 L663.50,676.73 L664.50,676.88 L665.50,677.01 L666.50,677.14 L667.50,677.27 L668.50,677.38 L669.50,677.49 L670.50,677.59 L671.50,677.68 L672.50,677.77 L673.50,677.85 L674.50,677.92 L675.50,677.99 L676.50,678.04 L677.50,678.09 L678.50,678.13 L679.50,678.17 L680.50,678.19 L681.50,678.21 L682.50,678.22 L683.50,678.23" fill="none" stroke="url(#lg2_1)" stroke-width="2.0" stroke-linejoin="round"/>
<path d="M427.50,665.79 L428.50,665.79 L429.50,665.78 L430.50,665.77 L431.50,665.75 L432.50,665.73 L433.50,665.70 L434.50,665.67 L435.50,665.63 L436.50,665.59 L437.50,665.54 L438.50,665.48 L439.50,665.42 L440.50,665.36 L441.50,665.29 L442.50,665.21 L443.50,665.13 L444.50,665.05 L445.50,664.96 L446.50,664.86 L447.50,664.76 L448.50,664.66 L449.50,664.54 L450.50,664.43 L451.50,664.30 L452.50,664.17 L453.50,664.04 L454.50,663.90 L455.50,663.76 L456.50,663.61 L457.50,663.45 L458.50,663.29 L459.50,663.12 L460.50,662.94 L461.50,662.76 L462.50,662.58 L463.50,662.39 L464.50,662.19 L465.50,661.98 L466.50,661.77 L467.50,661.56 L468.50,661.33 L469.50,661.10 L470.50,660.87 L471.50,660.63 L472.50,660.38 L473.50,660.12 L474.50,659.86 L475.50,659.59 L476.50,659.31 L477.50,659.03 L478.50,658.73 L479.50,658.44 L480.50,658.13 L481.50,657.82 L482.50,657.50 L483.50,657.17 L484.50,656.83 L485.50,656.49 L486.50,656.14 L487.50,655.78 L488.50,655.41 L489.50,655.04 L490.50,654.66 L491.50,654.27 L492.50,653.87 L493.50,653.47 L494.50,653.05 L495.50,652.64 L496.50,652.21 L497.50,651.78 L498.50,651.33 L499.50,650.89 L500.50,650.43 L501.50,649.97 L502.50,649.50 L503.50,649.03 L504.50,648.55 L505.50,648.07 L506.50,647.57 L507.50,647.08 L508.50,646.58 L509.50,646.07 L510.50,645.56 L511.50,645.05 L512.50,644.53 L513.50,644.01 L514.50,643.49 L515.50,642.96 L516.50,642.44 L517.50,641.91 L518.50,641.38 L519.50,640.85 L520.50,640.32 L521.50,639.78 L522.50,639.25 L523.50,638.72 L524.50,638.19 L525.50,637.67 L526.50,637.14 L527.50,636.62 L528.50,636.10 L529.50,635.58 L530.50,635.07 L531.50,634.56 L532.50,634.06 L533.50,633.56 L534.50,633.06 L535.50,632.57 L536.50,632.09 L537.50,631.61 L538.50,631.14 L539.50,630.68 L540.50,630.22 L541.50,629.78 L542.50,629.33 L543.50,628.90 L544.50,628.47 L545.50,628.06 L546.50,627.65 L547.50,627.24 L548.50,626.85 L549.50,626.46 L550.50,626.08 L551.50,625.71 L552.50,625.35 L553.50,624.99 L554.50,624.65 L555.50,624.30 L556.50,623.97 L557.50,623.65 L558.50,623.33 L559.50,623.01 L560.50,622.71 L561.50,622.41 L562.50,622.11 L563.50,621.82 L564.50,621.54 L565.50,621.26 L566.50,620.98 L567.50,620.71 L568.50,620.45 L569.50,620.19 L570.50,619.93 L571.50,619.68 L572.50,619.42 L573.50,619.18 L574.50,618.93 L575.50,618.69 L576.50,618.45 L577.50,618.21 L578.50,617.97 L579.50,617.74 L580.50,617.50 L581.50,617.27 L582.50,617.04 L583.50,616.81 L584.50,616.59 L585.50,616.36 L586.50,616.13 L587.50,615.91 L588.50,615.68 L589.50,615.46 L590.50,615.23 L591.50,615.01 L592.50,614.79 L593.50,614.57 L594.50,614.34 L595.50,614.12 L596.50,613.90 L597.50,613.68 L598.50,613.45 L599.50,613.23 L600.50,613.01 L601.50,612.79 L602.50,612.57 L603.50,612.35 L604.50,612.13 L605.50,611.91 L606.50,611.69 L607.50,611.48 L608.50,611.26 L609.50,611.04 L610.50,610.83 L611.50,610.61 L612.50,610.40 L613.50,610.19 L614.50,609.98 L615.50,609.77 L616.50,609.56 L617.50,609.36 L618.50,609.15 L619.50,608.95 L620.50,608.75 L621.50,608.55 L622.50,608.35 L623.50,608.15 L624.50,607.96 L625.50,607.77 L626.50,607.58 L627.50,607.39 L628.50,607.21 L629.50,607.02 L630.50,606.84 L631.50,606.66 L632.50,606.49 L633.50,606.31 L634.50,606.14 L635.50,605.97 L636.50,605.81 L637.50,605.65 L638.50,605.48 L639.50,605.33 L640.50,605.17 L641.50,605.02 L642.50,604.87 L643.50,604.73 L644.50,604.58 L645.50,604.44 L646.50,604.31 L647.50,604.17 L648.50,604.04 L649.50,603.92 L650.50,603.79 L651.50,603.67 L652.50,603.56 L653.50,603.44 L654.50,603.33 L655.50,603.22 L656.50,603.12 L657.50,603.02 L658.50,602.92 L659.50,602.83 L660.50,602.74 L661.50,602.66 L662.50,602.57 L663.50,602.50 L664.50,602.42 L665.50,602.35 L666.50,602.28 L667.50,602.22 L668.50,602.16 L669.50,602.10 L670.50,602.05 L671.50,602.00 L672.50,601.96 L673.50,601.92 L674.50,601.88 L675.50,601.85 L676.50,601.82 L677.50,601.79 L678.50,601.77 L679.50,601.76 L680.50,601.74 L681.50,601.73 L682.50,601.73 L683.50,601.72" fill="none" stroke="url(#lg2_2)" stroke-width="2.0" stroke-linejoin="round"/>
<path d="M427.50,605.01 L428.50,605.01 L429.50,605.02 L430.50,605.03 L431.50,605.05 L432.50,605.07 L433.50,605.10 L434.50,605.13 L435.50,605.17 L436.50,605.21 L437.50,605.26 L438.50,605.32 L439.50,605.38 L440.50,605.44 L441.50,605.51 L442.50,605.59 L443.50,605.67 L444.50,605.75 L445.50,605.84 L446.50,605.94 L447.50,606.04 L448.50,606.14 L449.50,606.26 L450.50,606.37 L451.50,606.50 L452.50,606.63 L453.50,606.76 L454.50,606.90 L455.50,607.04 L456.50,607.19 L457.50,607.35 L458.50,607.51 L459.50,607.68 L460.50,607.86 L461.50,608.04 L462.50,608.22 L463.50,608.41 L464.50,608.61 L465.50,608.82 L466.50,609.03 L467.50,609.24 L468.50,609.47 L469.50,609.70 L470.50,609.93 L471.50,610.17 L472.50,610.42 L473.50,610.68 L474.50,610.94 L475.50,611.21 L476.50,611.49 L477.50,611.77 L478.50,612.07 L479.50,612.36 L480.50,612.67 L481.50,612.98 L482.50,613.30 L483.50,613.63 L484.50,613.97 L485.50,614.31 L486.50,614.66 L487.50,615.02 L488.50,615.39 L489.50,615.76 L490.50,616.14 L491.50,616.53 L492.50,616.93 L493.50,617.33 L494.50,617.75 L495.50,618.16 L496.50,618.59 L497.50,619.02 L498.50,619.47 L499.50,619.91 L500.50,620.37 L501.50,620.83 L502.50,621.30 L503.50,621.77 L504.50,622.25 L505.50,622.73 L506.50,623.23 L507.50,623.72 L508.50,624.22 L509.50,624.73 L510.50,625.24 L511.50,625.75 L512.50,626.27 L513.50,626.79 L514.50,627.31 L515.50,627.84 L516.50,628.36 L517.50,628.89 L518.50,629.42 L519.50,629.95 L520.50,630.48 L521.50,631.02 L522.50,631.55 L523.50,632.08 L524.50,632.61 L525.50,633.13 L526.50,633.66 L527.50,634.18 L528.50,634.70 L529.50,635.22 L530.50,635.73 L531.50,636.24 L532.50,636.74 L533.50,637.24 L534.50,637.74 L535.50,638.23 L536.50,638.71 L537.50,639.19 L538.50,639.66 L539.50,640.12 L540.50,640.58 L541.50,641.02 L542.50,641.47 L543.50,641.90 L544.50,642.33 L545.50,642.74 L546.50,643.15 L547.50,643.56 L548.50,643.95 L549.50,644.34 L550.50,644.72 L551.50,645.09 L552.50,645.45 L553.50,645.81 L554.50,646.15 L555.50,646.50 L556.50,646.83 L557.50,647.15 L558.50,647.47 L559.50,647.79 L560.50,648.09 L561.50,648.39 L562.50,648.69 L563.50,648.98 L564.50,649.26 L565.50,649.54 L566.50,649.82 L567.50,650.09 L568.50,650.35 L569.50,650.61 L570.50,650.87 L571.50,651.12 L572.50,651.38 L573.50,651.62 L574.50,651.87 L575.50,652.11 L576.50,652.35 L577.50,652.59 L578.50,652.83 L579.50,653.06 L580.50,653.30 L581.50,653.53 L582.50,653.76 L583.50,653.99 L584.50,654.21 L585.50,654.44 L586.50,654.67 L587.50,654.89 L588.50,655.12 L589.50,655.34 L590.50,655.57 L591.50,655.79 L592.50,656.01 L593.50,656.23 L594.50,656.46 L595.50,656.68 L596.50,656.90 L597.50,657.12 L598.50,657.35 L599.50,657.57 L600.50,657.79 L601.50,658.01 L602.50,658.23 L603.50,658.45 L604.50,658.67 L605.50,658.89 L606.50,659.11 L607.50,659.32 L608.50,659.54 L609.50,659.76 L610.50,659.97 L611.50,660.19 L612.50,660.40 L613.50,660.61 L614.50,660.82 L615.50,661.03 L616.50,661.24 L617.50,661.44 L618.50,661.65 L619.50,661.85 L620.50,662.05 L621.50,662.25 L622.50,662.45 L623.50,662.65 L624.50,662.84 L625.50,663.03 L626.50,663.22 L627.50,663.41 L628.50,663.59 L629.50,663.78 L630.50,663.96 L631.50,664.14 L632.50,664.31 L633.50,664.49 L634.50,664.66 L635.50,664.83 L636.50,664.99 L637.50,665.15 L638.50,665.32 L639.50,665.47 L640.50,665.63 L641.50,665.78 L642.50,665.93 L643.50,666.07 L644.50,666.22 L645.50,666.36 L646.50,666.49 L647.50,666.63 L648.50,666.76 L649.50,666.88 L650.50,667.01 L651.50,667.13 L652.50,667.24 L653.50,667.36 L654.50,667.47 L655.50,667.58 L656.50,667.68 L657.50,667.78 L658.50,667.88 L659.50,667.97 L660.50,668.06 L661.50,668.14 L662.50,668.23 L663.50,668.30 L664.50,668.38 L665.50,668.45 L666.50,668.52 L667.50,668.58 L668.50,668.64 L669.50,668.70 L670.50,668.75 L671.50,668.80 L672.50,668.84 L673.50,668.88 L674.50,668.92 L675.50,668.95 L676.50,668.98 L677.50,669.01 L678.50,669.03 L679.50,669.04 L680.50,669.06 L681.50,669.07 L682.50,669.07 L683.50,669.08" fill="none" stroke="url(#lg2_3)" stroke-width="2.0" stroke-linejoin="round"/>
<path d="M427.50,595.63 L428.50,595.63 L429.50,595.63 L430.50,595.62 L431.50,595.62 L432.50,595.61 L433.50,595.61 L434.50,595.60 L435.50,595.59 L436.50,595.58 L437.50,595.56 L438.50,595.55 L439.50,595.53 L440.50,595.52 L441.50,595.50 L442.50,595.48 L443.50,595.46 L444.50,595.44 L445.50,595.42 L446.50,595.40 L447.50,595.37 L448.50,595.35 L449.50,595.32 L450.50,595.29 L451.50,595.26 L452.50,595.23 L453.50,595.20 L454.50,595.17 L455.50,595.14 L456.50,595.11 L457.50,595.08 L458.50,595.04 L459.50,595.01 L460.50,594.97 L461.50,594.94 L462.50,594.90 L463.50,594.87 L464.50,594.83 L465.50,594.80 L466.50,594.76 L467.50,594.73 L468.50,594.70 L469.50,594.68 L470.50,594.67 L471.50,594.67 L472.50,594.69 L473.50,594.76 L474.50,594.89 L475.50,595.08 L476.50,595.32 L477.50,595.60 L478.50,595.89 L479.50,596.19 L480.50,596.51 L481.50,596.83 L482.50,597.15 L483.50,597.48 L484.50,597.82 L485.50,598.15 L486.50,598.49 L487.50,598.82 L488.50,599.16 L489.50,599.50 L490.50,599.84 L491.50,600.18 L492.50,600.52 L493.50,600.86 L494.50,601.20 L495.50,601.54 L496.50,601.88 L497.50,602.21 L498.50,602.55 L499.50,602.88 L500.50,603.21 L501.50,603.54 L502.50,603.87 L503.50,604.20 L504.50,604.52 L505.50,604.84 L506.50,605.16 L507.50,605.48 L508.50,605.79 L509.50,606.10 L510.50,606.41 L511.50,606.71 L512.50,607.02 L513.50,607.31 L514.50,607.61 L515.50,607.90 L516.50,608.19 L517.50,608.47 L518.50,608.76 L519.50,609.03 L520.50,609.31 L521.50,609.58 L522.50,609.85 L523.50,610.11 L524.50,610.37 L525.50,610.62 L526.50,610.87 L527.50,611.12 L528.50,611.36 L529.50,611.60 L530.50,611.83 L531.50,612.06 L532.50,612.28 L533.50,612.50 L534.50,612.71 L535.50,612.92 L536.50,613.12 L537.50,613.32 L538.50,613.51 L539.50,613.70 L540.50,613.88 L541.50,614.06 L542.50,614.22 L543.50,614.39 L544.50,614.54 L545.50,614.69 L546.50,614.84 L547.50,614.97 L548.50,615.10 L549.50,615.23 L550.50,615.34 L551.50,615.45 L552.50,615.55 L553.50,615.65 L554.50,615.74 L555.50,615.82 L556.50,615.89 L557.50,615.95 L558.50,616.01 L559.50,616.05 L560.50,616.09 L561.50,616.13 L562.50,616.15 L563.50,616.16 L564.50,616.17 L565.50,616.17 L566.50,616.16 L567.50,616.14 L568.50,616.11 L569.50,616.07 L570.50,616.03 L571.50,615.97 L572.50,615.91 L573.50,615.84 L574.50,615.76 L575.50,615.67 L576.50,615.57 L577.50,615.47 L578.50,615.35 L579.50,615.23 L580.50,615.10 L581.50,614.96 L582.50,614.81 L583.50,614.65 L584.50,614.49 L585.50,614.32 L586.50,614.14 L587.50,613.95 L588.50,613.75 L589.50,613.55 L590.50,613.34 L591.50,613.13 L592.50,612.91 L593.50,612.68 L594.50,612.45 L595.50,612.21 L596.50,611.96 L597.50,611.72 L598.50,611.46 L599.50,611.20 L600.50,610.94 L601.50,610.67 L602.50,610.40 L603.50,610.12 L604.50,609.84 L605.50,609.55 L606.50,609.27 L607.50,608.98 L608.50,608.68 L609.50,608.38 L610.50,608.09 L611.50,607.78 L612.50,607.48 L613.50,607.18 L614.50,606.87 L615.50,606.56 L616.50,606.25 L617.50,605.94 L618.50,605.63 L619.50,605.32 L620.50,605.00 L621.50,604.69 L622.50,604.38 L623.50,604.07 L624.50,603.76 L625.50,603.45 L626.50,603.14 L627.50,602.83 L628.50,602.52 L629.50,602.22 L630.50,601.91 L631.50,601.61 L632.50,601.31 L633.50,601.02 L634.50,600.72 L635.50,600.43 L636.50,600.14 L637.50,599.86 L638.50,599.57 L639.50,599.30 L640.50,599.02 L641.50,598.75 L642.50,598.48 L643.50,598.22 L644.50,597.96 L645.50,597.71 L646.50,597.46 L647.50,597.22 L648.50,596.98 L649.50,596.74 L650.50,596.51 L651.50,596.29 L652.50,596.07 L653.50,595.86 L654.50,595.65 L655.50,595.45 L656.50,595.26 L657.50,595.07 L658.50,594.88 L659.50,594.71 L660.50,594.54 L661.50,594.37 L662.50,594.22 L663.50,594.07 L664.50,593.92 L665.50,593.79 L666.50,593.66 L667.50,593.53 L668.50,593.42 L669.50,593.31 L670.50,593.21 L671.50,593.12 L672.50,593.03 L673.50,592.95 L674.50,592.88 L675.50,592.81 L676.50,592.76 L677.50,592.71 L678.50,592.67 L679.50,592.63 L680.50,592.61 L681.50,592.59 L682.50,592.58 L683.50,592.57" fill="none" stroke="url(#lg2_4)" stroke-width="2.0" stroke-linejoin="round"/>
<path d="M427.50,586.26 L428.50,586.27 L429.50,586.28 L430.50,586.30 L431.50,586.33 L432.50,586.36 L433.50,586.41 L434.50,586.46 L435.50,586.52 L436.50,586.59 L437.50,586.66 L438.50,586.75 L439.50,586.84 L440.50,586.94 L441.50,587.04 L442.50,587.16 L443.50,587.28 L444.50,587.41 L445.50,587.55 L446.50,587.69 L447.50,587.84 L448.50,588.00 L449.50,588.17 L450.50,588.34 L451.50,588.52 L452.50,588.71 L453.50,588.90 L454.50,589.11 L455.50,589.31 L456.50,589.53 L457.50,589.75 L458.50,589.98 L459.50,590.21 L460.50,590.45 L461.50,590.69 L462.50,590.94 L463.50,591.20 L464.50,591.46 L465.50,591.72 L466.50,591.99 L467.50,592.26 L468.50,592.53 L469.50,592.80 L470.50,593.06 L471.50,593.31 L472.50,593.55 L473.50,593.74 L474.50,593.87 L475.50,593.95 L476.50,593.98 L477.50,593.98 L478.50,593.96 L479.50,593.93 L480.50,593.90 L481.50,593.86 L482.50,593.82 L483.50,593.77 L484.50,593.73 L485.50,593.68 L486.50,593.63 L487.50,593.58 L488.50,593.52 L489.50,593.47 L490.50,593.41 L491.50,593.36 L492.50,593.30 L493.50,593.24 L494.50,593.18 L495.50,593.12 L496.50,593.06 L497.50,593.00 L498.50,592.94 L499.50,592.87 L500.50,592.81 L501.50,592.74 L502.50,592.67 L503.50,592.60 L504.50,592.53 L505.50,592.45 L506.50,592.37 L507.50,592.30 L508.50,592.22 L509.50,592.13 L510.50,592.05 L511.50,591.96 L512.50,591.87 L513.50,591.77 L514.50,591.68 L515.50,591.58 L516.50,591.47 L517.50,591.36 L518.50,591.25 L519.50,591.14 L520.50,591.02 L521.50,590.89 L522.50,590.76 L523.50,590.63 L524.50,590.49 L525.50,590.34 L526.50,590.19 L527.50,590.03 L528.50,589.87 L529.50,589.70 L530.50,589.52 L531.50,589.34 L532.50,589.15 L533.50,588.95 L534.50,588.74 L535.50,588.53 L536.50,588.31 L537.50,588.08 L538.50,587.84 L539.50,587.59 L540.50,587.33 L541.50,587.07 L542.50,586.79 L543.50,586.51 L544.50,586.22 L545.50,585.92 L546.50,585.61 L547.50,585.29 L548.50,584.96 L549.50,584.62 L550.50,584.28 L551.50,583.92 L552.50,583.56 L553.50,583.19 L554.50,582.81 L555.50,582.42 L556.50,582.03 L557.50,581.62 L558.50,581.21 L559.50,580.80 L560.50,580.37 L561.50,579.94 L562.50,579.51 L563.50,579.07 L564.50,578.62 L565.50,578.17 L566.50,577.72 L567.50,577.26 L568.50,576.79 L569.50,576.33 L570.50,575.86 L571.50,575.39 L572.50,574.92 L573.50,574.44 L574.50,573.96 L575.50,573.49 L576.50,573.01 L577.50,572.53 L578.50,572.05 L579.50,571.58 L580.50,571.10 L581.50,570.62 L582.50,570.15 L583.50,569.68 L584.50,569.21 L585.50,568.74 L586.50,568.27 L587.50,567.81 L588.50,567.35 L589.50,566.89 L590.50,566.44 L591.50,565.99 L592.50,565.55 L593.50,565.11 L594.50,564.67 L595.50,564.24 L596.50,563.81 L597.50,563.39 L598.50,562.97 L599.50,562.56 L600.50,562.16 L601.50,561.76 L602.50,561.36 L603.50,560.97 L604.50,560.59 L605.50,560.21 L606.50,559.84 L607.50,559.47 L608.50,559.11 L609.50,558.76 L610.50,558.41 L611.50,558.07 L612.50,557.74 L613.50,557.41 L614.50,557.09 L615.50,556.78 L616.50,556.47 L617.50,556.17 L618.50,555.87 L619.50,555.58 L620.50,555.30 L621.50,555.02 L622.50,554.75 L623.50,554.49 L624.50,554.23 L625.50,553.98 L626.50,553.74 L627.50,553.50 L628.50,553.26 L629.50,553.04 L630.50,552.82 L631.50,552.60 L632.50,552.39 L633.50,552.19 L634.50,552.00 L635.50,551.80 L636.50,551.62 L637.50,551.44 L638.50,551.27 L639.50,551.10 L640.50,550.93 L641.50,550.78 L642.50,550.62 L643.50,550.48 L644.50,550.33 L645.50,550.19 L646.50,550.06 L647.50,549.93 L648.50,549.81 L649.50,549.69 L650.50,549.58 L651.50,549.47 L652.50,549.36 L653.50,549.26 L654.50,549.16 L655.50,549.07 L656.50,548.98 L657.50,548.90 L658.50,548.82 L659.50,548.74 L660.50,548.67 L661.50,548.60 L662.50,548.53 L663.50,548.47 L664.50,548.41 L665.50,548.35 L666.50,548.30 L667.50,548.25 L668.50,548.20 L669.50,548.16 L670.50,548.12 L671.50,548.09 L672.50,548.05 L673.50,548.02 L674.50,548.00 L675.50,547.97 L676.50,547.95 L677.50,547.93 L678.50,547.92 L679.50,547.90 L680.50,547.89 L681.50,547.89 L682.50,547.88 L683.50,547.88" fill="none" stroke="url(#lg2_5)" stroke-width="2.0" stroke-linejoin="round"/>
</g>
<rect x="470" y="694.5" width="171" height="34" fill="#fff" fill-opacity="0.7"/>
<text x="478.65" y="718.30" font-size="21.6" font-style="italic" fill="#000" textLength="9.31" lengthAdjust="spacingAndGlyphs" >b</text>
<text x="486.46" y="718.30" font-size="21.6" fill="#000" textLength="17.34" lengthAdjust="spacingAndGlyphs" >=</text>
<text x="502.48" y="718.30" font-size="21.6" fill="#000" textLength="36.05" lengthAdjust="spacingAndGlyphs" >0.10</text>
<text x="540.54" y="718.30" font-size="21.6" fill="#000" >,</text>
<text x="553.31" y="718.30" font-size="21.6" fill="#000" textLength="14.40" lengthAdjust="spacingAndGlyphs" >Φ</text>
<text x="572.68" y="718.30" font-size="21.6" fill="#000" textLength="18.31" lengthAdjust="spacingAndGlyphs" >=</text>
<text x="595.14" y="718.30" font-size="21.6" fill="#000" textLength="37.60" lengthAdjust="spacingAndGlyphs" >0.36</text>
<rect x="427.3" y="540.3" width="256.99999999999994" height="191.0" fill="none" stroke="#000" stroke-width="1.25"/>
<line x1="427.50" y1="731.3" x2="427.50" y2="737.6999999999999" stroke="#000" stroke-width="1.25"/>
<line x1="491.50" y1="731.3" x2="491.50" y2="737.6999999999999" stroke="#000" stroke-width="1.25"/>
<line x1="555.50" y1="731.3" x2="555.50" y2="737.6999999999999" stroke="#000" stroke-width="1.25"/>
<line x1="619.50" y1="731.3" x2="619.50" y2="737.6999999999999" stroke="#000" stroke-width="1.25"/>
<line x1="421.0" y1="563.10" x2="427.3" y2="563.10" stroke="#000" stroke-width="1.25"/>
<text x="402.86" y="571.80" font-size="25.6" fill="#000" textLength="11.41" lengthAdjust="spacingAndGlyphs" >1</text>
<line x1="421.0" y1="635.40" x2="427.3" y2="635.40" stroke="#000" stroke-width="1.25"/>
<text x="402.14" y="644.10" font-size="25.6" fill="#000" textLength="13.21" lengthAdjust="spacingAndGlyphs" >0</text>
<line x1="421.0" y1="707.70" x2="427.3" y2="707.70" stroke="#000" stroke-width="1.25"/>
<text x="402.84" y="716.70" font-size="25.6" fill="#000" textLength="11.55" lengthAdjust="spacingAndGlyphs" >1</text>
<rect x="385.3" y="709.40" width="15.7" height="1.25" fill="#000"/>
<text x="421.48" y="761.50" font-size="25.6" fill="#000" textLength="12.74" lengthAdjust="spacingAndGlyphs" >0</text>
<text x="491.50" y="752.00" font-size="18" text-anchor="middle"><tspan font-style="italic">π</tspan></text>
<text x="491.50" y="769.70" font-size="18" text-anchor="middle">4</text>
<rect x="486.16" y="754.40" width="10.69" height="1.4" fill="#000"/>
<text x="555.50" y="752.00" font-size="18" text-anchor="middle"><tspan font-style="italic">π</tspan></text>
<text x="555.50" y="769.70" font-size="18" text-anchor="middle">2</text>
<rect x="550.16" y="754.40" width="10.69" height="1.4" fill="#000"/>
<text x="619.50" y="752.00" font-size="18" text-anchor="middle">3<tspan font-style="italic">π</tspan></text>
<text x="619.50" y="769.70" font-size="18" text-anchor="middle">4</text>
<rect x="609.66" y="754.40" width="19.69" height="1.4" fill="#000"/>
<text x="504.93" y="796.90" font-size="22.2" font-style="italic" fill="#000" >k</text>
<text x="523.00" y="796.90" font-size="22.2" fill="#000" >(</text>
<text x="531.33" y="796.90" font-size="22.2" font-style="italic" fill="#000" >k</text>
<text x="542.83" y="799.80" font-size="15.5" font-style="italic" fill="#000" >x</text>
<text x="555.53" y="796.90" font-size="22.2" fill="#000" textLength="16.62" lengthAdjust="spacingAndGlyphs" >=</text>
<text x="579.63" y="796.90" font-size="22.2" font-style="italic" fill="#000" >k</text>
<text x="591.32" y="799.80" font-size="15.5" font-style="italic" fill="#000" >y</text>
<text x="598.93" y="796.90" font-size="22.2" fill="#000" >)</text>
<text transform="translate(382.4,636.2) rotate(-90)" x="0" y="0" font-size="22.5" text-anchor="middle" textLength="110" lengthAdjust="spacingAndGlyphs">Energy (eV)</text>
<text x="362.25" y="564.80" font-size="21.5" fill="#000" >f</text>
<text x="371.19" y="564.80" font-size="23.6" fill="#000" >)</text></g></svg></body></html>
